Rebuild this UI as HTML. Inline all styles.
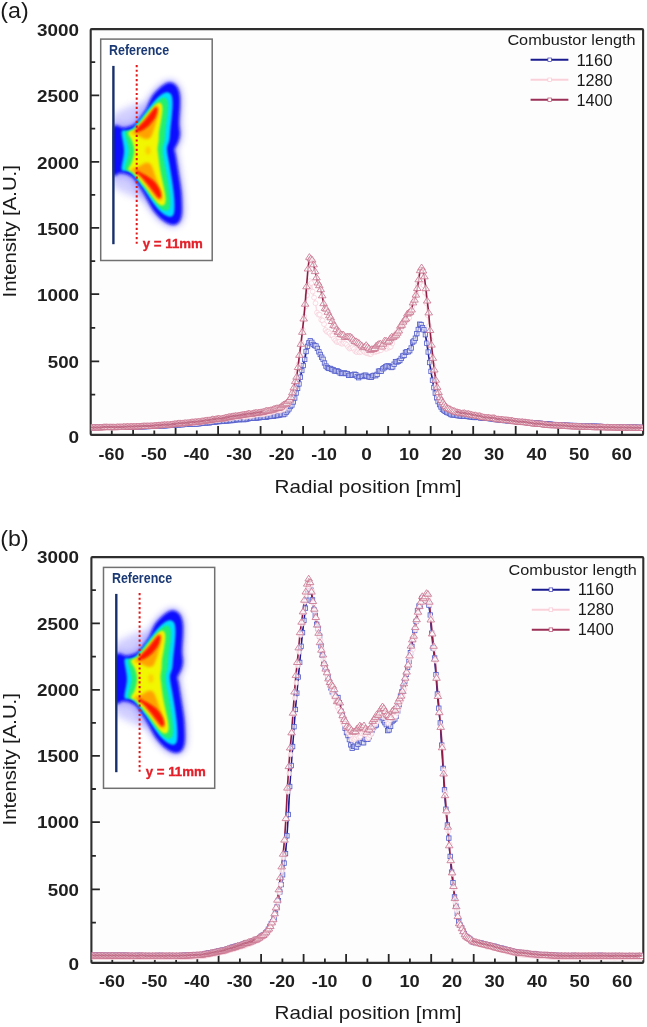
<!DOCTYPE html>
<html lang="en"><head><meta charset="utf-8"><title>Intensity profiles vs. radial position</title>
<style>html,body{margin:0;padding:0;background:#fff}body{width:647px;height:1027px;overflow:hidden}svg{display:block;font-family:"Liberation Sans", Arial, Helvetica, sans-serif}</style></head><body>
<svg width="647" height="1027" viewBox="0 0 647 1027">
<defs>
<filter id="fb4" x="-30%" y="-30%" width="160%" height="160%"><feGaussianBlur stdDeviation="3.6"/></filter>
<filter id="fb2" x="-30%" y="-30%" width="160%" height="160%"><feGaussianBlur stdDeviation="1.6"/></filter>
<filter id="fb15" x="-30%" y="-30%" width="160%" height="160%"><feGaussianBlur stdDeviation="1.5"/></filter>
<filter id="fb1" x="-30%" y="-30%" width="160%" height="160%"><feGaussianBlur stdDeviation="1.2"/></filter>
<clipPath id="clipa"><rect x="90.8" y="29.1" width="552.2" height="406.8"/></clipPath>
<clipPath id="clipb"><rect x="91.5" y="557.1" width="551.7" height="406.8"/></clipPath>
<clipPath id="wall"><rect x="112.6" y="40" width="100" height="218"/></clipPath>
<filter id="soft" x="0" y="0" width="100%" height="100%" filterUnits="userSpaceOnUse" primitiveUnits="userSpaceOnUse"><feGaussianBlur stdDeviation="0.55"/></filter>
</defs>
<rect width="647" height="1027" fill="#fff"/>
<!-- panel a -->
<rect x="90.7" y="29.1" width="552.4" height="405.8" fill="#fdfdfe"/>
<rect x="100.7" y="39.1" width="111.5" height="221.4" fill="#fff" stroke="#707070" stroke-width="1.5"/>
<g transform="translate(0 0)" clip-path="url(#wall)">
<path d="M109.4 127.8C111.7 119.8 119.8 125.6 123.2 124.8C126.6 124.1 127.9 124.1 129.7 123.4C131.6 122.6 132.6 121.8 134.3 120.2C135.9 118.6 137.7 115.9 139.4 113.6C141.1 111.3 142.3 109.4 144.3 106.3C146.2 103.2 148.3 98.6 151.1 95C153.8 91.5 157.6 87.4 160.8 85C164 82.6 167.3 80.7 170.2 80.8C173.1 80.9 176.3 83.3 178.1 85.7C180 88.1 180.8 91.6 181.4 95.1C181.9 98.6 181.7 103.1 181.6 106.8C181.5 110.4 181 114.1 180.9 117.2C180.7 120.2 180.6 122.4 180.7 125.2C180.8 127.9 181.7 130.9 181.6 133.7C181.5 136.6 180.6 139.7 179.8 142C179 144.4 177.6 146.5 176.9 147.8C176.3 149.1 176 148.9 176 150C176 151.1 176.7 151.8 177.1 154.4C177.6 157 178.3 161.7 179 165.6C179.6 169.5 180.2 173.7 180.9 177.7C181.5 181.8 182.2 186 182.7 189.9C183.1 193.9 183.4 197.2 183.5 201.3C183.6 205.4 184 210.7 183.4 214.4C182.8 218.2 181.9 221.6 179.9 223.6C177.9 225.6 174.6 226.8 171.4 226.3C168.2 225.8 164.2 223.4 160.8 220.7C157.4 217.9 154.2 214.1 151.1 209.9C147.9 205.8 144.2 199.8 141.6 195.7C139 191.7 137.2 188.5 135.4 185.8C133.6 183.2 132.4 181.3 130.8 179.9C129.3 178.4 127.8 177.7 125.9 177C124.1 176.4 122.5 176.6 119.7 176C116.9 175.3 111.1 181.2 109.3 173.1C107.6 165.1 107.1 135.9 109.4 127.8Z" fill="#7a74ff" opacity="0.78" filter="url(#fb4)"/>
<path d="M112.5 129C115.1 130.8 123.8 128.7 128 127C132.2 125.3 135 122.3 138 119C141 115.7 145.7 109.7 146 107C146.3 104.3 143.3 102.8 140 103C136.7 103.2 130.6 105.8 126 108C121.4 110.2 114.8 112.5 112.5 116C110.2 119.5 109.9 127.2 112.5 129Z" fill="#9a94ff" opacity="0.45" filter="url(#fb4)"/>
<path d="M112.5 172.5C115.1 170.7 123.8 172.8 128 174.5C132.2 176.2 135 179.2 138 182.5C141 185.8 145.7 191.8 146 194.5C146.3 197.2 143.3 198.7 140 198.5C136.7 198.3 130.6 195.7 126 193.5C121.4 191.3 114.8 189 112.5 185.5C110.2 182 109.9 174.3 112.5 172.5Z" fill="#9a94ff" opacity="0.45" filter="url(#fb4)"/>
<path d="M112.3 128.6C114.2 121.1 120.5 128.2 123.6 127.8C126.7 127.4 128.8 127 130.9 126.1C133.1 125.2 134.5 124.1 136.4 122.4C138.2 120.6 140.1 117.8 141.8 115.4C143.6 113 145.1 111.1 146.8 107.9C148.6 104.7 149.9 99.7 152.4 96.1C154.9 92.5 158.9 88.6 161.9 86.3C164.8 84.1 167.7 82.4 170.2 82.5C172.7 82.6 175.2 84.5 176.7 86.6C178.3 88.8 179.2 92 179.7 95.4C180.2 98.7 180 103.1 179.9 106.7C179.8 110.4 179.3 114 179.2 117.1C179 120.2 178.9 122.5 179 125.2C179.1 128 180 131 179.9 133.7C179.8 136.4 179 139.2 178.2 141.5C177.5 143.7 176 145.7 175.4 147.1C174.7 148.5 174.3 148.7 174.3 150C174.3 151.3 175 152.1 175.5 154.7C176 157.4 176.7 162 177.3 165.9C177.9 169.7 178.6 173.9 179.2 178C179.8 182 180.6 186.2 181 190.1C181.4 194 181.7 197.3 181.8 201.4C181.9 205.4 182.2 210.7 181.7 214.2C181.2 217.7 180.3 220.7 178.6 222.5C177 224.2 174.6 225.2 171.8 224.7C169 224.1 165.1 222 161.8 219.4C158.6 216.7 155.4 213.1 152.4 208.9C149.5 204.7 146.6 198.2 144.1 194.1C141.7 190 139.7 186.9 137.8 184.1C136 181.4 134.7 179.3 132.9 177.6C131 176 129.1 175 126.9 174.2C124.8 173.4 122.4 173.3 120 173C117.5 172.7 113.6 180 112.3 172.6C111 165.2 110.4 136 112.3 128.6Z" fill="#1010ff" filter="url(#fb2)"/>
<path d="M121.6 132.1C122.1 128.7 125.4 131.4 127.1 130.9C128.9 130.3 130.9 129.7 132.2 128.8C133.6 128 133.2 128.2 135.3 125.7C137.4 123.1 141.5 117.6 144.6 113.5C147.7 109.5 151 104.8 153.9 101.6C156.8 98.3 159.7 95.7 162.1 94.1C164.5 92.6 166.7 92.1 168.3 92.4C169.9 92.7 171 93.9 171.7 95.8C172.4 97.8 172.6 100.5 172.6 104C172.6 107.5 172.1 112.7 171.7 117C171.3 121.3 170.7 126 170.3 129.9C169.9 133.7 169.9 137.3 169.4 139.9C168.9 142.6 167.8 144.2 167.4 145.9C167 147.6 166.9 148.3 167 150C167.1 151.8 167.5 154.1 167.9 156.5C168.3 158.9 168.8 160.7 169.4 164.4C170 168 171 173.6 171.7 178.3C172.4 182.9 173.1 187.7 173.6 192.1C174.1 196.6 174.5 201.4 174.5 205.1C174.5 208.8 174.5 212.3 173.6 214.2C172.8 216.2 171.2 217 169.3 216.8C167.4 216.6 164.7 215.2 162.2 213.1C159.6 211 156.8 207.8 153.9 204C151 200.1 147.7 194.6 144.6 190.1C141.5 185.6 137.5 179.9 135.3 177.1C133.1 174.2 132.6 174.3 131.2 173.2C129.9 172.1 128.8 171.3 127.2 170.6C125.5 170 122.1 172.6 121.6 169.3C121.1 166 124 157 124 150.8C124 144.6 121.1 135.4 121.6 132.1Z" fill="#00dcff" filter="url(#fb1)"/>
<path d="M125 132.8C125.2 129.4 128.3 131.4 130 130.5C131.7 129.6 132.6 129.6 135 127.2C137.4 124.8 141.2 119.8 144.3 116.1C147.4 112.4 150.8 107.9 153.6 105C156.4 102.1 159 99.7 161 98.5C163 97.3 164.4 97.2 165.6 98C166.8 98.8 167.6 100.6 167.9 103.1C168.2 105.6 167.9 109 167.5 113.2C167.1 117.4 166.1 123.6 165.6 128.1C165.1 132.6 165.1 137 164.7 140C164.3 143 163.3 144.3 163 146C162.7 147.7 162.7 148.3 162.7 150C162.7 151.7 162.7 153.2 163.2 156.4C163.7 159.6 164.8 164.5 165.6 168.9C166.4 173.3 167.2 178.2 167.9 182.8C168.6 187.4 169.5 192.7 169.8 196.7C170.1 200.7 170.4 204.6 169.8 206.9C169.2 209.2 168 210.4 166.5 210.7C165 211 163.2 210.5 161 208.8C158.8 207.1 156.4 204.1 153.6 200.5C150.8 196.9 147.4 191.6 144.3 187.5C141.2 183.4 137.4 178.6 135 175.9C132.6 173.2 131.7 172.7 130 171.5C128.3 170.3 125.2 172.2 125 168.8C124.8 165.4 128.7 156.8 128.7 150.8C128.7 144.8 124.8 136.2 125 132.8Z" fill="#20f070" filter="url(#fb1)"/>
<path d="M128.2 133.2C128.2 131.5 130.9 131.2 132 130.5C133.1 129.8 132.9 131.2 135 129.1C137.1 127 141.4 121.6 144.3 118C147.2 114.4 150.3 110.2 152.6 107.7C154.9 105.2 156.7 103.7 158.2 103.1C159.7 102.5 160.7 102.9 161.4 104C162.1 105.1 162.5 106.7 162.4 109.5C162.3 112.3 161.6 117 161 120.7C160.4 124.4 159.5 128.6 159.1 131.8C158.7 135 158.9 137.6 158.7 140C158.5 142.4 158 144.3 157.8 146C157.6 147.7 157.5 148.5 157.6 150C157.7 151.5 157.8 151.8 158.2 155C158.6 158.2 159.3 164.6 160 168.9C160.7 173.2 161.6 177.1 162.4 181C163.2 184.9 164.2 188.8 164.7 192.1C165.2 195.3 165.8 198.3 165.6 200.5C165.4 202.7 164.9 204.5 163.8 205.1C162.7 205.7 161 205.6 159.1 204.2C157.2 202.8 155.1 199.8 152.6 196.7C150.1 193.6 147.2 189.3 144.3 185.6C141.4 181.9 137.1 176.8 135 174.5C132.9 172.2 133.1 172.3 132 171.5C130.9 170.7 128.2 171 128.2 169.4C128.2 167.8 130.9 165.1 131.9 162C132.9 158.9 134.2 154.4 134.2 150.8C134.2 147.2 132.9 143.5 131.9 140.6C130.9 137.7 128.2 134.9 128.2 133.2Z" fill="#f2f600" filter="url(#fb1)"/>
<path d="M131 133C131.3 132.2 134.7 131.7 136.9 129.5C139.1 127.3 141.8 122.9 144.3 119.7C146.8 116.5 149.7 112.8 151.7 110.5C153.7 108.2 155.1 106.3 156.3 105.8C157.5 105.3 158.4 106.2 158.7 107.7C159 109.2 158.8 112.3 158.2 115.1C157.6 117.9 156.3 121.6 155.4 124.4C154.5 127.2 153.9 129.7 153 132C152.1 134.3 151.3 136.8 150 138C148.7 139.2 146.7 139.2 145 139C143.3 138.8 141.7 137.2 140 136.5C138.3 135.8 136.5 135.1 135 134.5C133.5 133.9 130.7 133.8 131 133Z" fill="#ffa200" filter="url(#fb15)"/>
<path d="M131 169.5C130.8 168.7 133.5 168.6 135 168C136.5 167.4 138.3 166.8 140 166C141.7 165.2 143.3 163.4 145 163C146.7 162.6 148.7 162.5 150 163.5C151.3 164.5 152 166.6 153 169C154 171.4 154.8 174.8 156 178C157.2 181.2 158.9 184.8 160 188C161.1 191.2 162.4 194.9 162.5 197C162.6 199.1 161.4 200.2 160.5 200.5C159.6 200.8 158.4 200.2 157 199C155.6 197.8 153.8 195.4 152 193C150.2 190.6 148 187.2 146 184.5C144 181.8 141.7 178.9 140 177C138.3 175.1 137.5 174.2 136 173C134.5 171.8 131.2 170.3 131 169.5Z" fill="#ffa200" filter="url(#fb15)"/>
<ellipse cx="148" cy="150.5" rx="2.6" ry="4.2" fill="#ffc400" opacity="0.8" filter="url(#fb15)"/>
<path d="M136.9 128.1C138.4 126.3 141.8 123.5 144.3 120.7C146.8 117.9 149.8 113.7 151.7 111.4C153.6 109.2 155 107.5 155.9 107.2C156.8 106.9 157.4 107.9 157.3 109.5C157.2 111.1 156.7 114.4 155.4 116.9C154.2 119.4 151.7 122.4 149.8 124.4C148 126.4 146.2 127.8 144.3 129C142.5 130.2 140.2 131.4 138.7 131.8C137.2 132.2 135.8 132.1 135.5 131.5C135.2 130.9 135.4 129.9 136.9 128.1Z" fill="#ff1400" filter="url(#fb1)"/>
<path d="M135.9 172.6C136.5 173.5 138.7 174.4 140.6 176.3C142.5 178.2 144.9 181.2 147.1 183.8C149.3 186.4 151.8 189.8 153.6 192.1C155.4 194.4 157 196.9 158.2 197.7C159.4 198.5 160.7 197.9 161 196.7C161.3 195.5 160.9 192.6 160 190.3C159.1 188 157.2 185 155.4 182.8C153.6 180.6 151.1 178.8 148.9 177.3C146.7 175.8 144.4 174.7 142.4 173.6C140.4 172.5 138 171 136.9 170.8C135.8 170.6 135.3 171.7 135.9 172.6Z" fill="#ff1400" filter="url(#fb1)"/>
</g>
<path d="M113.4 65.9V244.2" stroke="#17306c" stroke-width="2.4"/>
<path d="M136.7 65V243.8" stroke="#e01818" stroke-width="2" stroke-dasharray="2.2 2.45"/>
<text x="109" y="55.3" font-size="15.0" font-weight="bold" text-anchor="start" fill="#1b3a75" textLength="60.2" lengthAdjust="spacingAndGlyphs">Reference</text>
<text x="142.8" y="248.4" font-size="13.4" font-weight="bold" text-anchor="start" fill="#e3202a" textLength="60" lengthAdjust="spacingAndGlyphs" stroke="#e3202a" stroke-width="0.35">y = 11mm</text>
<rect x="90.7" y="29.1" width="552.4" height="405.8" rx="1" fill="none" stroke="#2e2e2e" stroke-width="2.1"/>
<path d="M90.7 62.2h4.5M90.7 95.4h8.5M90.7 128.6h4.5M90.7 161.8h8.5M90.7 194.9h4.5M90.7 227.9h8.5M90.7 261.1h4.5M90.7 294.2h8.5M90.7 327.8h4.5M90.7 361.3h8.5M90.7 394.7h4.5" stroke="#262626" stroke-width="1.8" fill="none"/>
<path d="M111.8 434.9v-4.5M133.1 434.9v-9M154.3 434.9v-4.5M175.6 434.9v-9M196.8 434.9v-4.5M218.1 434.9v-9M239.4 434.9v-4.5M260.6 434.9v-9M281.9 434.9v-4.5M303.1 434.9v-9M324.4 434.9v-4.5M345.6 434.9v-9M366.9 434.9v-4.5M388.2 434.9v-9M409.4 434.9v-4.5M430.7 434.9v-9M451.9 434.9v-4.5M473.2 434.9v-9M494.4 434.9v-4.5M515.7 434.9v-9M537 434.9v-4.5M558.2 434.9v-9M579.5 434.9v-4.5M600.7 434.9v-9M622 434.9v-4.5" stroke="#262626" stroke-width="1.8" fill="none"/>
<g clip-path="url(#clipa)" filter="url(#soft)">
<polyline points="91.7,427.6 93.1,427.5 94.5,427.3 95.9,427.2 97.3,427.3 98.8,427.3 100.2,427.3 101.6,427.3 103,427.3 104.4,427.2 105.9,427.2 107.3,427.2 108.7,427.2 110.1,427.2 111.5,427 113,427 114.4,427.2 115.8,427.2 117.2,427.1 118.6,427 120.1,427.1 121.5,427 122.9,427 124.3,427.1 125.7,427 127.2,426.9 128.6,426.9 130,426.8 131.4,426.8 132.8,426.7 134.3,426.7 135.7,426.7 137.1,426.7 138.5,426.7 139.9,426.7 141.4,426.7 142.8,426.7 144.2,426.7 145.6,426.5 147,426.6 148.5,426.5 149.9,426.4 151.3,426.4 152.7,426.4 154.1,426.3 155.6,426.1 157,426.1 158.4,426 159.8,425.7 161.2,425.7 162.7,425.8 164.1,425.8 165.5,425.7 166.9,425.6 168.3,425.5 169.8,425.4 171.2,425.3 172.6,425.1 174,425 175.4,425 176.9,424.8 178.3,424.9 179.7,424.7 181.1,424.7 182.5,424.7 184,424.4 185.4,424.3 186.8,424.4 188.2,424.1 189.6,424.1 191.1,424.1 192.5,424 193.9,424 195.3,423.9 196.7,423.9 198.2,423.8 199.6,423.6 201,423.3 202.4,423.1 203.8,422.9 205.3,422.9 206.7,422.7 208.1,422.8 209.5,422.8 210.9,422.3 212.4,422.1 213.8,422.1 215.2,422 216.6,421.7 218,421.6 219.5,421.5 220.9,421.4 222.3,421.4 223.7,421.1 225.1,421 226.6,420.9 228,420.8 229.4,420.5 230.8,420.6 232.2,420.5 233.7,420.3 235.1,420 236.5,419.5 237.9,419.6 239.3,419.7 240.8,419.5 242.2,419.4 243.6,419.6 245,419.5 246.4,419.1 247.9,418.9 249.3,418.2 250.7,418 252.1,418.3 253.5,418.2 255,418.1 256.4,418 257.8,417.8 259.2,417.7 260.6,417.4 262.1,417 263.5,417.1 264.9,417.2 266.3,417.2 267.7,416.6 269.2,416.5 270.6,416.3 272,416.1 273.4,416.2 274.8,415.7 276.3,415.6 277.7,415.5 279.1,415.2 280.5,414.6 281.9,414.5 283.4,414.6 284.8,413.9 286.2,412.2 287.6,410.7 289,408.9 290.5,406.5 291.9,405 293.3,402 294.7,398 296.1,393 297.6,388.4 299,383.9 300.4,377.1 301.8,370.5 303.2,365.5 304.7,359.4 306.1,351.5 307.5,346.3 308.9,342.8 310.3,340.8 311.8,342.3 313.2,344.5 314.6,345.5 316,346 317.4,348.4 318.9,351.8 320.3,354.5 321.7,357.2 323.1,359.3 324.5,363 326,366.1 327.4,367.6 328.8,368.4 330.2,368.5 331.6,369.3 333.1,369.7 334.5,371 335.9,371 337.3,370.9 338.7,371.6 340.2,373 341.6,373.5 343,373.4 344.4,372.9 345.8,373.5 347.3,373.6 348.7,375.4 350.1,375.2 351.5,375.2 352.9,375 354.4,374.2 355.8,374.7 357.2,376.5 358.6,377.7 360,376.5 361.5,376.3 362.9,376.5 364.3,375.4 365.7,375.2 367.1,376.3 368.6,376.8 370,377.1 371.4,377.3 372.8,375.8 374.2,375.3 375.7,375.7 377.1,374.4 378.5,371.2 379.9,370.9 381.3,371.2 382.8,368.8 384.2,367.7 385.6,366.8 387,366 388.4,365.9 389.9,366.7 391.3,367.5 392.7,366.9 394.1,364.2 395.5,361.6 397,362 398.4,361.3 399.8,360.5 401.2,358.4 402.6,356 404.1,355.4 405.5,352.4 406.9,351.7 408.3,351.8 409.7,350.7 411.2,348 412.6,342.1 414,340.9 415.4,338.2 416.8,333.6 418.3,329.5 419.7,324.2 421.1,324.6 422.5,327.6 423.9,329.8 425.4,334.7 426.8,343.2 428.2,352 429.6,362.5 431,371.4 432.5,380.2 433.9,387.6 435.3,393.1 436.7,397.8 438.1,401.6 439.6,404.6 441,407 442.4,409.2 443.8,410.2 445.2,411.4 446.7,412.3 448.1,412.8 449.5,413.5 450.9,414.5 452.3,415 453.8,414.8 455.2,415 456.6,415.2 458,415.7 459.4,415.8 460.9,416 462.3,416.2 463.7,416.4 465.1,416.1 466.5,416.2 468,416.5 469.4,416.8 470.8,416.8 472.2,417.1 473.6,417.4 475.1,417.5 476.5,417.4 477.9,417.3 479.3,417.4 480.7,418 482.2,418.1 483.6,417.9 485,418.1 486.4,418.2 487.8,418.3 489.3,418.6 490.7,418.7 492.1,419 493.5,419.3 494.9,419.4 496.4,419.6 497.8,419.7 499.2,419.8 500.6,420.1 502,420.4 503.5,420.4 504.9,420.6 506.3,420.5 507.7,420.8 509.1,420.9 510.6,420.8 512,420.8 513.4,421.3 514.8,421.3 516.2,421.4 517.7,421.7 519.1,421.9 520.5,422.1 521.9,422.1 523.3,422.1 524.8,422.4 526.2,422.4 527.6,422.6 529,422.8 530.4,423 531.9,422.9 533.3,422.9 534.7,423 536.1,422.9 537.5,423.1 539,423.2 540.4,423.4 541.8,423.6 543.2,423.8 544.6,424.1 546.1,424.1 547.5,423.9 548.9,424.1 550.3,424.2 551.7,424.4 553.2,424.6 554.6,424.7 556,424.8 557.4,424.9 558.8,424.8 560.3,424.7 561.7,424.8 563.1,425 564.5,425.1 565.9,425.2 567.4,425.4 568.8,425.4 570.2,425.5 571.6,425.5 573,425.6 574.5,425.5 575.9,425.6 577.3,425.6 578.7,425.7 580.1,425.9 581.6,425.7 583,425.7 584.4,425.9 585.8,425.9 587.2,425.9 588.7,426.1 590.1,426.2 591.5,426.3 592.9,426.3 594.3,426.2 595.8,426.3 597.2,426.5 598.6,426.4 600,426.4 601.4,426.6 602.9,426.7 604.3,426.7 605.7,426.6 607.1,426.8 608.5,426.7 610,426.7 611.4,426.8 612.8,426.8 614.2,426.7 615.6,426.9 617.1,427 618.5,426.8 619.9,426.8 621.3,427 622.7,427.1 624.2,427.2 625.6,427.2 627,427.1 628.4,427.2 629.8,427.3 631.3,427.3 632.7,427.3 634.1,427.2 635.5,427.2 636.9,427.3 638.4,427.3 639.8,427.5 641.2,427.5 642.6,427.5" fill="none" stroke="#1d1d96" stroke-width="1.7" stroke-linejoin="round"/>
<g fill="#fff" fill-opacity="0.6" stroke="#5660cc" stroke-width="0.85">
<rect x="89.5" y="425.4" width="4.4" height="4.4"/>
<rect x="90.9" y="425.3" width="4.4" height="4.4"/>
<rect x="92.3" y="425.1" width="4.4" height="4.4"/>
<rect x="93.7" y="425" width="4.4" height="4.4"/>
<rect x="95.1" y="425.1" width="4.4" height="4.4"/>
<rect x="96.6" y="425.1" width="4.4" height="4.4"/>
<rect x="98" y="425.1" width="4.4" height="4.4"/>
<rect x="99.4" y="425.1" width="4.4" height="4.4"/>
<rect x="100.8" y="425.1" width="4.4" height="4.4"/>
<rect x="102.2" y="425" width="4.4" height="4.4"/>
<rect x="103.7" y="425" width="4.4" height="4.4"/>
<rect x="105.1" y="425" width="4.4" height="4.4"/>
<rect x="106.5" y="425" width="4.4" height="4.4"/>
<rect x="107.9" y="425" width="4.4" height="4.4"/>
<rect x="109.3" y="424.8" width="4.4" height="4.4"/>
<rect x="110.8" y="424.8" width="4.4" height="4.4"/>
<rect x="112.2" y="425" width="4.4" height="4.4"/>
<rect x="113.6" y="425" width="4.4" height="4.4"/>
<rect x="115" y="424.9" width="4.4" height="4.4"/>
<rect x="116.4" y="424.8" width="4.4" height="4.4"/>
<rect x="117.9" y="424.9" width="4.4" height="4.4"/>
<rect x="119.3" y="424.8" width="4.4" height="4.4"/>
<rect x="120.7" y="424.8" width="4.4" height="4.4"/>
<rect x="122.1" y="424.9" width="4.4" height="4.4"/>
<rect x="123.5" y="424.8" width="4.4" height="4.4"/>
<rect x="125" y="424.7" width="4.4" height="4.4"/>
<rect x="126.4" y="424.7" width="4.4" height="4.4"/>
<rect x="127.8" y="424.6" width="4.4" height="4.4"/>
<rect x="129.2" y="424.6" width="4.4" height="4.4"/>
<rect x="130.6" y="424.5" width="4.4" height="4.4"/>
<rect x="132.1" y="424.5" width="4.4" height="4.4"/>
<rect x="133.5" y="424.5" width="4.4" height="4.4"/>
<rect x="134.9" y="424.5" width="4.4" height="4.4"/>
<rect x="136.3" y="424.5" width="4.4" height="4.4"/>
<rect x="137.7" y="424.5" width="4.4" height="4.4"/>
<rect x="139.2" y="424.5" width="4.4" height="4.4"/>
<rect x="140.6" y="424.5" width="4.4" height="4.4"/>
<rect x="142" y="424.5" width="4.4" height="4.4"/>
<rect x="143.4" y="424.3" width="4.4" height="4.4"/>
<rect x="144.8" y="424.4" width="4.4" height="4.4"/>
<rect x="146.3" y="424.3" width="4.4" height="4.4"/>
<rect x="147.7" y="424.2" width="4.4" height="4.4"/>
<rect x="149.1" y="424.2" width="4.4" height="4.4"/>
<rect x="150.5" y="424.2" width="4.4" height="4.4"/>
<rect x="151.9" y="424.1" width="4.4" height="4.4"/>
<rect x="153.4" y="423.9" width="4.4" height="4.4"/>
<rect x="154.8" y="423.9" width="4.4" height="4.4"/>
<rect x="156.2" y="423.8" width="4.4" height="4.4"/>
<rect x="157.6" y="423.5" width="4.4" height="4.4"/>
<rect x="159" y="423.5" width="4.4" height="4.4"/>
<rect x="160.5" y="423.6" width="4.4" height="4.4"/>
<rect x="161.9" y="423.6" width="4.4" height="4.4"/>
<rect x="163.3" y="423.5" width="4.4" height="4.4"/>
<rect x="164.7" y="423.4" width="4.4" height="4.4"/>
<rect x="166.1" y="423.3" width="4.4" height="4.4"/>
<rect x="167.6" y="423.2" width="4.4" height="4.4"/>
<rect x="169" y="423.1" width="4.4" height="4.4"/>
<rect x="170.4" y="422.9" width="4.4" height="4.4"/>
<rect x="171.8" y="422.8" width="4.4" height="4.4"/>
<rect x="173.2" y="422.8" width="4.4" height="4.4"/>
<rect x="174.7" y="422.6" width="4.4" height="4.4"/>
<rect x="176.1" y="422.7" width="4.4" height="4.4"/>
<rect x="177.5" y="422.5" width="4.4" height="4.4"/>
<rect x="178.9" y="422.5" width="4.4" height="4.4"/>
<rect x="180.3" y="422.5" width="4.4" height="4.4"/>
<rect x="181.8" y="422.2" width="4.4" height="4.4"/>
<rect x="183.2" y="422.1" width="4.4" height="4.4"/>
<rect x="184.6" y="422.2" width="4.4" height="4.4"/>
<rect x="186" y="421.9" width="4.4" height="4.4"/>
<rect x="187.4" y="421.9" width="4.4" height="4.4"/>
<rect x="188.9" y="421.9" width="4.4" height="4.4"/>
<rect x="190.3" y="421.8" width="4.4" height="4.4"/>
<rect x="191.7" y="421.8" width="4.4" height="4.4"/>
<rect x="193.1" y="421.7" width="4.4" height="4.4"/>
<rect x="194.5" y="421.7" width="4.4" height="4.4"/>
<rect x="196" y="421.6" width="4.4" height="4.4"/>
<rect x="197.4" y="421.4" width="4.4" height="4.4"/>
<rect x="198.8" y="421.1" width="4.4" height="4.4"/>
<rect x="200.2" y="420.9" width="4.4" height="4.4"/>
<rect x="201.6" y="420.7" width="4.4" height="4.4"/>
<rect x="203.1" y="420.7" width="4.4" height="4.4"/>
<rect x="204.5" y="420.5" width="4.4" height="4.4"/>
<rect x="205.9" y="420.6" width="4.4" height="4.4"/>
<rect x="207.3" y="420.6" width="4.4" height="4.4"/>
<rect x="208.7" y="420.1" width="4.4" height="4.4"/>
<rect x="210.2" y="419.9" width="4.4" height="4.4"/>
<rect x="211.6" y="419.9" width="4.4" height="4.4"/>
<rect x="213" y="419.8" width="4.4" height="4.4"/>
<rect x="214.4" y="419.5" width="4.4" height="4.4"/>
<rect x="215.8" y="419.4" width="4.4" height="4.4"/>
<rect x="217.3" y="419.3" width="4.4" height="4.4"/>
<rect x="218.7" y="419.2" width="4.4" height="4.4"/>
<rect x="220.1" y="419.2" width="4.4" height="4.4"/>
<rect x="221.5" y="418.9" width="4.4" height="4.4"/>
<rect x="222.9" y="418.8" width="4.4" height="4.4"/>
<rect x="224.4" y="418.7" width="4.4" height="4.4"/>
<rect x="225.8" y="418.6" width="4.4" height="4.4"/>
<rect x="227.2" y="418.3" width="4.4" height="4.4"/>
<rect x="228.6" y="418.4" width="4.4" height="4.4"/>
<rect x="230" y="418.3" width="4.4" height="4.4"/>
<rect x="231.5" y="418.1" width="4.4" height="4.4"/>
<rect x="232.9" y="417.8" width="4.4" height="4.4"/>
<rect x="234.3" y="417.3" width="4.4" height="4.4"/>
<rect x="235.7" y="417.4" width="4.4" height="4.4"/>
<rect x="237.1" y="417.5" width="4.4" height="4.4"/>
<rect x="238.6" y="417.3" width="4.4" height="4.4"/>
<rect x="240" y="417.2" width="4.4" height="4.4"/>
<rect x="241.4" y="417.4" width="4.4" height="4.4"/>
<rect x="242.8" y="417.3" width="4.4" height="4.4"/>
<rect x="244.2" y="416.9" width="4.4" height="4.4"/>
<rect x="245.7" y="416.7" width="4.4" height="4.4"/>
<rect x="247.1" y="416" width="4.4" height="4.4"/>
<rect x="248.5" y="415.8" width="4.4" height="4.4"/>
<rect x="249.9" y="416.1" width="4.4" height="4.4"/>
<rect x="251.3" y="416" width="4.4" height="4.4"/>
<rect x="252.8" y="415.9" width="4.4" height="4.4"/>
<rect x="254.2" y="415.8" width="4.4" height="4.4"/>
<rect x="255.6" y="415.6" width="4.4" height="4.4"/>
<rect x="257" y="415.5" width="4.4" height="4.4"/>
<rect x="258.4" y="415.2" width="4.4" height="4.4"/>
<rect x="259.9" y="414.8" width="4.4" height="4.4"/>
<rect x="261.3" y="414.9" width="4.4" height="4.4"/>
<rect x="262.7" y="415" width="4.4" height="4.4"/>
<rect x="264.1" y="415" width="4.4" height="4.4"/>
<rect x="265.5" y="414.4" width="4.4" height="4.4"/>
<rect x="267" y="414.3" width="4.4" height="4.4"/>
<rect x="268.4" y="414.1" width="4.4" height="4.4"/>
<rect x="269.8" y="413.9" width="4.4" height="4.4"/>
<rect x="271.2" y="414" width="4.4" height="4.4"/>
<rect x="272.6" y="413.5" width="4.4" height="4.4"/>
<rect x="274.1" y="413.4" width="4.4" height="4.4"/>
<rect x="275.5" y="413.3" width="4.4" height="4.4"/>
<rect x="276.9" y="413" width="4.4" height="4.4"/>
<rect x="278.3" y="412.4" width="4.4" height="4.4"/>
<rect x="279.7" y="412.3" width="4.4" height="4.4"/>
<rect x="281.2" y="412.4" width="4.4" height="4.4"/>
<rect x="282.6" y="411.7" width="4.4" height="4.4"/>
<rect x="284" y="410" width="4.4" height="4.4"/>
<rect x="285.4" y="408.5" width="4.4" height="4.4"/>
<rect x="286.8" y="406.7" width="4.4" height="4.4"/>
<rect x="288.3" y="404.3" width="4.4" height="4.4"/>
<rect x="289.7" y="402.8" width="4.4" height="4.4"/>
<rect x="291.1" y="399.8" width="4.4" height="4.4"/>
<rect x="292.5" y="395.8" width="4.4" height="4.4"/>
<rect x="293.9" y="390.8" width="4.4" height="4.4"/>
<rect x="295.4" y="386.2" width="4.4" height="4.4"/>
<rect x="296.8" y="381.7" width="4.4" height="4.4"/>
<rect x="298.2" y="374.9" width="4.4" height="4.4"/>
<rect x="299.6" y="368.3" width="4.4" height="4.4"/>
<rect x="301" y="363.3" width="4.4" height="4.4"/>
<rect x="302.5" y="357.2" width="4.4" height="4.4"/>
<rect x="303.9" y="349.3" width="4.4" height="4.4"/>
<rect x="305.3" y="344.1" width="4.4" height="4.4"/>
<rect x="306.7" y="340.6" width="4.4" height="4.4"/>
<rect x="308.1" y="338.6" width="4.4" height="4.4"/>
<rect x="309.6" y="340.1" width="4.4" height="4.4"/>
<rect x="311" y="342.3" width="4.4" height="4.4"/>
<rect x="312.4" y="343.3" width="4.4" height="4.4"/>
<rect x="313.8" y="343.8" width="4.4" height="4.4"/>
<rect x="315.2" y="346.2" width="4.4" height="4.4"/>
<rect x="316.7" y="349.6" width="4.4" height="4.4"/>
<rect x="318.1" y="352.3" width="4.4" height="4.4"/>
<rect x="319.5" y="355" width="4.4" height="4.4"/>
<rect x="320.9" y="357.1" width="4.4" height="4.4"/>
<rect x="322.3" y="360.8" width="4.4" height="4.4"/>
<rect x="323.8" y="363.9" width="4.4" height="4.4"/>
<rect x="325.2" y="365.4" width="4.4" height="4.4"/>
<rect x="326.6" y="366.2" width="4.4" height="4.4"/>
<rect x="328" y="366.3" width="4.4" height="4.4"/>
<rect x="329.4" y="367.1" width="4.4" height="4.4"/>
<rect x="330.9" y="367.5" width="4.4" height="4.4"/>
<rect x="332.3" y="368.8" width="4.4" height="4.4"/>
<rect x="333.7" y="368.8" width="4.4" height="4.4"/>
<rect x="335.1" y="368.7" width="4.4" height="4.4"/>
<rect x="336.5" y="369.4" width="4.4" height="4.4"/>
<rect x="338" y="370.8" width="4.4" height="4.4"/>
<rect x="339.4" y="371.3" width="4.4" height="4.4"/>
<rect x="340.8" y="371.2" width="4.4" height="4.4"/>
<rect x="342.2" y="370.7" width="4.4" height="4.4"/>
<rect x="343.6" y="371.3" width="4.4" height="4.4"/>
<rect x="345.1" y="371.4" width="4.4" height="4.4"/>
<rect x="346.5" y="373.2" width="4.4" height="4.4"/>
<rect x="347.9" y="373" width="4.4" height="4.4"/>
<rect x="349.3" y="373" width="4.4" height="4.4"/>
<rect x="350.7" y="372.8" width="4.4" height="4.4"/>
<rect x="352.2" y="372" width="4.4" height="4.4"/>
<rect x="353.6" y="372.5" width="4.4" height="4.4"/>
<rect x="355" y="374.3" width="4.4" height="4.4"/>
<rect x="356.4" y="375.5" width="4.4" height="4.4"/>
<rect x="357.8" y="374.3" width="4.4" height="4.4"/>
<rect x="359.3" y="374.1" width="4.4" height="4.4"/>
<rect x="360.7" y="374.3" width="4.4" height="4.4"/>
<rect x="362.1" y="373.2" width="4.4" height="4.4"/>
<rect x="363.5" y="373" width="4.4" height="4.4"/>
<rect x="364.9" y="374.1" width="4.4" height="4.4"/>
<rect x="366.4" y="374.6" width="4.4" height="4.4"/>
<rect x="367.8" y="374.9" width="4.4" height="4.4"/>
<rect x="369.2" y="375.1" width="4.4" height="4.4"/>
<rect x="370.6" y="373.6" width="4.4" height="4.4"/>
<rect x="372" y="373.1" width="4.4" height="4.4"/>
<rect x="373.5" y="373.5" width="4.4" height="4.4"/>
<rect x="374.9" y="372.2" width="4.4" height="4.4"/>
<rect x="376.3" y="369" width="4.4" height="4.4"/>
<rect x="377.7" y="368.7" width="4.4" height="4.4"/>
<rect x="379.1" y="369" width="4.4" height="4.4"/>
<rect x="380.6" y="366.6" width="4.4" height="4.4"/>
<rect x="382" y="365.5" width="4.4" height="4.4"/>
<rect x="383.4" y="364.6" width="4.4" height="4.4"/>
<rect x="384.8" y="363.8" width="4.4" height="4.4"/>
<rect x="386.2" y="363.7" width="4.4" height="4.4"/>
<rect x="387.7" y="364.5" width="4.4" height="4.4"/>
<rect x="389.1" y="365.3" width="4.4" height="4.4"/>
<rect x="390.5" y="364.7" width="4.4" height="4.4"/>
<rect x="391.9" y="362" width="4.4" height="4.4"/>
<rect x="393.3" y="359.4" width="4.4" height="4.4"/>
<rect x="394.8" y="359.8" width="4.4" height="4.4"/>
<rect x="396.2" y="359.1" width="4.4" height="4.4"/>
<rect x="397.6" y="358.3" width="4.4" height="4.4"/>
<rect x="399" y="356.2" width="4.4" height="4.4"/>
<rect x="400.4" y="353.8" width="4.4" height="4.4"/>
<rect x="401.9" y="353.2" width="4.4" height="4.4"/>
<rect x="403.3" y="350.2" width="4.4" height="4.4"/>
<rect x="404.7" y="349.5" width="4.4" height="4.4"/>
<rect x="406.1" y="349.6" width="4.4" height="4.4"/>
<rect x="407.5" y="348.5" width="4.4" height="4.4"/>
<rect x="409" y="345.8" width="4.4" height="4.4"/>
<rect x="410.4" y="339.9" width="4.4" height="4.4"/>
<rect x="411.8" y="338.7" width="4.4" height="4.4"/>
<rect x="413.2" y="336" width="4.4" height="4.4"/>
<rect x="414.6" y="331.4" width="4.4" height="4.4"/>
<rect x="416.1" y="327.3" width="4.4" height="4.4"/>
<rect x="417.5" y="322" width="4.4" height="4.4"/>
<rect x="418.9" y="322.4" width="4.4" height="4.4"/>
<rect x="420.3" y="325.4" width="4.4" height="4.4"/>
<rect x="421.7" y="327.6" width="4.4" height="4.4"/>
<rect x="423.2" y="332.5" width="4.4" height="4.4"/>
<rect x="424.6" y="341" width="4.4" height="4.4"/>
<rect x="426" y="349.8" width="4.4" height="4.4"/>
<rect x="427.4" y="360.3" width="4.4" height="4.4"/>
<rect x="428.8" y="369.2" width="4.4" height="4.4"/>
<rect x="430.3" y="378" width="4.4" height="4.4"/>
<rect x="431.7" y="385.4" width="4.4" height="4.4"/>
<rect x="433.1" y="390.9" width="4.4" height="4.4"/>
<rect x="434.5" y="395.6" width="4.4" height="4.4"/>
<rect x="435.9" y="399.4" width="4.4" height="4.4"/>
<rect x="437.4" y="402.4" width="4.4" height="4.4"/>
<rect x="438.8" y="404.8" width="4.4" height="4.4"/>
<rect x="440.2" y="407" width="4.4" height="4.4"/>
<rect x="441.6" y="408" width="4.4" height="4.4"/>
<rect x="443" y="409.2" width="4.4" height="4.4"/>
<rect x="444.5" y="410.1" width="4.4" height="4.4"/>
<rect x="445.9" y="410.6" width="4.4" height="4.4"/>
<rect x="447.3" y="411.3" width="4.4" height="4.4"/>
<rect x="448.7" y="412.3" width="4.4" height="4.4"/>
<rect x="450.1" y="412.8" width="4.4" height="4.4"/>
<rect x="451.6" y="412.6" width="4.4" height="4.4"/>
<rect x="453" y="412.8" width="4.4" height="4.4"/>
<rect x="454.4" y="413" width="4.4" height="4.4"/>
<rect x="455.8" y="413.5" width="4.4" height="4.4"/>
<rect x="457.2" y="413.6" width="4.4" height="4.4"/>
<rect x="458.7" y="413.8" width="4.4" height="4.4"/>
<rect x="460.1" y="414" width="4.4" height="4.4"/>
<rect x="461.5" y="414.2" width="4.4" height="4.4"/>
<rect x="462.9" y="413.9" width="4.4" height="4.4"/>
<rect x="464.3" y="414" width="4.4" height="4.4"/>
<rect x="465.8" y="414.3" width="4.4" height="4.4"/>
<rect x="467.2" y="414.6" width="4.4" height="4.4"/>
<rect x="468.6" y="414.6" width="4.4" height="4.4"/>
<rect x="470" y="414.9" width="4.4" height="4.4"/>
<rect x="471.4" y="415.2" width="4.4" height="4.4"/>
<rect x="472.9" y="415.3" width="4.4" height="4.4"/>
<rect x="474.3" y="415.2" width="4.4" height="4.4"/>
<rect x="475.7" y="415.1" width="4.4" height="4.4"/>
<rect x="477.1" y="415.2" width="4.4" height="4.4"/>
<rect x="478.5" y="415.8" width="4.4" height="4.4"/>
<rect x="480" y="415.9" width="4.4" height="4.4"/>
<rect x="481.4" y="415.7" width="4.4" height="4.4"/>
<rect x="482.8" y="415.9" width="4.4" height="4.4"/>
<rect x="484.2" y="416" width="4.4" height="4.4"/>
<rect x="485.6" y="416.1" width="4.4" height="4.4"/>
<rect x="487.1" y="416.4" width="4.4" height="4.4"/>
<rect x="488.5" y="416.5" width="4.4" height="4.4"/>
<rect x="489.9" y="416.8" width="4.4" height="4.4"/>
<rect x="491.3" y="417.1" width="4.4" height="4.4"/>
<rect x="492.7" y="417.2" width="4.4" height="4.4"/>
<rect x="494.2" y="417.4" width="4.4" height="4.4"/>
<rect x="495.6" y="417.5" width="4.4" height="4.4"/>
<rect x="497" y="417.6" width="4.4" height="4.4"/>
<rect x="498.4" y="417.9" width="4.4" height="4.4"/>
<rect x="499.8" y="418.2" width="4.4" height="4.4"/>
<rect x="501.3" y="418.2" width="4.4" height="4.4"/>
<rect x="502.7" y="418.4" width="4.4" height="4.4"/>
<rect x="504.1" y="418.3" width="4.4" height="4.4"/>
<rect x="505.5" y="418.6" width="4.4" height="4.4"/>
<rect x="506.9" y="418.7" width="4.4" height="4.4"/>
<rect x="508.4" y="418.6" width="4.4" height="4.4"/>
<rect x="509.8" y="418.6" width="4.4" height="4.4"/>
<rect x="511.2" y="419.1" width="4.4" height="4.4"/>
<rect x="512.6" y="419.1" width="4.4" height="4.4"/>
<rect x="514" y="419.2" width="4.4" height="4.4"/>
<rect x="515.5" y="419.5" width="4.4" height="4.4"/>
<rect x="516.9" y="419.7" width="4.4" height="4.4"/>
<rect x="518.3" y="419.9" width="4.4" height="4.4"/>
<rect x="519.7" y="419.9" width="4.4" height="4.4"/>
<rect x="521.1" y="419.9" width="4.4" height="4.4"/>
<rect x="522.6" y="420.2" width="4.4" height="4.4"/>
<rect x="524" y="420.2" width="4.4" height="4.4"/>
<rect x="525.4" y="420.4" width="4.4" height="4.4"/>
<rect x="526.8" y="420.6" width="4.4" height="4.4"/>
<rect x="528.2" y="420.8" width="4.4" height="4.4"/>
<rect x="529.7" y="420.7" width="4.4" height="4.4"/>
<rect x="531.1" y="420.7" width="4.4" height="4.4"/>
<rect x="532.5" y="420.8" width="4.4" height="4.4"/>
<rect x="533.9" y="420.7" width="4.4" height="4.4"/>
<rect x="535.3" y="420.9" width="4.4" height="4.4"/>
<rect x="536.8" y="421" width="4.4" height="4.4"/>
<rect x="538.2" y="421.2" width="4.4" height="4.4"/>
<rect x="539.6" y="421.4" width="4.4" height="4.4"/>
<rect x="541" y="421.6" width="4.4" height="4.4"/>
<rect x="542.4" y="421.9" width="4.4" height="4.4"/>
<rect x="543.9" y="421.9" width="4.4" height="4.4"/>
<rect x="545.3" y="421.7" width="4.4" height="4.4"/>
<rect x="546.7" y="421.9" width="4.4" height="4.4"/>
<rect x="548.1" y="422" width="4.4" height="4.4"/>
<rect x="549.5" y="422.2" width="4.4" height="4.4"/>
<rect x="551" y="422.4" width="4.4" height="4.4"/>
<rect x="552.4" y="422.5" width="4.4" height="4.4"/>
<rect x="553.8" y="422.6" width="4.4" height="4.4"/>
<rect x="555.2" y="422.7" width="4.4" height="4.4"/>
<rect x="556.6" y="422.6" width="4.4" height="4.4"/>
<rect x="558.1" y="422.5" width="4.4" height="4.4"/>
<rect x="559.5" y="422.6" width="4.4" height="4.4"/>
<rect x="560.9" y="422.8" width="4.4" height="4.4"/>
<rect x="562.3" y="422.9" width="4.4" height="4.4"/>
<rect x="563.7" y="423" width="4.4" height="4.4"/>
<rect x="565.2" y="423.2" width="4.4" height="4.4"/>
<rect x="566.6" y="423.2" width="4.4" height="4.4"/>
<rect x="568" y="423.3" width="4.4" height="4.4"/>
<rect x="569.4" y="423.3" width="4.4" height="4.4"/>
<rect x="570.8" y="423.4" width="4.4" height="4.4"/>
<rect x="572.3" y="423.3" width="4.4" height="4.4"/>
<rect x="573.7" y="423.4" width="4.4" height="4.4"/>
<rect x="575.1" y="423.4" width="4.4" height="4.4"/>
<rect x="576.5" y="423.5" width="4.4" height="4.4"/>
<rect x="577.9" y="423.7" width="4.4" height="4.4"/>
<rect x="579.4" y="423.5" width="4.4" height="4.4"/>
<rect x="580.8" y="423.5" width="4.4" height="4.4"/>
<rect x="582.2" y="423.7" width="4.4" height="4.4"/>
<rect x="583.6" y="423.7" width="4.4" height="4.4"/>
<rect x="585" y="423.7" width="4.4" height="4.4"/>
<rect x="586.5" y="423.9" width="4.4" height="4.4"/>
<rect x="587.9" y="424" width="4.4" height="4.4"/>
<rect x="589.3" y="424.1" width="4.4" height="4.4"/>
<rect x="590.7" y="424.1" width="4.4" height="4.4"/>
<rect x="592.1" y="424" width="4.4" height="4.4"/>
<rect x="593.6" y="424.1" width="4.4" height="4.4"/>
<rect x="595" y="424.3" width="4.4" height="4.4"/>
<rect x="596.4" y="424.2" width="4.4" height="4.4"/>
<rect x="597.8" y="424.2" width="4.4" height="4.4"/>
<rect x="599.2" y="424.4" width="4.4" height="4.4"/>
<rect x="600.7" y="424.5" width="4.4" height="4.4"/>
<rect x="602.1" y="424.5" width="4.4" height="4.4"/>
<rect x="603.5" y="424.4" width="4.4" height="4.4"/>
<rect x="604.9" y="424.6" width="4.4" height="4.4"/>
<rect x="606.3" y="424.5" width="4.4" height="4.4"/>
<rect x="607.8" y="424.5" width="4.4" height="4.4"/>
<rect x="609.2" y="424.6" width="4.4" height="4.4"/>
<rect x="610.6" y="424.6" width="4.4" height="4.4"/>
<rect x="612" y="424.5" width="4.4" height="4.4"/>
<rect x="613.4" y="424.7" width="4.4" height="4.4"/>
<rect x="614.9" y="424.8" width="4.4" height="4.4"/>
<rect x="616.3" y="424.6" width="4.4" height="4.4"/>
<rect x="617.7" y="424.6" width="4.4" height="4.4"/>
<rect x="619.1" y="424.8" width="4.4" height="4.4"/>
<rect x="620.5" y="424.9" width="4.4" height="4.4"/>
<rect x="622" y="425" width="4.4" height="4.4"/>
<rect x="623.4" y="425" width="4.4" height="4.4"/>
<rect x="624.8" y="424.9" width="4.4" height="4.4"/>
<rect x="626.2" y="425" width="4.4" height="4.4"/>
<rect x="627.6" y="425.1" width="4.4" height="4.4"/>
<rect x="629.1" y="425.1" width="4.4" height="4.4"/>
<rect x="630.5" y="425.1" width="4.4" height="4.4"/>
<rect x="631.9" y="425" width="4.4" height="4.4"/>
<rect x="633.3" y="425" width="4.4" height="4.4"/>
<rect x="634.7" y="425.1" width="4.4" height="4.4"/>
<rect x="636.2" y="425.1" width="4.4" height="4.4"/>
<rect x="637.6" y="425.3" width="4.4" height="4.4"/>
<rect x="639" y="425.3" width="4.4" height="4.4"/>
<rect x="640.4" y="425.3" width="4.4" height="4.4"/>
</g>
<polyline points="91.2,427.5 92.6,427.4 94,427.4 95.4,427.3 96.9,427.3 98.3,427.2 99.7,427.2 101.1,427.2 102.5,427.2 104,427.3 105.4,427.2 106.8,427.1 108.2,427.1 109.6,427 111.1,427.1 112.5,427 113.9,427 115.3,426.8 116.7,426.8 118.2,426.9 119.6,426.8 121,426.8 122.4,426.8 123.8,426.7 125.3,426.5 126.7,426.3 128.1,426.3 129.5,426.3 130.9,426.2 132.4,426.3 133.8,426.3 135.2,426.4 136.6,426.3 138,426.3 139.5,426.2 140.9,426.2 142.3,426.1 143.7,426.1 145.1,426.1 146.6,426 148,426 149.4,426 150.8,426.1 152.2,425.9 153.7,425.7 155.1,425.6 156.5,425.6 157.9,425.6 159.3,425.1 160.8,425.2 162.2,425.2 163.6,425.1 165,424.9 166.4,425.1 167.9,424.9 169.3,424.7 170.7,424.5 172.1,424.4 173.5,424.3 175,424.3 176.4,424.3 177.8,424.1 179.2,424 180.6,424 182.1,423.9 183.5,423.6 184.9,423.4 186.3,423.5 187.7,423.2 189.2,423.1 190.6,423.1 192,423.2 193.4,423.1 194.8,422.8 196.3,423 197.7,422.9 199.1,422.6 200.5,422.4 201.9,422.1 203.4,421.9 204.8,421.5 206.2,421.3 207.6,421.3 209,421.4 210.5,421.3 211.9,420.7 213.3,420.3 214.7,420.4 216.1,420.2 217.6,420.1 219,419.8 220.4,419.4 221.8,419.3 223.2,419.4 224.7,419.2 226.1,418.8 227.5,418.7 228.9,418.3 230.3,418.1 231.8,418 233.2,417.6 234.6,417.4 236,417.5 237.4,417.3 238.9,417.1 240.3,416.7 241.7,416.4 243.1,416.6 244.5,417 246,416.4 247.4,416.3 248.8,415.9 250.2,416 251.6,415.9 253.1,415.4 254.5,414.8 255.9,414.6 257.3,414.7 258.7,414.2 260.2,414 261.6,414.5 263,414.4 264.4,413.9 265.8,413.4 267.3,413.2 268.7,413.2 270.1,412.7 271.5,412 272.9,411.8 274.4,411.6 275.8,410.8 277.2,410.5 278.6,410.7 280,410.7 281.5,410 282.9,409.6 284.3,409.1 285.7,406.5 287.1,404.5 288.6,403.3 290,401.7 291.4,396.5 292.8,390.7 294.2,387.5 295.7,381.6 297.1,372.5 298.5,364.3 299.9,355 301.3,342.8 302.8,329.7 304.2,316.6 305.6,306.5 307,295.4 308.4,286.4 309.9,281.1 311.3,283.1 312.7,291.6 314.1,297.6 315.5,303.2 317,312.6 318.4,314.6 319.8,314.7 321.2,319.9 322.6,320.5 324.1,324.2 325.5,330 326.9,331.8 328.3,331.6 329.7,333.3 331.2,335.4 332.6,335.5 334,338.6 335.4,340.5 336.8,342 338.3,341.8 339.7,341.7 341.1,343.5 342.5,343.8 343.9,343 345.4,343.6 346.8,344.9 348.2,347.1 349.6,348.6 351,348.1 352.5,347.4 353.9,348.9 355.3,351.3 356.7,352.1 358.1,351.2 359.6,352.3 361,351.8 362.4,350.2 363.8,351 365.2,352.5 366.7,353.1 368.1,353.5 369.5,353.9 370.9,354.1 372.3,352.1 373.8,351 375.2,352 376.6,351.4 378,351.3 379.4,350.1 380.9,350.3 382.3,347.5 383.7,346.5 385.1,348.5 386.5,348.8 388,346.4 389.4,347.5 390.8,346.8 392.2,343.5 393.6,339 395.1,334.3 396.5,332.5 397.9,332.3 399.3,332.2 400.7,329.5 402.2,326.5 403.6,324.3 405,320.7 406.4,320 407.8,317.8 409.3,317.8 410.7,313.4 412.1,306.9 413.5,301.6 414.9,296.4 416.4,293 417.8,285.3 419.2,279.6 420.6,275.4 422,279.6 423.5,285.3 424.9,292.7 426.3,303.2 427.7,315.2 429.1,325.9 430.6,339.8 432,355.8 433.4,365.6 434.8,373.8 436.2,384.9 437.7,393.4 439.1,395.9 440.5,399.4 441.9,401.9 443.3,404.3 444.8,406.2 446.2,407.6 447.6,408.2 449,408.9 450.4,409.7 451.9,410.4 453.3,410.6 454.7,411.1 456.1,411.7 457.5,412.2 459,412.3 460.4,412.9 461.8,413 463.2,413.2 464.6,413.7 466.1,414.1 467.5,414.5 468.9,414.9 470.3,415 471.7,414.8 473.2,415.3 474.6,416 476,415.8 477.4,415.6 478.8,416.3 480.3,417 481.7,417.1 483.1,417.1 484.5,417.3 485.9,417.5 487.4,417.6 488.8,417.8 490.2,418.3 491.6,418.3 493,418.5 494.5,418.4 495.9,418.6 497.3,418.9 498.7,419.3 500.1,419.4 501.6,419.5 503,419.6 504.4,420 505.8,420.3 507.2,420.3 508.7,420.6 510.1,420.6 511.5,420.7 512.9,421.1 514.3,421.2 515.8,421 517.2,421.5 518.6,421.9 520,421.9 521.4,422.1 522.9,422.3 524.3,422.4 525.7,422.6 527.1,422.9 528.5,423 530,423 531.4,423.2 532.8,423.2 534.2,423.4 535.6,423.6 537.1,423.7 538.5,423.9 539.9,424.2 541.3,424.4 542.7,424.4 544.2,424.4 545.6,424.6 547,424.8 548.4,425 549.8,425.3 551.3,425.5 552.7,425.3 554.1,425.3 555.5,425.3 556.9,425.3 558.4,425.5 559.8,425.4 561.2,425.4 562.6,425.6 564,425.6 565.5,425.7 566.9,425.8 568.3,425.9 569.7,426 571.1,426 572.6,426 574,426 575.4,426.1 576.8,426.2 578.2,426.2 579.7,426.3 581.1,426.5 582.5,426.4 583.9,426.4 585.3,426.5 586.8,426.6 588.2,426.5 589.6,426.5 591,426.7 592.4,426.8 593.9,426.8 595.3,426.8 596.7,427 598.1,427 599.5,426.9 601,427 602.4,427 603.8,427.2 605.2,427.1 606.6,427 608.1,427.1 609.5,427.3 610.9,427.3 612.3,427.2 613.7,427.1 615.2,427.2 616.6,427.3 618,427.3 619.4,427.3 620.8,427.4 622.3,427.3 623.7,427.3 625.1,427.3 626.5,427.4 627.9,427.5 629.4,427.6 630.8,427.6 632.2,427.6 633.6,427.7 635,427.6 636.5,427.7 637.9,427.6 639.3,427.7 640.7,427.8 642.1,427.9" fill="none" stroke="#fbdbe3" stroke-width="1.4" stroke-linejoin="round"/>
<g fill="#fff" fill-opacity="0.85" stroke="#f7ccd7" stroke-width="0.7">
<circle cx="91.2" cy="427.5" r="2.4"/>
<circle cx="92.6" cy="427.4" r="2.4"/>
<circle cx="94" cy="427.4" r="2.4"/>
<circle cx="95.4" cy="427.3" r="2.4"/>
<circle cx="96.9" cy="427.3" r="2.4"/>
<circle cx="98.3" cy="427.2" r="2.4"/>
<circle cx="99.7" cy="427.2" r="2.4"/>
<circle cx="101.1" cy="427.2" r="2.4"/>
<circle cx="102.5" cy="427.2" r="2.4"/>
<circle cx="104" cy="427.3" r="2.4"/>
<circle cx="105.4" cy="427.2" r="2.4"/>
<circle cx="106.8" cy="427.1" r="2.4"/>
<circle cx="108.2" cy="427.1" r="2.4"/>
<circle cx="109.6" cy="427" r="2.4"/>
<circle cx="111.1" cy="427.1" r="2.4"/>
<circle cx="112.5" cy="427" r="2.4"/>
<circle cx="113.9" cy="427" r="2.4"/>
<circle cx="115.3" cy="426.8" r="2.4"/>
<circle cx="116.7" cy="426.8" r="2.4"/>
<circle cx="118.2" cy="426.9" r="2.4"/>
<circle cx="119.6" cy="426.8" r="2.4"/>
<circle cx="121" cy="426.8" r="2.4"/>
<circle cx="122.4" cy="426.8" r="2.4"/>
<circle cx="123.8" cy="426.7" r="2.4"/>
<circle cx="125.3" cy="426.5" r="2.4"/>
<circle cx="126.7" cy="426.3" r="2.4"/>
<circle cx="128.1" cy="426.3" r="2.4"/>
<circle cx="129.5" cy="426.3" r="2.4"/>
<circle cx="130.9" cy="426.2" r="2.4"/>
<circle cx="132.4" cy="426.3" r="2.4"/>
<circle cx="133.8" cy="426.3" r="2.4"/>
<circle cx="135.2" cy="426.4" r="2.4"/>
<circle cx="136.6" cy="426.3" r="2.4"/>
<circle cx="138" cy="426.3" r="2.4"/>
<circle cx="139.5" cy="426.2" r="2.4"/>
<circle cx="140.9" cy="426.2" r="2.4"/>
<circle cx="142.3" cy="426.1" r="2.4"/>
<circle cx="143.7" cy="426.1" r="2.4"/>
<circle cx="145.1" cy="426.1" r="2.4"/>
<circle cx="146.6" cy="426" r="2.4"/>
<circle cx="148" cy="426" r="2.4"/>
<circle cx="149.4" cy="426" r="2.4"/>
<circle cx="150.8" cy="426.1" r="2.4"/>
<circle cx="152.2" cy="425.9" r="2.4"/>
<circle cx="153.7" cy="425.7" r="2.4"/>
<circle cx="155.1" cy="425.6" r="2.4"/>
<circle cx="156.5" cy="425.6" r="2.4"/>
<circle cx="157.9" cy="425.6" r="2.4"/>
<circle cx="159.3" cy="425.1" r="2.4"/>
<circle cx="160.8" cy="425.2" r="2.4"/>
<circle cx="162.2" cy="425.2" r="2.4"/>
<circle cx="163.6" cy="425.1" r="2.4"/>
<circle cx="165" cy="424.9" r="2.4"/>
<circle cx="166.4" cy="425.1" r="2.4"/>
<circle cx="167.9" cy="424.9" r="2.4"/>
<circle cx="169.3" cy="424.7" r="2.4"/>
<circle cx="170.7" cy="424.5" r="2.4"/>
<circle cx="172.1" cy="424.4" r="2.4"/>
<circle cx="173.5" cy="424.3" r="2.4"/>
<circle cx="175" cy="424.3" r="2.4"/>
<circle cx="176.4" cy="424.3" r="2.4"/>
<circle cx="177.8" cy="424.1" r="2.4"/>
<circle cx="179.2" cy="424" r="2.4"/>
<circle cx="180.6" cy="424" r="2.4"/>
<circle cx="182.1" cy="423.9" r="2.4"/>
<circle cx="183.5" cy="423.6" r="2.4"/>
<circle cx="184.9" cy="423.4" r="2.4"/>
<circle cx="186.3" cy="423.5" r="2.4"/>
<circle cx="187.7" cy="423.2" r="2.4"/>
<circle cx="189.2" cy="423.1" r="2.4"/>
<circle cx="190.6" cy="423.1" r="2.4"/>
<circle cx="192" cy="423.2" r="2.4"/>
<circle cx="193.4" cy="423.1" r="2.4"/>
<circle cx="194.8" cy="422.8" r="2.4"/>
<circle cx="196.3" cy="423" r="2.4"/>
<circle cx="197.7" cy="422.9" r="2.4"/>
<circle cx="199.1" cy="422.6" r="2.4"/>
<circle cx="200.5" cy="422.4" r="2.4"/>
<circle cx="201.9" cy="422.1" r="2.4"/>
<circle cx="203.4" cy="421.9" r="2.4"/>
<circle cx="204.8" cy="421.5" r="2.4"/>
<circle cx="206.2" cy="421.3" r="2.4"/>
<circle cx="207.6" cy="421.3" r="2.4"/>
<circle cx="209" cy="421.4" r="2.4"/>
<circle cx="210.5" cy="421.3" r="2.4"/>
<circle cx="211.9" cy="420.7" r="2.4"/>
<circle cx="213.3" cy="420.3" r="2.4"/>
<circle cx="214.7" cy="420.4" r="2.4"/>
<circle cx="216.1" cy="420.2" r="2.4"/>
<circle cx="217.6" cy="420.1" r="2.4"/>
<circle cx="219" cy="419.8" r="2.4"/>
<circle cx="220.4" cy="419.4" r="2.4"/>
<circle cx="221.8" cy="419.3" r="2.4"/>
<circle cx="223.2" cy="419.4" r="2.4"/>
<circle cx="224.7" cy="419.2" r="2.4"/>
<circle cx="226.1" cy="418.8" r="2.4"/>
<circle cx="227.5" cy="418.7" r="2.4"/>
<circle cx="228.9" cy="418.3" r="2.4"/>
<circle cx="230.3" cy="418.1" r="2.4"/>
<circle cx="231.8" cy="418" r="2.4"/>
<circle cx="233.2" cy="417.6" r="2.4"/>
<circle cx="234.6" cy="417.4" r="2.4"/>
<circle cx="236" cy="417.5" r="2.4"/>
<circle cx="237.4" cy="417.3" r="2.4"/>
<circle cx="238.9" cy="417.1" r="2.4"/>
<circle cx="240.3" cy="416.7" r="2.4"/>
<circle cx="241.7" cy="416.4" r="2.4"/>
<circle cx="243.1" cy="416.6" r="2.4"/>
<circle cx="244.5" cy="417" r="2.4"/>
<circle cx="246" cy="416.4" r="2.4"/>
<circle cx="247.4" cy="416.3" r="2.4"/>
<circle cx="248.8" cy="415.9" r="2.4"/>
<circle cx="250.2" cy="416" r="2.4"/>
<circle cx="251.6" cy="415.9" r="2.4"/>
<circle cx="253.1" cy="415.4" r="2.4"/>
<circle cx="254.5" cy="414.8" r="2.4"/>
<circle cx="255.9" cy="414.6" r="2.4"/>
<circle cx="257.3" cy="414.7" r="2.4"/>
<circle cx="258.7" cy="414.2" r="2.4"/>
<circle cx="260.2" cy="414" r="2.4"/>
<circle cx="261.6" cy="414.5" r="2.4"/>
<circle cx="263" cy="414.4" r="2.4"/>
<circle cx="264.4" cy="413.9" r="2.4"/>
<circle cx="265.8" cy="413.4" r="2.4"/>
<circle cx="267.3" cy="413.2" r="2.4"/>
<circle cx="268.7" cy="413.2" r="2.4"/>
<circle cx="270.1" cy="412.7" r="2.4"/>
<circle cx="271.5" cy="412" r="2.4"/>
<circle cx="272.9" cy="411.8" r="2.4"/>
<circle cx="274.4" cy="411.6" r="2.4"/>
<circle cx="275.8" cy="410.8" r="2.4"/>
<circle cx="277.2" cy="410.5" r="2.4"/>
<circle cx="278.6" cy="410.7" r="2.4"/>
<circle cx="280" cy="410.7" r="2.4"/>
<circle cx="281.5" cy="410" r="2.4"/>
<circle cx="282.9" cy="409.6" r="2.4"/>
<circle cx="284.3" cy="409.1" r="2.4"/>
<circle cx="285.7" cy="406.5" r="2.4"/>
<circle cx="287.1" cy="404.5" r="2.4"/>
<circle cx="288.6" cy="403.3" r="2.4"/>
<circle cx="290" cy="401.7" r="2.4"/>
<circle cx="291.4" cy="396.5" r="2.4"/>
<circle cx="292.8" cy="390.7" r="2.4"/>
<circle cx="294.2" cy="387.5" r="2.4"/>
<circle cx="295.7" cy="381.6" r="2.4"/>
<circle cx="297.1" cy="372.5" r="2.4"/>
<circle cx="298.5" cy="364.3" r="2.4"/>
<circle cx="299.9" cy="355" r="2.4"/>
<circle cx="301.3" cy="342.8" r="2.4"/>
<circle cx="302.8" cy="329.7" r="2.4"/>
<circle cx="304.2" cy="316.6" r="2.4"/>
<circle cx="305.6" cy="306.5" r="2.4"/>
<circle cx="307" cy="295.4" r="2.4"/>
<circle cx="308.4" cy="286.4" r="2.4"/>
<circle cx="309.9" cy="281.1" r="2.4"/>
<circle cx="311.3" cy="283.1" r="2.4"/>
<circle cx="312.7" cy="291.6" r="2.4"/>
<circle cx="314.1" cy="297.6" r="2.4"/>
<circle cx="315.5" cy="303.2" r="2.4"/>
<circle cx="317" cy="312.6" r="2.4"/>
<circle cx="318.4" cy="314.6" r="2.4"/>
<circle cx="319.8" cy="314.7" r="2.4"/>
<circle cx="321.2" cy="319.9" r="2.4"/>
<circle cx="322.6" cy="320.5" r="2.4"/>
<circle cx="324.1" cy="324.2" r="2.4"/>
<circle cx="325.5" cy="330" r="2.4"/>
<circle cx="326.9" cy="331.8" r="2.4"/>
<circle cx="328.3" cy="331.6" r="2.4"/>
<circle cx="329.7" cy="333.3" r="2.4"/>
<circle cx="331.2" cy="335.4" r="2.4"/>
<circle cx="332.6" cy="335.5" r="2.4"/>
<circle cx="334" cy="338.6" r="2.4"/>
<circle cx="335.4" cy="340.5" r="2.4"/>
<circle cx="336.8" cy="342" r="2.4"/>
<circle cx="338.3" cy="341.8" r="2.4"/>
<circle cx="339.7" cy="341.7" r="2.4"/>
<circle cx="341.1" cy="343.5" r="2.4"/>
<circle cx="342.5" cy="343.8" r="2.4"/>
<circle cx="343.9" cy="343" r="2.4"/>
<circle cx="345.4" cy="343.6" r="2.4"/>
<circle cx="346.8" cy="344.9" r="2.4"/>
<circle cx="348.2" cy="347.1" r="2.4"/>
<circle cx="349.6" cy="348.6" r="2.4"/>
<circle cx="351" cy="348.1" r="2.4"/>
<circle cx="352.5" cy="347.4" r="2.4"/>
<circle cx="353.9" cy="348.9" r="2.4"/>
<circle cx="355.3" cy="351.3" r="2.4"/>
<circle cx="356.7" cy="352.1" r="2.4"/>
<circle cx="358.1" cy="351.2" r="2.4"/>
<circle cx="359.6" cy="352.3" r="2.4"/>
<circle cx="361" cy="351.8" r="2.4"/>
<circle cx="362.4" cy="350.2" r="2.4"/>
<circle cx="363.8" cy="351" r="2.4"/>
<circle cx="365.2" cy="352.5" r="2.4"/>
<circle cx="366.7" cy="353.1" r="2.4"/>
<circle cx="368.1" cy="353.5" r="2.4"/>
<circle cx="369.5" cy="353.9" r="2.4"/>
<circle cx="370.9" cy="354.1" r="2.4"/>
<circle cx="372.3" cy="352.1" r="2.4"/>
<circle cx="373.8" cy="351" r="2.4"/>
<circle cx="375.2" cy="352" r="2.4"/>
<circle cx="376.6" cy="351.4" r="2.4"/>
<circle cx="378" cy="351.3" r="2.4"/>
<circle cx="379.4" cy="350.1" r="2.4"/>
<circle cx="380.9" cy="350.3" r="2.4"/>
<circle cx="382.3" cy="347.5" r="2.4"/>
<circle cx="383.7" cy="346.5" r="2.4"/>
<circle cx="385.1" cy="348.5" r="2.4"/>
<circle cx="386.5" cy="348.8" r="2.4"/>
<circle cx="388" cy="346.4" r="2.4"/>
<circle cx="389.4" cy="347.5" r="2.4"/>
<circle cx="390.8" cy="346.8" r="2.4"/>
<circle cx="392.2" cy="343.5" r="2.4"/>
<circle cx="393.6" cy="339" r="2.4"/>
<circle cx="395.1" cy="334.3" r="2.4"/>
<circle cx="396.5" cy="332.5" r="2.4"/>
<circle cx="397.9" cy="332.3" r="2.4"/>
<circle cx="399.3" cy="332.2" r="2.4"/>
<circle cx="400.7" cy="329.5" r="2.4"/>
<circle cx="402.2" cy="326.5" r="2.4"/>
<circle cx="403.6" cy="324.3" r="2.4"/>
<circle cx="405" cy="320.7" r="2.4"/>
<circle cx="406.4" cy="320" r="2.4"/>
<circle cx="407.8" cy="317.8" r="2.4"/>
<circle cx="409.3" cy="317.8" r="2.4"/>
<circle cx="410.7" cy="313.4" r="2.4"/>
<circle cx="412.1" cy="306.9" r="2.4"/>
<circle cx="413.5" cy="301.6" r="2.4"/>
<circle cx="414.9" cy="296.4" r="2.4"/>
<circle cx="416.4" cy="293" r="2.4"/>
<circle cx="417.8" cy="285.3" r="2.4"/>
<circle cx="419.2" cy="279.6" r="2.4"/>
<circle cx="420.6" cy="275.4" r="2.4"/>
<circle cx="422" cy="279.6" r="2.4"/>
<circle cx="423.5" cy="285.3" r="2.4"/>
<circle cx="424.9" cy="292.7" r="2.4"/>
<circle cx="426.3" cy="303.2" r="2.4"/>
<circle cx="427.7" cy="315.2" r="2.4"/>
<circle cx="429.1" cy="325.9" r="2.4"/>
<circle cx="430.6" cy="339.8" r="2.4"/>
<circle cx="432" cy="355.8" r="2.4"/>
<circle cx="433.4" cy="365.6" r="2.4"/>
<circle cx="434.8" cy="373.8" r="2.4"/>
<circle cx="436.2" cy="384.9" r="2.4"/>
<circle cx="437.7" cy="393.4" r="2.4"/>
<circle cx="439.1" cy="395.9" r="2.4"/>
<circle cx="440.5" cy="399.4" r="2.4"/>
<circle cx="441.9" cy="401.9" r="2.4"/>
<circle cx="443.3" cy="404.3" r="2.4"/>
<circle cx="444.8" cy="406.2" r="2.4"/>
<circle cx="446.2" cy="407.6" r="2.4"/>
<circle cx="447.6" cy="408.2" r="2.4"/>
<circle cx="449" cy="408.9" r="2.4"/>
<circle cx="450.4" cy="409.7" r="2.4"/>
<circle cx="451.9" cy="410.4" r="2.4"/>
<circle cx="453.3" cy="410.6" r="2.4"/>
<circle cx="454.7" cy="411.1" r="2.4"/>
<circle cx="456.1" cy="411.7" r="2.4"/>
<circle cx="457.5" cy="412.2" r="2.4"/>
<circle cx="459" cy="412.3" r="2.4"/>
<circle cx="460.4" cy="412.9" r="2.4"/>
<circle cx="461.8" cy="413" r="2.4"/>
<circle cx="463.2" cy="413.2" r="2.4"/>
<circle cx="464.6" cy="413.7" r="2.4"/>
<circle cx="466.1" cy="414.1" r="2.4"/>
<circle cx="467.5" cy="414.5" r="2.4"/>
<circle cx="468.9" cy="414.9" r="2.4"/>
<circle cx="470.3" cy="415" r="2.4"/>
<circle cx="471.7" cy="414.8" r="2.4"/>
<circle cx="473.2" cy="415.3" r="2.4"/>
<circle cx="474.6" cy="416" r="2.4"/>
<circle cx="476" cy="415.8" r="2.4"/>
<circle cx="477.4" cy="415.6" r="2.4"/>
<circle cx="478.8" cy="416.3" r="2.4"/>
<circle cx="480.3" cy="417" r="2.4"/>
<circle cx="481.7" cy="417.1" r="2.4"/>
<circle cx="483.1" cy="417.1" r="2.4"/>
<circle cx="484.5" cy="417.3" r="2.4"/>
<circle cx="485.9" cy="417.5" r="2.4"/>
<circle cx="487.4" cy="417.6" r="2.4"/>
<circle cx="488.8" cy="417.8" r="2.4"/>
<circle cx="490.2" cy="418.3" r="2.4"/>
<circle cx="491.6" cy="418.3" r="2.4"/>
<circle cx="493" cy="418.5" r="2.4"/>
<circle cx="494.5" cy="418.4" r="2.4"/>
<circle cx="495.9" cy="418.6" r="2.4"/>
<circle cx="497.3" cy="418.9" r="2.4"/>
<circle cx="498.7" cy="419.3" r="2.4"/>
<circle cx="500.1" cy="419.4" r="2.4"/>
<circle cx="501.6" cy="419.5" r="2.4"/>
<circle cx="503" cy="419.6" r="2.4"/>
<circle cx="504.4" cy="420" r="2.4"/>
<circle cx="505.8" cy="420.3" r="2.4"/>
<circle cx="507.2" cy="420.3" r="2.4"/>
<circle cx="508.7" cy="420.6" r="2.4"/>
<circle cx="510.1" cy="420.6" r="2.4"/>
<circle cx="511.5" cy="420.7" r="2.4"/>
<circle cx="512.9" cy="421.1" r="2.4"/>
<circle cx="514.3" cy="421.2" r="2.4"/>
<circle cx="515.8" cy="421" r="2.4"/>
<circle cx="517.2" cy="421.5" r="2.4"/>
<circle cx="518.6" cy="421.9" r="2.4"/>
<circle cx="520" cy="421.9" r="2.4"/>
<circle cx="521.4" cy="422.1" r="2.4"/>
<circle cx="522.9" cy="422.3" r="2.4"/>
<circle cx="524.3" cy="422.4" r="2.4"/>
<circle cx="525.7" cy="422.6" r="2.4"/>
<circle cx="527.1" cy="422.9" r="2.4"/>
<circle cx="528.5" cy="423" r="2.4"/>
<circle cx="530" cy="423" r="2.4"/>
<circle cx="531.4" cy="423.2" r="2.4"/>
<circle cx="532.8" cy="423.2" r="2.4"/>
<circle cx="534.2" cy="423.4" r="2.4"/>
<circle cx="535.6" cy="423.6" r="2.4"/>
<circle cx="537.1" cy="423.7" r="2.4"/>
<circle cx="538.5" cy="423.9" r="2.4"/>
<circle cx="539.9" cy="424.2" r="2.4"/>
<circle cx="541.3" cy="424.4" r="2.4"/>
<circle cx="542.7" cy="424.4" r="2.4"/>
<circle cx="544.2" cy="424.4" r="2.4"/>
<circle cx="545.6" cy="424.6" r="2.4"/>
<circle cx="547" cy="424.8" r="2.4"/>
<circle cx="548.4" cy="425" r="2.4"/>
<circle cx="549.8" cy="425.3" r="2.4"/>
<circle cx="551.3" cy="425.5" r="2.4"/>
<circle cx="552.7" cy="425.3" r="2.4"/>
<circle cx="554.1" cy="425.3" r="2.4"/>
<circle cx="555.5" cy="425.3" r="2.4"/>
<circle cx="556.9" cy="425.3" r="2.4"/>
<circle cx="558.4" cy="425.5" r="2.4"/>
<circle cx="559.8" cy="425.4" r="2.4"/>
<circle cx="561.2" cy="425.4" r="2.4"/>
<circle cx="562.6" cy="425.6" r="2.4"/>
<circle cx="564" cy="425.6" r="2.4"/>
<circle cx="565.5" cy="425.7" r="2.4"/>
<circle cx="566.9" cy="425.8" r="2.4"/>
<circle cx="568.3" cy="425.9" r="2.4"/>
<circle cx="569.7" cy="426" r="2.4"/>
<circle cx="571.1" cy="426" r="2.4"/>
<circle cx="572.6" cy="426" r="2.4"/>
<circle cx="574" cy="426" r="2.4"/>
<circle cx="575.4" cy="426.1" r="2.4"/>
<circle cx="576.8" cy="426.2" r="2.4"/>
<circle cx="578.2" cy="426.2" r="2.4"/>
<circle cx="579.7" cy="426.3" r="2.4"/>
<circle cx="581.1" cy="426.5" r="2.4"/>
<circle cx="582.5" cy="426.4" r="2.4"/>
<circle cx="583.9" cy="426.4" r="2.4"/>
<circle cx="585.3" cy="426.5" r="2.4"/>
<circle cx="586.8" cy="426.6" r="2.4"/>
<circle cx="588.2" cy="426.5" r="2.4"/>
<circle cx="589.6" cy="426.5" r="2.4"/>
<circle cx="591" cy="426.7" r="2.4"/>
<circle cx="592.4" cy="426.8" r="2.4"/>
<circle cx="593.9" cy="426.8" r="2.4"/>
<circle cx="595.3" cy="426.8" r="2.4"/>
<circle cx="596.7" cy="427" r="2.4"/>
<circle cx="598.1" cy="427" r="2.4"/>
<circle cx="599.5" cy="426.9" r="2.4"/>
<circle cx="601" cy="427" r="2.4"/>
<circle cx="602.4" cy="427" r="2.4"/>
<circle cx="603.8" cy="427.2" r="2.4"/>
<circle cx="605.2" cy="427.1" r="2.4"/>
<circle cx="606.6" cy="427" r="2.4"/>
<circle cx="608.1" cy="427.1" r="2.4"/>
<circle cx="609.5" cy="427.3" r="2.4"/>
<circle cx="610.9" cy="427.3" r="2.4"/>
<circle cx="612.3" cy="427.2" r="2.4"/>
<circle cx="613.7" cy="427.1" r="2.4"/>
<circle cx="615.2" cy="427.2" r="2.4"/>
<circle cx="616.6" cy="427.3" r="2.4"/>
<circle cx="618" cy="427.3" r="2.4"/>
<circle cx="619.4" cy="427.3" r="2.4"/>
<circle cx="620.8" cy="427.4" r="2.4"/>
<circle cx="622.3" cy="427.3" r="2.4"/>
<circle cx="623.7" cy="427.3" r="2.4"/>
<circle cx="625.1" cy="427.3" r="2.4"/>
<circle cx="626.5" cy="427.4" r="2.4"/>
<circle cx="627.9" cy="427.5" r="2.4"/>
<circle cx="629.4" cy="427.6" r="2.4"/>
<circle cx="630.8" cy="427.6" r="2.4"/>
<circle cx="632.2" cy="427.6" r="2.4"/>
<circle cx="633.6" cy="427.7" r="2.4"/>
<circle cx="635" cy="427.6" r="2.4"/>
<circle cx="636.5" cy="427.7" r="2.4"/>
<circle cx="637.9" cy="427.6" r="2.4"/>
<circle cx="639.3" cy="427.7" r="2.4"/>
<circle cx="640.7" cy="427.8" r="2.4"/>
<circle cx="642.1" cy="427.9" r="2.4"/>
</g>
<polyline points="90.7,427.7 92.1,427.7 93.5,427.7 95,427.7 96.4,427.7 97.8,427.7 99.2,427.7 100.6,427.7 102.1,427.6 103.5,427.4 104.9,427.3 106.3,427.3 107.7,427.4 109.2,427.4 110.6,427.4 112,427.4 113.4,427.4 114.8,427.5 116.3,427.4 117.7,427.2 119.1,427.2 120.5,427.3 121.9,427.2 123.4,427 124.8,427 126.2,427 127.6,426.8 129,426.9 130.5,426.9 131.9,426.7 133.3,426.8 134.7,426.9 136.1,426.6 137.6,426.6 139,426.6 140.4,426.6 141.8,426.5 143.2,426.3 144.7,426.3 146.1,426.3 147.5,426.3 148.9,426.3 150.3,426.2 151.8,426.1 153.2,426.1 154.6,425.9 156,425.6 157.4,425.6 158.9,425.5 160.3,425.5 161.7,425.3 163.1,425.1 164.5,425 166,424.9 167.4,425 168.8,425 170.2,424.7 171.6,424.6 173.1,424.4 174.5,424.2 175.9,424 177.3,423.8 178.7,423.5 180.2,423.5 181.6,423.6 183,423.5 184.4,423.3 185.8,423.1 187.3,423.1 188.7,423.1 190.1,422.6 191.5,422.4 192.9,422.3 194.4,422.3 195.8,422 197.2,422 198.6,421.8 200,421.7 201.5,421.4 202.9,421.2 204.3,421.1 205.7,420.6 207.1,420.5 208.6,420.5 210,420.4 211.4,419.9 212.8,419.4 214.2,419.6 215.7,419.4 217.1,419 218.5,418.6 219.9,418.9 221.3,419 222.8,418.6 224.2,418.3 225.6,417.8 227,417.6 228.4,417.2 229.9,416.9 231.3,416.8 232.7,416.5 234.1,416.3 235.5,416.1 237,416 238.4,415.8 239.8,415.6 241.2,415.2 242.6,415.1 244.1,414.6 245.5,414.7 246.9,414.4 248.3,413.7 249.7,413.9 251.2,414.1 252.6,413.8 254,413.2 255.4,413 256.8,412.9 258.3,412.8 259.7,412.7 261.1,412.4 262.5,412.3 263.9,411.8 265.4,411.2 266.8,410.8 268.2,410.8 269.6,410.7 271,410.2 272.5,410 273.9,409.1 275.3,408.7 276.7,408.4 278.1,408.3 279.6,407.9 281,406.9 282.4,405.5 283.8,404.6 285.2,404 286.7,403.1 288.1,401.1 289.5,399.8 290.9,397.3 292.3,392.6 293.8,387.7 295.2,381.4 296.6,377 298,367.3 299.4,355.1 300.9,344.1 302.3,332.1 303.7,318.8 305.1,304 306.5,286.6 308,268.8 309.4,257.2 310.8,258.7 312.2,259.9 313.6,264.6 315.1,271.4 316.5,277.6 317.9,282.8 319.3,285.5 320.7,289.5 322.2,295.6 323.6,303.5 325,308.2 326.4,309 327.8,312.1 329.3,315.6 330.7,317.6 332.1,321.3 333.5,325.2 334.9,325.9 336.4,329.4 337.8,332 339.2,331.9 340.6,334.4 342,334.6 343.5,334.9 344.9,337.1 346.3,337.1 347.7,336.8 349.1,336.7 350.6,337 352,338 353.4,339.7 354.8,341.4 356.2,341.5 357.7,342.5 359.1,343.3 360.5,344.8 361.9,345.8 363.3,347.5 364.8,346.7 366.2,345.3 367.6,347 369,348.5 370.4,350.2 371.9,349.3 373.3,349.3 374.7,348.3 376.1,346 377.5,345 379,344.1 380.4,343.8 381.8,346.8 383.2,343.9 384.6,340.7 386.1,340.8 387.5,342.1 388.9,340.9 390.3,338.4 391.7,336.9 393.2,337.2 394.6,336 396,335 397.4,333 398.8,330.8 400.3,326 401.7,325.1 403.1,321.9 404.5,319.7 405.9,318.8 407.4,313.8 408.8,312.8 410.2,312 411.6,309.8 413,302.7 414.5,299.9 415.9,294.9 417.3,288.3 418.7,279.6 420.1,270.5 421.6,267.6 423,270.8 424.4,276.6 425.8,288.5 427.2,300.8 428.7,312.7 430.1,330.3 431.5,344.9 432.9,358.1 434.3,369.8 435.8,380 437.2,387.2 438.6,392.4 440,397.4 441.4,400.3 442.9,402.4 444.3,404.5 445.7,406.5 447.1,408.1 448.5,408.5 450,409.3 451.4,410.2 452.8,410.8 454.2,411.1 455.6,412.1 457.1,412.3 458.5,412.6 459.9,412.9 461.3,413.6 462.7,413.4 464.2,413.1 465.6,413.9 467,414 468.4,414 469.8,414.4 471.3,414.7 472.7,415.3 474.1,415.5 475.5,415.4 476.9,416 478.4,416.3 479.8,416 481.2,416.8 482.6,417.2 484,417.5 485.5,417.8 486.9,417.7 488.3,417.7 489.7,418.1 491.1,418.3 492.6,418.3 494,418.1 495.4,418.7 496.8,419.5 498.2,419.4 499.7,419.6 501.1,419.6 502.5,419.7 503.9,420 505.3,420.2 506.8,420.2 508.2,420.4 509.6,420.7 511,420.6 512.4,420.8 513.9,421.4 515.3,421.6 516.7,421.6 518.1,422 519.5,422.1 521,422.1 522.4,422.1 523.8,422.4 525.2,422.4 526.6,422.6 528.1,422.8 529.5,423.1 530.9,423.2 532.3,423.3 533.7,423.7 535.2,424 536.6,424 538,423.8 539.4,424.1 540.8,424.3 542.3,424.3 543.7,424.5 545.1,425 546.5,425.1 547.9,425.3 549.4,425.3 550.8,425.4 552.2,425.5 553.6,425.5 555,425.5 556.5,425.5 557.9,425.6 559.3,425.7 560.7,425.8 562.1,425.9 563.6,425.9 565,426.1 566.4,426 567.8,426.3 569.2,426.5 570.7,426.5 572.1,426.5 573.5,426.6 574.9,426.7 576.3,426.7 577.8,426.7 579.2,426.7 580.6,426.9 582,427.1 583.4,427.1 584.9,427.1 586.3,427.2 587.7,427.2 589.1,427.1 590.5,427.2 592,427.3 593.4,427.3 594.8,427.5 596.2,427.5 597.6,427.5 599.1,427.4 600.5,427.3 601.9,427.3 603.3,427.5 604.7,427.7 606.2,427.6 607.6,427.5 609,427.6 610.4,427.7 611.8,427.6 613.3,427.6 614.7,427.7 616.1,427.7 617.5,427.8 618.9,427.8 620.4,427.8 621.8,427.8 623.2,427.8 624.6,427.7 626,427.9 627.5,428 628.9,427.9 630.3,427.9 631.7,428 633.1,428 634.6,428 636,428.1 637.4,428.1 638.8,428.1 640.2,428.2 641.7,428.2 643.1,428.1" fill="none" stroke="#8f1d44" stroke-width="1.6" stroke-linejoin="round"/>
<g fill="#fff" fill-opacity="0.62" stroke="#cb7690" stroke-width="0.85">
<path d="M86.9 429.9L90.7 424.1L94.5 429.9Z"/>
<path d="M88.3 429.9L92.1 424.1L95.9 429.9Z"/>
<path d="M89.7 429.9L93.5 424.1L97.3 429.9Z"/>
<path d="M91.2 429.9L95 424.1L98.8 429.9Z"/>
<path d="M92.6 429.9L96.4 424.1L100.2 429.9Z"/>
<path d="M94 429.9L97.8 424.1L101.6 429.9Z"/>
<path d="M95.4 429.9L99.2 424.1L103 429.9Z"/>
<path d="M96.8 429.9L100.6 424.1L104.4 429.9Z"/>
<path d="M98.3 429.8L102.1 424L105.9 429.8Z"/>
<path d="M99.7 429.6L103.5 423.8L107.3 429.6Z"/>
<path d="M101.1 429.5L104.9 423.7L108.7 429.5Z"/>
<path d="M102.5 429.5L106.3 423.7L110.1 429.5Z"/>
<path d="M103.9 429.6L107.7 423.8L111.5 429.6Z"/>
<path d="M105.4 429.6L109.2 423.8L113 429.6Z"/>
<path d="M106.8 429.6L110.6 423.8L114.4 429.6Z"/>
<path d="M108.2 429.6L112 423.8L115.8 429.6Z"/>
<path d="M109.6 429.6L113.4 423.8L117.2 429.6Z"/>
<path d="M111 429.7L114.8 423.9L118.6 429.7Z"/>
<path d="M112.5 429.6L116.3 423.8L120.1 429.6Z"/>
<path d="M113.9 429.4L117.7 423.6L121.5 429.4Z"/>
<path d="M115.3 429.4L119.1 423.6L122.9 429.4Z"/>
<path d="M116.7 429.5L120.5 423.7L124.3 429.5Z"/>
<path d="M118.1 429.4L121.9 423.6L125.7 429.4Z"/>
<path d="M119.6 429.2L123.4 423.4L127.2 429.2Z"/>
<path d="M121 429.2L124.8 423.4L128.6 429.2Z"/>
<path d="M122.4 429.2L126.2 423.4L130 429.2Z"/>
<path d="M123.8 429L127.6 423.2L131.4 429Z"/>
<path d="M125.2 429.1L129 423.3L132.8 429.1Z"/>
<path d="M126.7 429.1L130.5 423.3L134.3 429.1Z"/>
<path d="M128.1 428.9L131.9 423.1L135.7 428.9Z"/>
<path d="M129.5 429L133.3 423.2L137.1 429Z"/>
<path d="M130.9 429.1L134.7 423.3L138.5 429.1Z"/>
<path d="M132.3 428.8L136.1 423L139.9 428.8Z"/>
<path d="M133.8 428.8L137.6 423L141.4 428.8Z"/>
<path d="M135.2 428.8L139 423L142.8 428.8Z"/>
<path d="M136.6 428.8L140.4 423L144.2 428.8Z"/>
<path d="M138 428.7L141.8 422.9L145.6 428.7Z"/>
<path d="M139.4 428.5L143.2 422.7L147 428.5Z"/>
<path d="M140.9 428.5L144.7 422.7L148.5 428.5Z"/>
<path d="M142.3 428.5L146.1 422.7L149.9 428.5Z"/>
<path d="M143.7 428.5L147.5 422.7L151.3 428.5Z"/>
<path d="M145.1 428.5L148.9 422.7L152.7 428.5Z"/>
<path d="M146.5 428.4L150.3 422.6L154.1 428.4Z"/>
<path d="M148 428.3L151.8 422.5L155.6 428.3Z"/>
<path d="M149.4 428.3L153.2 422.5L157 428.3Z"/>
<path d="M150.8 428.1L154.6 422.3L158.4 428.1Z"/>
<path d="M152.2 427.8L156 422L159.8 427.8Z"/>
<path d="M153.6 427.8L157.4 422L161.2 427.8Z"/>
<path d="M155.1 427.7L158.9 421.9L162.7 427.7Z"/>
<path d="M156.5 427.7L160.3 421.9L164.1 427.7Z"/>
<path d="M157.9 427.5L161.7 421.7L165.5 427.5Z"/>
<path d="M159.3 427.3L163.1 421.5L166.9 427.3Z"/>
<path d="M160.7 427.2L164.5 421.4L168.3 427.2Z"/>
<path d="M162.2 427.1L166 421.3L169.8 427.1Z"/>
<path d="M163.6 427.2L167.4 421.4L171.2 427.2Z"/>
<path d="M165 427.2L168.8 421.4L172.6 427.2Z"/>
<path d="M166.4 426.9L170.2 421.1L174 426.9Z"/>
<path d="M167.8 426.8L171.6 421L175.4 426.8Z"/>
<path d="M169.3 426.6L173.1 420.8L176.9 426.6Z"/>
<path d="M170.7 426.4L174.5 420.6L178.3 426.4Z"/>
<path d="M172.1 426.2L175.9 420.4L179.7 426.2Z"/>
<path d="M173.5 426L177.3 420.2L181.1 426Z"/>
<path d="M174.9 425.7L178.7 419.9L182.5 425.7Z"/>
<path d="M176.4 425.7L180.2 419.9L184 425.7Z"/>
<path d="M177.8 425.8L181.6 420L185.4 425.8Z"/>
<path d="M179.2 425.7L183 419.9L186.8 425.7Z"/>
<path d="M180.6 425.5L184.4 419.7L188.2 425.5Z"/>
<path d="M182 425.3L185.8 419.5L189.6 425.3Z"/>
<path d="M183.5 425.3L187.3 419.5L191.1 425.3Z"/>
<path d="M184.9 425.3L188.7 419.5L192.5 425.3Z"/>
<path d="M186.3 424.8L190.1 419L193.9 424.8Z"/>
<path d="M187.7 424.6L191.5 418.8L195.3 424.6Z"/>
<path d="M189.1 424.5L192.9 418.7L196.7 424.5Z"/>
<path d="M190.6 424.5L194.4 418.7L198.2 424.5Z"/>
<path d="M192 424.2L195.8 418.4L199.6 424.2Z"/>
<path d="M193.4 424.2L197.2 418.4L201 424.2Z"/>
<path d="M194.8 424L198.6 418.2L202.4 424Z"/>
<path d="M196.2 423.9L200 418.1L203.8 423.9Z"/>
<path d="M197.7 423.6L201.5 417.8L205.3 423.6Z"/>
<path d="M199.1 423.4L202.9 417.6L206.7 423.4Z"/>
<path d="M200.5 423.3L204.3 417.5L208.1 423.3Z"/>
<path d="M201.9 422.8L205.7 417L209.5 422.8Z"/>
<path d="M203.3 422.7L207.1 416.9L210.9 422.7Z"/>
<path d="M204.8 422.7L208.6 416.9L212.4 422.7Z"/>
<path d="M206.2 422.6L210 416.8L213.8 422.6Z"/>
<path d="M207.6 422.1L211.4 416.3L215.2 422.1Z"/>
<path d="M209 421.6L212.8 415.8L216.6 421.6Z"/>
<path d="M210.4 421.8L214.2 416L218 421.8Z"/>
<path d="M211.9 421.6L215.7 415.8L219.5 421.6Z"/>
<path d="M213.3 421.2L217.1 415.4L220.9 421.2Z"/>
<path d="M214.7 420.8L218.5 415L222.3 420.8Z"/>
<path d="M216.1 421.1L219.9 415.3L223.7 421.1Z"/>
<path d="M217.5 421.2L221.3 415.4L225.1 421.2Z"/>
<path d="M219 420.8L222.8 415L226.6 420.8Z"/>
<path d="M220.4 420.5L224.2 414.7L228 420.5Z"/>
<path d="M221.8 420L225.6 414.2L229.4 420Z"/>
<path d="M223.2 419.8L227 414L230.8 419.8Z"/>
<path d="M224.6 419.4L228.4 413.6L232.2 419.4Z"/>
<path d="M226.1 419.1L229.9 413.3L233.7 419.1Z"/>
<path d="M227.5 419L231.3 413.2L235.1 419Z"/>
<path d="M228.9 418.7L232.7 412.9L236.5 418.7Z"/>
<path d="M230.3 418.5L234.1 412.7L237.9 418.5Z"/>
<path d="M231.7 418.3L235.5 412.5L239.3 418.3Z"/>
<path d="M233.2 418.2L237 412.4L240.8 418.2Z"/>
<path d="M234.6 418L238.4 412.2L242.2 418Z"/>
<path d="M236 417.8L239.8 412L243.6 417.8Z"/>
<path d="M237.4 417.4L241.2 411.6L245 417.4Z"/>
<path d="M238.8 417.3L242.6 411.5L246.4 417.3Z"/>
<path d="M240.3 416.8L244.1 411L247.9 416.8Z"/>
<path d="M241.7 416.9L245.5 411.1L249.3 416.9Z"/>
<path d="M243.1 416.6L246.9 410.8L250.7 416.6Z"/>
<path d="M244.5 415.9L248.3 410.1L252.1 415.9Z"/>
<path d="M245.9 416.1L249.7 410.3L253.5 416.1Z"/>
<path d="M247.4 416.3L251.2 410.5L255 416.3Z"/>
<path d="M248.8 416L252.6 410.2L256.4 416Z"/>
<path d="M250.2 415.4L254 409.6L257.8 415.4Z"/>
<path d="M251.6 415.2L255.4 409.4L259.2 415.2Z"/>
<path d="M253 415.1L256.8 409.3L260.6 415.1Z"/>
<path d="M254.5 415L258.3 409.2L262.1 415Z"/>
<path d="M255.9 414.9L259.7 409.1L263.5 414.9Z"/>
<path d="M257.3 414.6L261.1 408.8L264.9 414.6Z"/>
<path d="M258.7 414.5L262.5 408.7L266.3 414.5Z"/>
<path d="M260.1 414L263.9 408.2L267.7 414Z"/>
<path d="M261.6 413.4L265.4 407.6L269.2 413.4Z"/>
<path d="M263 413L266.8 407.2L270.6 413Z"/>
<path d="M264.4 413L268.2 407.2L272 413Z"/>
<path d="M265.8 412.9L269.6 407.1L273.4 412.9Z"/>
<path d="M267.2 412.4L271 406.6L274.8 412.4Z"/>
<path d="M268.7 412.2L272.5 406.4L276.3 412.2Z"/>
<path d="M270.1 411.3L273.9 405.5L277.7 411.3Z"/>
<path d="M271.5 410.9L275.3 405.1L279.1 410.9Z"/>
<path d="M272.9 410.6L276.7 404.8L280.5 410.6Z"/>
<path d="M274.3 410.5L278.1 404.7L281.9 410.5Z"/>
<path d="M275.8 410.1L279.6 404.3L283.4 410.1Z"/>
<path d="M277.2 409.1L281 403.3L284.8 409.1Z"/>
<path d="M278.6 407.7L282.4 401.9L286.2 407.7Z"/>
<path d="M280 406.8L283.8 401L287.6 406.8Z"/>
<path d="M281.4 406.2L285.2 400.4L289 406.2Z"/>
<path d="M282.9 405.3L286.7 399.5L290.5 405.3Z"/>
<path d="M284.3 403.3L288.1 397.5L291.9 403.3Z"/>
<path d="M285.7 402L289.5 396.2L293.3 402Z"/>
<path d="M287.1 399.5L290.9 393.7L294.7 399.5Z"/>
<path d="M288.5 394.8L292.3 389L296.1 394.8Z"/>
<path d="M290 389.9L293.8 384.1L297.6 389.9Z"/>
<path d="M291.4 383.6L295.2 377.8L299 383.6Z"/>
<path d="M292.8 379.2L296.6 373.4L300.4 379.2Z"/>
<path d="M294.2 369.5L298 363.7L301.8 369.5Z"/>
<path d="M295.6 357.3L299.4 351.5L303.2 357.3Z"/>
<path d="M297.1 346.3L300.9 340.5L304.7 346.3Z"/>
<path d="M298.5 334.3L302.3 328.5L306.1 334.3Z"/>
<path d="M299.9 321L303.7 315.2L307.5 321Z"/>
<path d="M301.3 306.2L305.1 300.4L308.9 306.2Z"/>
<path d="M302.7 288.8L306.5 283L310.3 288.8Z"/>
<path d="M304.2 271L308 265.2L311.8 271Z"/>
<path d="M305.6 259.4L309.4 253.6L313.2 259.4Z"/>
<path d="M307 260.9L310.8 255.1L314.6 260.9Z"/>
<path d="M308.4 262.1L312.2 256.3L316 262.1Z"/>
<path d="M309.8 266.8L313.6 261L317.4 266.8Z"/>
<path d="M311.3 273.6L315.1 267.8L318.9 273.6Z"/>
<path d="M312.7 279.8L316.5 274L320.3 279.8Z"/>
<path d="M314.1 285L317.9 279.2L321.7 285Z"/>
<path d="M315.5 287.7L319.3 281.9L323.1 287.7Z"/>
<path d="M316.9 291.7L320.7 285.9L324.5 291.7Z"/>
<path d="M318.4 297.8L322.2 292L326 297.8Z"/>
<path d="M319.8 305.7L323.6 299.9L327.4 305.7Z"/>
<path d="M321.2 310.4L325 304.6L328.8 310.4Z"/>
<path d="M322.6 311.2L326.4 305.4L330.2 311.2Z"/>
<path d="M324 314.3L327.8 308.5L331.6 314.3Z"/>
<path d="M325.5 317.8L329.3 312L333.1 317.8Z"/>
<path d="M326.9 319.8L330.7 314L334.5 319.8Z"/>
<path d="M328.3 323.5L332.1 317.7L335.9 323.5Z"/>
<path d="M329.7 327.4L333.5 321.6L337.3 327.4Z"/>
<path d="M331.1 328.1L334.9 322.3L338.7 328.1Z"/>
<path d="M332.6 331.6L336.4 325.8L340.2 331.6Z"/>
<path d="M334 334.2L337.8 328.4L341.6 334.2Z"/>
<path d="M335.4 334.1L339.2 328.3L343 334.1Z"/>
<path d="M336.8 336.6L340.6 330.8L344.4 336.6Z"/>
<path d="M338.2 336.8L342 331L345.8 336.8Z"/>
<path d="M339.7 337.1L343.5 331.3L347.3 337.1Z"/>
<path d="M341.1 339.3L344.9 333.5L348.7 339.3Z"/>
<path d="M342.5 339.3L346.3 333.5L350.1 339.3Z"/>
<path d="M343.9 339L347.7 333.2L351.5 339Z"/>
<path d="M345.3 338.9L349.1 333.1L352.9 338.9Z"/>
<path d="M346.8 339.2L350.6 333.4L354.4 339.2Z"/>
<path d="M348.2 340.2L352 334.4L355.8 340.2Z"/>
<path d="M349.6 341.9L353.4 336.1L357.2 341.9Z"/>
<path d="M351 343.6L354.8 337.8L358.6 343.6Z"/>
<path d="M352.4 343.7L356.2 337.9L360 343.7Z"/>
<path d="M353.9 344.7L357.7 338.9L361.5 344.7Z"/>
<path d="M355.3 345.5L359.1 339.7L362.9 345.5Z"/>
<path d="M356.7 347L360.5 341.2L364.3 347Z"/>
<path d="M358.1 348L361.9 342.2L365.7 348Z"/>
<path d="M359.5 349.7L363.3 343.9L367.1 349.7Z"/>
<path d="M361 348.9L364.8 343.1L368.6 348.9Z"/>
<path d="M362.4 347.5L366.2 341.7L370 347.5Z"/>
<path d="M363.8 349.2L367.6 343.4L371.4 349.2Z"/>
<path d="M365.2 350.7L369 344.9L372.8 350.7Z"/>
<path d="M366.6 352.4L370.4 346.6L374.2 352.4Z"/>
<path d="M368.1 351.5L371.9 345.7L375.7 351.5Z"/>
<path d="M369.5 351.5L373.3 345.7L377.1 351.5Z"/>
<path d="M370.9 350.5L374.7 344.7L378.5 350.5Z"/>
<path d="M372.3 348.2L376.1 342.4L379.9 348.2Z"/>
<path d="M373.7 347.2L377.5 341.4L381.3 347.2Z"/>
<path d="M375.2 346.3L379 340.5L382.8 346.3Z"/>
<path d="M376.6 346L380.4 340.2L384.2 346Z"/>
<path d="M378 349L381.8 343.2L385.6 349Z"/>
<path d="M379.4 346.1L383.2 340.3L387 346.1Z"/>
<path d="M380.8 342.9L384.6 337.1L388.4 342.9Z"/>
<path d="M382.3 343L386.1 337.2L389.9 343Z"/>
<path d="M383.7 344.3L387.5 338.5L391.3 344.3Z"/>
<path d="M385.1 343.1L388.9 337.3L392.7 343.1Z"/>
<path d="M386.5 340.6L390.3 334.8L394.1 340.6Z"/>
<path d="M387.9 339.1L391.7 333.3L395.5 339.1Z"/>
<path d="M389.4 339.4L393.2 333.6L397 339.4Z"/>
<path d="M390.8 338.2L394.6 332.4L398.4 338.2Z"/>
<path d="M392.2 337.2L396 331.4L399.8 337.2Z"/>
<path d="M393.6 335.2L397.4 329.4L401.2 335.2Z"/>
<path d="M395 333L398.8 327.2L402.6 333Z"/>
<path d="M396.5 328.2L400.3 322.4L404.1 328.2Z"/>
<path d="M397.9 327.3L401.7 321.5L405.5 327.3Z"/>
<path d="M399.3 324.1L403.1 318.3L406.9 324.1Z"/>
<path d="M400.7 321.9L404.5 316.1L408.3 321.9Z"/>
<path d="M402.1 321L405.9 315.2L409.7 321Z"/>
<path d="M403.6 316L407.4 310.2L411.2 316Z"/>
<path d="M405 315L408.8 309.2L412.6 315Z"/>
<path d="M406.4 314.2L410.2 308.4L414 314.2Z"/>
<path d="M407.8 312L411.6 306.2L415.4 312Z"/>
<path d="M409.2 304.9L413 299.1L416.8 304.9Z"/>
<path d="M410.7 302.1L414.5 296.3L418.3 302.1Z"/>
<path d="M412.1 297.1L415.9 291.3L419.7 297.1Z"/>
<path d="M413.5 290.5L417.3 284.7L421.1 290.5Z"/>
<path d="M414.9 281.8L418.7 276L422.5 281.8Z"/>
<path d="M416.3 272.7L420.1 266.9L423.9 272.7Z"/>
<path d="M417.8 269.8L421.6 264L425.4 269.8Z"/>
<path d="M419.2 273L423 267.2L426.8 273Z"/>
<path d="M420.6 278.8L424.4 273L428.2 278.8Z"/>
<path d="M422 290.7L425.8 284.9L429.6 290.7Z"/>
<path d="M423.4 303L427.2 297.2L431 303Z"/>
<path d="M424.9 314.9L428.7 309.1L432.5 314.9Z"/>
<path d="M426.3 332.5L430.1 326.7L433.9 332.5Z"/>
<path d="M427.7 347.1L431.5 341.3L435.3 347.1Z"/>
<path d="M429.1 360.3L432.9 354.5L436.7 360.3Z"/>
<path d="M430.5 372L434.3 366.2L438.1 372Z"/>
<path d="M432 382.2L435.8 376.4L439.6 382.2Z"/>
<path d="M433.4 389.4L437.2 383.6L441 389.4Z"/>
<path d="M434.8 394.6L438.6 388.8L442.4 394.6Z"/>
<path d="M436.2 399.6L440 393.8L443.8 399.6Z"/>
<path d="M437.6 402.5L441.4 396.7L445.2 402.5Z"/>
<path d="M439.1 404.6L442.9 398.8L446.7 404.6Z"/>
<path d="M440.5 406.7L444.3 400.9L448.1 406.7Z"/>
<path d="M441.9 408.7L445.7 402.9L449.5 408.7Z"/>
<path d="M443.3 410.3L447.1 404.5L450.9 410.3Z"/>
<path d="M444.7 410.7L448.5 404.9L452.3 410.7Z"/>
<path d="M446.2 411.5L450 405.7L453.8 411.5Z"/>
<path d="M447.6 412.4L451.4 406.6L455.2 412.4Z"/>
<path d="M449 413L452.8 407.2L456.6 413Z"/>
<path d="M450.4 413.3L454.2 407.5L458 413.3Z"/>
<path d="M451.8 414.3L455.6 408.5L459.4 414.3Z"/>
<path d="M453.3 414.5L457.1 408.7L460.9 414.5Z"/>
<path d="M454.7 414.8L458.5 409L462.3 414.8Z"/>
<path d="M456.1 415.1L459.9 409.3L463.7 415.1Z"/>
<path d="M457.5 415.8L461.3 410L465.1 415.8Z"/>
<path d="M458.9 415.6L462.7 409.8L466.5 415.6Z"/>
<path d="M460.4 415.3L464.2 409.5L468 415.3Z"/>
<path d="M461.8 416.1L465.6 410.3L469.4 416.1Z"/>
<path d="M463.2 416.2L467 410.4L470.8 416.2Z"/>
<path d="M464.6 416.2L468.4 410.4L472.2 416.2Z"/>
<path d="M466 416.6L469.8 410.8L473.6 416.6Z"/>
<path d="M467.5 416.9L471.3 411.1L475.1 416.9Z"/>
<path d="M468.9 417.5L472.7 411.7L476.5 417.5Z"/>
<path d="M470.3 417.7L474.1 411.9L477.9 417.7Z"/>
<path d="M471.7 417.6L475.5 411.8L479.3 417.6Z"/>
<path d="M473.1 418.2L476.9 412.4L480.7 418.2Z"/>
<path d="M474.6 418.5L478.4 412.7L482.2 418.5Z"/>
<path d="M476 418.2L479.8 412.4L483.6 418.2Z"/>
<path d="M477.4 419L481.2 413.2L485 419Z"/>
<path d="M478.8 419.4L482.6 413.6L486.4 419.4Z"/>
<path d="M480.2 419.7L484 413.9L487.8 419.7Z"/>
<path d="M481.7 420L485.5 414.2L489.3 420Z"/>
<path d="M483.1 419.9L486.9 414.1L490.7 419.9Z"/>
<path d="M484.5 419.9L488.3 414.1L492.1 419.9Z"/>
<path d="M485.9 420.3L489.7 414.5L493.5 420.3Z"/>
<path d="M487.3 420.5L491.1 414.7L494.9 420.5Z"/>
<path d="M488.8 420.5L492.6 414.7L496.4 420.5Z"/>
<path d="M490.2 420.3L494 414.5L497.8 420.3Z"/>
<path d="M491.6 420.9L495.4 415.1L499.2 420.9Z"/>
<path d="M493 421.7L496.8 415.9L500.6 421.7Z"/>
<path d="M494.4 421.6L498.2 415.8L502 421.6Z"/>
<path d="M495.9 421.8L499.7 416L503.5 421.8Z"/>
<path d="M497.3 421.8L501.1 416L504.9 421.8Z"/>
<path d="M498.7 421.9L502.5 416.1L506.3 421.9Z"/>
<path d="M500.1 422.2L503.9 416.4L507.7 422.2Z"/>
<path d="M501.5 422.4L505.3 416.6L509.1 422.4Z"/>
<path d="M503 422.4L506.8 416.6L510.6 422.4Z"/>
<path d="M504.4 422.6L508.2 416.8L512 422.6Z"/>
<path d="M505.8 422.9L509.6 417.1L513.4 422.9Z"/>
<path d="M507.2 422.8L511 417L514.8 422.8Z"/>
<path d="M508.6 423L512.4 417.2L516.2 423Z"/>
<path d="M510.1 423.6L513.9 417.8L517.7 423.6Z"/>
<path d="M511.5 423.8L515.3 418L519.1 423.8Z"/>
<path d="M512.9 423.8L516.7 418L520.5 423.8Z"/>
<path d="M514.3 424.2L518.1 418.4L521.9 424.2Z"/>
<path d="M515.7 424.3L519.5 418.5L523.3 424.3Z"/>
<path d="M517.2 424.3L521 418.5L524.8 424.3Z"/>
<path d="M518.6 424.3L522.4 418.5L526.2 424.3Z"/>
<path d="M520 424.6L523.8 418.8L527.6 424.6Z"/>
<path d="M521.4 424.6L525.2 418.8L529 424.6Z"/>
<path d="M522.8 424.8L526.6 419L530.4 424.8Z"/>
<path d="M524.3 425L528.1 419.2L531.9 425Z"/>
<path d="M525.7 425.3L529.5 419.5L533.3 425.3Z"/>
<path d="M527.1 425.4L530.9 419.6L534.7 425.4Z"/>
<path d="M528.5 425.5L532.3 419.7L536.1 425.5Z"/>
<path d="M529.9 425.9L533.7 420.1L537.5 425.9Z"/>
<path d="M531.4 426.2L535.2 420.4L539 426.2Z"/>
<path d="M532.8 426.2L536.6 420.4L540.4 426.2Z"/>
<path d="M534.2 426L538 420.2L541.8 426Z"/>
<path d="M535.6 426.3L539.4 420.5L543.2 426.3Z"/>
<path d="M537 426.5L540.8 420.7L544.6 426.5Z"/>
<path d="M538.5 426.5L542.3 420.7L546.1 426.5Z"/>
<path d="M539.9 426.7L543.7 420.9L547.5 426.7Z"/>
<path d="M541.3 427.2L545.1 421.4L548.9 427.2Z"/>
<path d="M542.7 427.3L546.5 421.5L550.3 427.3Z"/>
<path d="M544.1 427.5L547.9 421.7L551.7 427.5Z"/>
<path d="M545.6 427.5L549.4 421.7L553.2 427.5Z"/>
<path d="M547 427.6L550.8 421.8L554.6 427.6Z"/>
<path d="M548.4 427.7L552.2 421.9L556 427.7Z"/>
<path d="M549.8 427.7L553.6 421.9L557.4 427.7Z"/>
<path d="M551.2 427.7L555 421.9L558.8 427.7Z"/>
<path d="M552.7 427.7L556.5 421.9L560.3 427.7Z"/>
<path d="M554.1 427.8L557.9 422L561.7 427.8Z"/>
<path d="M555.5 427.9L559.3 422.1L563.1 427.9Z"/>
<path d="M556.9 428L560.7 422.2L564.5 428Z"/>
<path d="M558.3 428.1L562.1 422.3L565.9 428.1Z"/>
<path d="M559.8 428.1L563.6 422.3L567.4 428.1Z"/>
<path d="M561.2 428.3L565 422.5L568.8 428.3Z"/>
<path d="M562.6 428.2L566.4 422.4L570.2 428.2Z"/>
<path d="M564 428.5L567.8 422.7L571.6 428.5Z"/>
<path d="M565.4 428.7L569.2 422.9L573 428.7Z"/>
<path d="M566.9 428.7L570.7 422.9L574.5 428.7Z"/>
<path d="M568.3 428.7L572.1 422.9L575.9 428.7Z"/>
<path d="M569.7 428.8L573.5 423L577.3 428.8Z"/>
<path d="M571.1 428.9L574.9 423.1L578.7 428.9Z"/>
<path d="M572.5 428.9L576.3 423.1L580.1 428.9Z"/>
<path d="M574 428.9L577.8 423.1L581.6 428.9Z"/>
<path d="M575.4 428.9L579.2 423.1L583 428.9Z"/>
<path d="M576.8 429.1L580.6 423.3L584.4 429.1Z"/>
<path d="M578.2 429.3L582 423.5L585.8 429.3Z"/>
<path d="M579.6 429.3L583.4 423.5L587.2 429.3Z"/>
<path d="M581.1 429.3L584.9 423.5L588.7 429.3Z"/>
<path d="M582.5 429.4L586.3 423.6L590.1 429.4Z"/>
<path d="M583.9 429.4L587.7 423.6L591.5 429.4Z"/>
<path d="M585.3 429.3L589.1 423.5L592.9 429.3Z"/>
<path d="M586.7 429.4L590.5 423.6L594.3 429.4Z"/>
<path d="M588.2 429.5L592 423.7L595.8 429.5Z"/>
<path d="M589.6 429.5L593.4 423.7L597.2 429.5Z"/>
<path d="M591 429.7L594.8 423.9L598.6 429.7Z"/>
<path d="M592.4 429.7L596.2 423.9L600 429.7Z"/>
<path d="M593.8 429.7L597.6 423.9L601.4 429.7Z"/>
<path d="M595.3 429.6L599.1 423.8L602.9 429.6Z"/>
<path d="M596.7 429.5L600.5 423.7L604.3 429.5Z"/>
<path d="M598.1 429.5L601.9 423.7L605.7 429.5Z"/>
<path d="M599.5 429.7L603.3 423.9L607.1 429.7Z"/>
<path d="M600.9 429.9L604.7 424.1L608.5 429.9Z"/>
<path d="M602.4 429.8L606.2 424L610 429.8Z"/>
<path d="M603.8 429.7L607.6 423.9L611.4 429.7Z"/>
<path d="M605.2 429.8L609 424L612.8 429.8Z"/>
<path d="M606.6 429.9L610.4 424.1L614.2 429.9Z"/>
<path d="M608 429.8L611.8 424L615.6 429.8Z"/>
<path d="M609.5 429.8L613.3 424L617.1 429.8Z"/>
<path d="M610.9 429.9L614.7 424.1L618.5 429.9Z"/>
<path d="M612.3 429.9L616.1 424.1L619.9 429.9Z"/>
<path d="M613.7 430L617.5 424.2L621.3 430Z"/>
<path d="M615.1 430L618.9 424.2L622.7 430Z"/>
<path d="M616.6 430L620.4 424.2L624.2 430Z"/>
<path d="M618 430L621.8 424.2L625.6 430Z"/>
<path d="M619.4 430L623.2 424.2L627 430Z"/>
<path d="M620.8 429.9L624.6 424.1L628.4 429.9Z"/>
<path d="M622.2 430.1L626 424.3L629.8 430.1Z"/>
<path d="M623.7 430.2L627.5 424.4L631.3 430.2Z"/>
<path d="M625.1 430.1L628.9 424.3L632.7 430.1Z"/>
<path d="M626.5 430.1L630.3 424.3L634.1 430.1Z"/>
<path d="M627.9 430.2L631.7 424.4L635.5 430.2Z"/>
<path d="M629.3 430.2L633.1 424.4L636.9 430.2Z"/>
<path d="M630.8 430.2L634.6 424.4L638.4 430.2Z"/>
<path d="M632.2 430.3L636 424.5L639.8 430.3Z"/>
<path d="M633.6 430.3L637.4 424.5L641.2 430.3Z"/>
<path d="M635 430.3L638.8 424.5L642.6 430.3Z"/>
<path d="M636.4 430.4L640.2 424.6L644 430.4Z"/>
<path d="M637.9 430.4L641.7 424.6L645.5 430.4Z"/>
<path d="M639.3 430.3L643.1 424.5L646.9 430.3Z"/>
</g>
<polyline points="90.7,427.4 92.1,427.4 93.5,427.4 95,427.4 96.4,427.4 97.8,427.4 99.2,427.4 100.6,427.4 102.1,427.3 103.5,427.1 104.9,427 106.3,427 107.7,427.1 109.2,427.1 110.6,427.1 112,427.1 113.4,427.1 114.8,427.2 116.3,427.1 117.7,426.9 119.1,426.9 120.5,427 121.9,426.9 123.4,426.7 124.8,426.7 126.2,426.7 127.6,426.5 129,426.6 130.5,426.6 131.9,426.4 133.3,426.5 134.7,426.6 136.1,426.3 137.6,426.3 139,426.3 140.4,426.3 141.8,426.2 143.2,426 144.7,426 146.1,426 147.5,426 148.9,426 150.3,425.9 151.8,425.8 153.2,425.8 154.6,425.6 156,425.3 157.4,425.3 158.9,425.2 160.3,425.2 161.7,425 163.1,424.8 164.5,424.7 166,424.6 167.4,424.7 168.8,424.7 170.2,424.4 171.6,424.3 173.1,424.1 174.5,423.9 175.9,423.7 177.3,423.5 178.7,423.2 180.2,423.2 181.6,423.3 183,423.2 184.4,423 185.8,422.8 187.3,422.8 188.7,422.8 190.1,422.3 191.5,422.1 192.9,422 194.4,422 195.8,421.7 197.2,421.7 198.6,421.5 200,421.4 201.5,421.1 202.9,420.9 204.3,420.8 205.7,420.3 207.1,420.2 208.6,420.2 210,420.1 211.4,419.6 212.8,419.1 214.2,419.3 215.7,419.1 217.1,418.7 218.5,418.3 219.9,418.6 221.3,418.7 222.8,418.3 224.2,418 225.6,417.5 227,417.3 228.4,416.9 229.9,416.6 231.3,416.5 232.7,416.2 234.1,416 235.5,415.8 237,415.7 238.4,415.5 239.8,415.3 241.2,414.9 242.6,414.8 244.1,414.3 245.5,414.4 246.9,414.1 248.3,413.4 249.7,413.6 251.2,413.8 252.6,413.5 254,412.9 255.4,412.7 256.8,412.6 258.3,412.5 259.7,412.4 261.1,412.1 262.5,412" fill="none" stroke="#a8385c" stroke-width="2.0" stroke-linejoin="round" opacity="0.5"/>
<polyline points="455.6,411.8 457.1,412 458.5,412.3 459.9,412.6 461.3,413.3 462.7,413.1 464.2,412.8 465.6,413.6 467,413.7 468.4,413.7 469.8,414.1 471.3,414.4 472.7,415 474.1,415.2 475.5,415.1 476.9,415.7 478.4,416 479.8,415.7 481.2,416.5 482.6,416.9 484,417.2 485.5,417.5 486.9,417.4 488.3,417.4 489.7,417.8 491.1,418 492.6,418 494,417.8 495.4,418.4 496.8,419.2 498.2,419.1 499.7,419.3 501.1,419.3 502.5,419.4 503.9,419.7 505.3,419.9 506.8,419.9 508.2,420.1 509.6,420.4 511,420.3 512.4,420.5 513.9,421.1 515.3,421.3 516.7,421.3 518.1,421.7 519.5,421.8 521,421.8 522.4,421.8 523.8,422.1 525.2,422.1 526.6,422.3 528.1,422.5 529.5,422.8 530.9,422.9 532.3,423 533.7,423.4 535.2,423.7 536.6,423.7 538,423.5 539.4,423.8 540.8,424 542.3,424 543.7,424.2 545.1,424.7 546.5,424.8 547.9,425 549.4,425 550.8,425.1 552.2,425.2 553.6,425.2 555,425.2 556.5,425.2 557.9,425.3 559.3,425.4 560.7,425.5 562.1,425.6 563.6,425.6 565,425.8 566.4,425.7 567.8,426 569.2,426.2 570.7,426.2 572.1,426.2 573.5,426.3 574.9,426.4 576.3,426.4 577.8,426.4 579.2,426.4 580.6,426.6 582,426.8 583.4,426.8 584.9,426.8 586.3,426.9 587.7,426.9 589.1,426.8 590.5,426.9 592,427 593.4,427 594.8,427.2 596.2,427.2 597.6,427.2 599.1,427.1 600.5,427 601.9,427 603.3,427.2 604.7,427.4 606.2,427.3 607.6,427.2 609,427.3 610.4,427.4 611.8,427.3 613.3,427.3 614.7,427.4 616.1,427.4 617.5,427.5 618.9,427.5 620.4,427.5 621.8,427.5 623.2,427.5 624.6,427.4 626,427.6 627.5,427.7 628.9,427.6 630.3,427.6 631.7,427.7 633.1,427.7 634.6,427.7 636,427.8 637.4,427.8 638.8,427.8 640.2,427.9 641.7,427.9 643.1,427.8" fill="none" stroke="#a8385c" stroke-width="2.0" stroke-linejoin="round" opacity="0.5"/>
</g>
<text x="507.4" y="45.3" font-size="15.2" font-weight="normal" text-anchor="start" fill="#1a1a1a" textLength="128.2" lengthAdjust="spacingAndGlyphs">Combustor length</text>
<path d="M530.6 59.8H568.4" stroke="#1a1a8f" stroke-width="2.1"/>
<rect x="547.9" y="58" width="3.6" height="3.6" fill="#fff" stroke="#3a3ab0" stroke-width="0.7"/>
<text x="576.6" y="65.5" font-size="16.0" font-weight="normal" text-anchor="start" fill="#1a1a1a" textLength="36" lengthAdjust="spacingAndGlyphs">1160</text>
<path d="M530.6 79.8H568.4" stroke="#fad0d9" stroke-width="2.1"/>
<rect x="547.9" y="78" width="3.6" height="3.6" fill="#fff" stroke="#f8c8d3" stroke-width="0.7"/>
<text x="576.6" y="85.5" font-size="16.0" font-weight="normal" text-anchor="start" fill="#1a1a1a" textLength="36" lengthAdjust="spacingAndGlyphs">1280</text>
<path d="M530.6 99.8H568.4" stroke="#9a2e55" stroke-width="2.1"/>
<rect x="547.9" y="98" width="3.6" height="3.6" fill="#fff" stroke="#b0486a" stroke-width="0.7"/>
<text x="576.6" y="105.5" font-size="16.0" font-weight="normal" text-anchor="start" fill="#1a1a1a" textLength="36" lengthAdjust="spacingAndGlyphs">1400</text>
<g font-weight="bold" font-size="17" fill="#1f1f1f">
<text x="79.0" y="36" text-anchor="end" textLength="42" lengthAdjust="spacingAndGlyphs">3000</text>
<text x="79.0" y="102.3" text-anchor="end" textLength="42" lengthAdjust="spacingAndGlyphs">2500</text>
<text x="79.0" y="168.7" text-anchor="end" textLength="42" lengthAdjust="spacingAndGlyphs">2000</text>
<text x="79.0" y="234.8" text-anchor="end" textLength="42" lengthAdjust="spacingAndGlyphs">1500</text>
<text x="79.0" y="301.1" text-anchor="end" textLength="42" lengthAdjust="spacingAndGlyphs">1000</text>
<text x="79.0" y="368.2" text-anchor="end" textLength="31.2" lengthAdjust="spacingAndGlyphs">500</text>
<text x="79.0" y="442.7" text-anchor="end" textLength="10.6" lengthAdjust="spacingAndGlyphs">0</text>
<text x="111.5" y="460" text-anchor="middle" textLength="25.8" lengthAdjust="spacingAndGlyphs">-60</text>
<text x="154" y="460" text-anchor="middle" textLength="25.8" lengthAdjust="spacingAndGlyphs">-50</text>
<text x="196.5" y="460" text-anchor="middle" textLength="25.8" lengthAdjust="spacingAndGlyphs">-40</text>
<text x="239.1" y="460" text-anchor="middle" textLength="25.8" lengthAdjust="spacingAndGlyphs">-30</text>
<text x="281.6" y="460" text-anchor="middle" textLength="25.8" lengthAdjust="spacingAndGlyphs">-20</text>
<text x="324.1" y="460" text-anchor="middle" textLength="25.8" lengthAdjust="spacingAndGlyphs">-10</text>
<text x="366.6" y="460" text-anchor="middle" textLength="10.6" lengthAdjust="spacingAndGlyphs">0</text>
<text x="409.1" y="460" text-anchor="middle" textLength="20.4" lengthAdjust="spacingAndGlyphs">10</text>
<text x="451.6" y="460" text-anchor="middle" textLength="20.4" lengthAdjust="spacingAndGlyphs">20</text>
<text x="494.1" y="460" text-anchor="middle" textLength="20.4" lengthAdjust="spacingAndGlyphs">30</text>
<text x="536.7" y="460" text-anchor="middle" textLength="20.4" lengthAdjust="spacingAndGlyphs">40</text>
<text x="579.2" y="460" text-anchor="middle" textLength="20.4" lengthAdjust="spacingAndGlyphs">50</text>
<text x="621.7" y="460" text-anchor="middle" textLength="20.4" lengthAdjust="spacingAndGlyphs">60</text>
</g>
<text x="274.6" y="492.7" font-size="18.5" font-weight="normal" text-anchor="start" fill="#1a1a1a" textLength="187" lengthAdjust="spacingAndGlyphs">Radial position [mm]</text>
<text transform="translate(16.4 231.3) rotate(-90)" font-size="18.7" text-anchor="middle" fill="#1a1a1a" textLength="132.4" lengthAdjust="spacingAndGlyphs">Intensity [A.U.]</text>
<text x="0.3" y="17.8" font-size="21.8" font-weight="normal" text-anchor="start" fill="#1a1a1a" textLength="28.4" lengthAdjust="spacingAndGlyphs">(a)</text>
<!-- panel b -->
<rect x="91.4" y="557.1" width="551.9" height="405.8" fill="#fdfdfe"/>
<rect x="103.5" y="567.4" width="111.2" height="220.9" fill="#fff" stroke="#707070" stroke-width="1.5"/>
<g transform="translate(2.9 528)" clip-path="url(#wall)">
<path d="M109.4 127.8C111.7 119.8 119.8 125.6 123.2 124.8C126.6 124.1 127.9 124.1 129.7 123.4C131.6 122.6 132.6 121.8 134.3 120.2C135.9 118.6 137.7 115.9 139.4 113.6C141.1 111.3 142.3 109.4 144.3 106.3C146.2 103.2 148.3 98.6 151.1 95C153.8 91.5 157.6 87.4 160.8 85C164 82.6 167.3 80.7 170.2 80.8C173.1 80.9 176.3 83.3 178.1 85.7C180 88.1 180.8 91.6 181.4 95.1C181.9 98.6 181.7 103.1 181.6 106.8C181.5 110.4 181 114.1 180.9 117.2C180.7 120.2 180.6 122.4 180.7 125.2C180.8 127.9 181.7 130.9 181.6 133.7C181.5 136.6 180.6 139.7 179.8 142C179 144.4 177.6 146.5 176.9 147.8C176.3 149.1 176 148.9 176 150C176 151.1 176.7 151.8 177.1 154.4C177.6 157 178.3 161.7 179 165.6C179.6 169.5 180.2 173.7 180.9 177.7C181.5 181.8 182.2 186 182.7 189.9C183.1 193.9 183.4 197.2 183.5 201.3C183.6 205.4 184 210.7 183.4 214.4C182.8 218.2 181.9 221.6 179.9 223.6C177.9 225.6 174.6 226.8 171.4 226.3C168.2 225.8 164.2 223.4 160.8 220.7C157.4 217.9 154.2 214.1 151.1 209.9C147.9 205.8 144.2 199.8 141.6 195.7C139 191.7 137.2 188.5 135.4 185.8C133.6 183.2 132.4 181.3 130.8 179.9C129.3 178.4 127.8 177.7 125.9 177C124.1 176.4 122.5 176.6 119.7 176C116.9 175.3 111.1 181.2 109.3 173.1C107.6 165.1 107.1 135.9 109.4 127.8Z" fill="#7a74ff" opacity="0.78" filter="url(#fb4)"/>
<path d="M112.5 129C115.1 130.8 123.8 128.7 128 127C132.2 125.3 135 122.3 138 119C141 115.7 145.7 109.7 146 107C146.3 104.3 143.3 102.8 140 103C136.7 103.2 130.6 105.8 126 108C121.4 110.2 114.8 112.5 112.5 116C110.2 119.5 109.9 127.2 112.5 129Z" fill="#9a94ff" opacity="0.45" filter="url(#fb4)"/>
<path d="M112.5 172.5C115.1 170.7 123.8 172.8 128 174.5C132.2 176.2 135 179.2 138 182.5C141 185.8 145.7 191.8 146 194.5C146.3 197.2 143.3 198.7 140 198.5C136.7 198.3 130.6 195.7 126 193.5C121.4 191.3 114.8 189 112.5 185.5C110.2 182 109.9 174.3 112.5 172.5Z" fill="#9a94ff" opacity="0.45" filter="url(#fb4)"/>
<path d="M112.3 128.6C114.2 121.1 120.5 128.2 123.6 127.8C126.7 127.4 128.8 127 130.9 126.1C133.1 125.2 134.5 124.1 136.4 122.4C138.2 120.6 140.1 117.8 141.8 115.4C143.6 113 145.1 111.1 146.8 107.9C148.6 104.7 149.9 99.7 152.4 96.1C154.9 92.5 158.9 88.6 161.9 86.3C164.8 84.1 167.7 82.4 170.2 82.5C172.7 82.6 175.2 84.5 176.7 86.6C178.3 88.8 179.2 92 179.7 95.4C180.2 98.7 180 103.1 179.9 106.7C179.8 110.4 179.3 114 179.2 117.1C179 120.2 178.9 122.5 179 125.2C179.1 128 180 131 179.9 133.7C179.8 136.4 179 139.2 178.2 141.5C177.5 143.7 176 145.7 175.4 147.1C174.7 148.5 174.3 148.7 174.3 150C174.3 151.3 175 152.1 175.5 154.7C176 157.4 176.7 162 177.3 165.9C177.9 169.7 178.6 173.9 179.2 178C179.8 182 180.6 186.2 181 190.1C181.4 194 181.7 197.3 181.8 201.4C181.9 205.4 182.2 210.7 181.7 214.2C181.2 217.7 180.3 220.7 178.6 222.5C177 224.2 174.6 225.2 171.8 224.7C169 224.1 165.1 222 161.8 219.4C158.6 216.7 155.4 213.1 152.4 208.9C149.5 204.7 146.6 198.2 144.1 194.1C141.7 190 139.7 186.9 137.8 184.1C136 181.4 134.7 179.3 132.9 177.6C131 176 129.1 175 126.9 174.2C124.8 173.4 122.4 173.3 120 173C117.5 172.7 113.6 180 112.3 172.6C111 165.2 110.4 136 112.3 128.6Z" fill="#1010ff" filter="url(#fb2)"/>
<path d="M121.6 132.1C122.1 128.7 125.4 131.4 127.1 130.9C128.9 130.3 130.9 129.7 132.2 128.8C133.6 128 133.2 128.2 135.3 125.7C137.4 123.1 141.5 117.6 144.6 113.5C147.7 109.5 151 104.8 153.9 101.6C156.8 98.3 159.7 95.7 162.1 94.1C164.5 92.6 166.7 92.1 168.3 92.4C169.9 92.7 171 93.9 171.7 95.8C172.4 97.8 172.6 100.5 172.6 104C172.6 107.5 172.1 112.7 171.7 117C171.3 121.3 170.7 126 170.3 129.9C169.9 133.7 169.9 137.3 169.4 139.9C168.9 142.6 167.8 144.2 167.4 145.9C167 147.6 166.9 148.3 167 150C167.1 151.8 167.5 154.1 167.9 156.5C168.3 158.9 168.8 160.7 169.4 164.4C170 168 171 173.6 171.7 178.3C172.4 182.9 173.1 187.7 173.6 192.1C174.1 196.6 174.5 201.4 174.5 205.1C174.5 208.8 174.5 212.3 173.6 214.2C172.8 216.2 171.2 217 169.3 216.8C167.4 216.6 164.7 215.2 162.2 213.1C159.6 211 156.8 207.8 153.9 204C151 200.1 147.7 194.6 144.6 190.1C141.5 185.6 137.5 179.9 135.3 177.1C133.1 174.2 132.6 174.3 131.2 173.2C129.9 172.1 128.8 171.3 127.2 170.6C125.5 170 122.1 172.6 121.6 169.3C121.1 166 124 157 124 150.8C124 144.6 121.1 135.4 121.6 132.1Z" fill="#00dcff" filter="url(#fb1)"/>
<path d="M125 132.8C125.2 129.4 128.3 131.4 130 130.5C131.7 129.6 132.6 129.6 135 127.2C137.4 124.8 141.2 119.8 144.3 116.1C147.4 112.4 150.8 107.9 153.6 105C156.4 102.1 159 99.7 161 98.5C163 97.3 164.4 97.2 165.6 98C166.8 98.8 167.6 100.6 167.9 103.1C168.2 105.6 167.9 109 167.5 113.2C167.1 117.4 166.1 123.6 165.6 128.1C165.1 132.6 165.1 137 164.7 140C164.3 143 163.3 144.3 163 146C162.7 147.7 162.7 148.3 162.7 150C162.7 151.7 162.7 153.2 163.2 156.4C163.7 159.6 164.8 164.5 165.6 168.9C166.4 173.3 167.2 178.2 167.9 182.8C168.6 187.4 169.5 192.7 169.8 196.7C170.1 200.7 170.4 204.6 169.8 206.9C169.2 209.2 168 210.4 166.5 210.7C165 211 163.2 210.5 161 208.8C158.8 207.1 156.4 204.1 153.6 200.5C150.8 196.9 147.4 191.6 144.3 187.5C141.2 183.4 137.4 178.6 135 175.9C132.6 173.2 131.7 172.7 130 171.5C128.3 170.3 125.2 172.2 125 168.8C124.8 165.4 128.7 156.8 128.7 150.8C128.7 144.8 124.8 136.2 125 132.8Z" fill="#20f070" filter="url(#fb1)"/>
<path d="M128.2 133.2C128.2 131.5 130.9 131.2 132 130.5C133.1 129.8 132.9 131.2 135 129.1C137.1 127 141.4 121.6 144.3 118C147.2 114.4 150.3 110.2 152.6 107.7C154.9 105.2 156.7 103.7 158.2 103.1C159.7 102.5 160.7 102.9 161.4 104C162.1 105.1 162.5 106.7 162.4 109.5C162.3 112.3 161.6 117 161 120.7C160.4 124.4 159.5 128.6 159.1 131.8C158.7 135 158.9 137.6 158.7 140C158.5 142.4 158 144.3 157.8 146C157.6 147.7 157.5 148.5 157.6 150C157.7 151.5 157.8 151.8 158.2 155C158.6 158.2 159.3 164.6 160 168.9C160.7 173.2 161.6 177.1 162.4 181C163.2 184.9 164.2 188.8 164.7 192.1C165.2 195.3 165.8 198.3 165.6 200.5C165.4 202.7 164.9 204.5 163.8 205.1C162.7 205.7 161 205.6 159.1 204.2C157.2 202.8 155.1 199.8 152.6 196.7C150.1 193.6 147.2 189.3 144.3 185.6C141.4 181.9 137.1 176.8 135 174.5C132.9 172.2 133.1 172.3 132 171.5C130.9 170.7 128.2 171 128.2 169.4C128.2 167.8 130.9 165.1 131.9 162C132.9 158.9 134.2 154.4 134.2 150.8C134.2 147.2 132.9 143.5 131.9 140.6C130.9 137.7 128.2 134.9 128.2 133.2Z" fill="#f2f600" filter="url(#fb1)"/>
<path d="M131 133C131.3 132.2 134.7 131.7 136.9 129.5C139.1 127.3 141.8 122.9 144.3 119.7C146.8 116.5 149.7 112.8 151.7 110.5C153.7 108.2 155.1 106.3 156.3 105.8C157.5 105.3 158.4 106.2 158.7 107.7C159 109.2 158.8 112.3 158.2 115.1C157.6 117.9 156.3 121.6 155.4 124.4C154.5 127.2 153.9 129.7 153 132C152.1 134.3 151.3 136.8 150 138C148.7 139.2 146.7 139.2 145 139C143.3 138.8 141.7 137.2 140 136.5C138.3 135.8 136.5 135.1 135 134.5C133.5 133.9 130.7 133.8 131 133Z" fill="#ffa200" filter="url(#fb15)"/>
<path d="M131 169.5C130.8 168.7 133.5 168.6 135 168C136.5 167.4 138.3 166.8 140 166C141.7 165.2 143.3 163.4 145 163C146.7 162.6 148.7 162.5 150 163.5C151.3 164.5 152 166.6 153 169C154 171.4 154.8 174.8 156 178C157.2 181.2 158.9 184.8 160 188C161.1 191.2 162.4 194.9 162.5 197C162.6 199.1 161.4 200.2 160.5 200.5C159.6 200.8 158.4 200.2 157 199C155.6 197.8 153.8 195.4 152 193C150.2 190.6 148 187.2 146 184.5C144 181.8 141.7 178.9 140 177C138.3 175.1 137.5 174.2 136 173C134.5 171.8 131.2 170.3 131 169.5Z" fill="#ffa200" filter="url(#fb15)"/>
<ellipse cx="148" cy="150.5" rx="2.6" ry="4.2" fill="#ffc400" opacity="0.8" filter="url(#fb15)"/>
<path d="M136.9 128.1C138.4 126.3 141.8 123.5 144.3 120.7C146.8 117.9 149.8 113.7 151.7 111.4C153.6 109.2 155 107.5 155.9 107.2C156.8 106.9 157.4 107.9 157.3 109.5C157.2 111.1 156.7 114.4 155.4 116.9C154.2 119.4 151.7 122.4 149.8 124.4C148 126.4 146.2 127.8 144.3 129C142.5 130.2 140.2 131.4 138.7 131.8C137.2 132.2 135.8 132.1 135.5 131.5C135.2 130.9 135.4 129.9 136.9 128.1Z" fill="#ff1400" filter="url(#fb1)"/>
<path d="M135.9 172.6C136.5 173.5 138.7 174.4 140.6 176.3C142.5 178.2 144.9 181.2 147.1 183.8C149.3 186.4 151.8 189.8 153.6 192.1C155.4 194.4 157 196.9 158.2 197.7C159.4 198.5 160.7 197.9 161 196.7C161.3 195.5 160.9 192.6 160 190.3C159.1 188 157.2 185 155.4 182.8C153.6 180.6 151.1 178.8 148.9 177.3C146.7 175.8 144.4 174.7 142.4 173.6C140.4 172.5 138 171 136.9 170.8C135.8 170.6 135.3 171.7 135.9 172.6Z" fill="#ff1400" filter="url(#fb1)"/>
</g>
<path d="M116.3 593.9V772.2" stroke="#17306c" stroke-width="2.4"/>
<path d="M139.6 593V771.8" stroke="#e01818" stroke-width="2" stroke-dasharray="2.2 2.45"/>
<text x="111.9" y="583.3" font-size="15.0" font-weight="bold" text-anchor="start" fill="#1b3a75" textLength="60.2" lengthAdjust="spacingAndGlyphs">Reference</text>
<text x="145.7" y="776.4" font-size="13.4" font-weight="bold" text-anchor="start" fill="#e3202a" textLength="60" lengthAdjust="spacingAndGlyphs" stroke="#e3202a" stroke-width="0.35">y = 11mm</text>
<rect x="91.4" y="557.1" width="551.9" height="405.8" rx="1" fill="none" stroke="#2e2e2e" stroke-width="2.1"/>
<path d="M91.4 590.2h4.5M91.4 623.4h8.5M91.4 656.6h4.5M91.4 689.8h8.5M91.4 722.8h4.5M91.4 755.9h8.5M91.4 789h4.5M91.4 822.2h8.5M91.4 855.8h4.5M91.4 889.3h8.5M91.4 922.7h4.5" stroke="#262626" stroke-width="1.8" fill="none"/>
<path d="M112.3 962.9v-4.5M133.6 962.9v-9M154.8 962.9v-4.5M176.1 962.9v-9M197.3 962.9v-4.5M218.6 962.9v-9M239.9 962.9v-4.5M261.1 962.9v-9M282.4 962.9v-4.5M303.6 962.9v-9M324.9 962.9v-4.5M346.1 962.9v-9M367.4 962.9v-4.5M388.7 962.9v-9M409.9 962.9v-4.5M431.2 962.9v-9M452.4 962.9v-4.5M473.7 962.9v-9M494.9 962.9v-4.5M516.2 962.9v-9M537.5 962.9v-4.5M558.7 962.9v-9M580 962.9v-4.5M601.2 962.9v-9M622.5 962.9v-4.5" stroke="#262626" stroke-width="1.8" fill="none"/>
<g clip-path="url(#clipb)" filter="url(#soft)">
<polyline points="92.4,955.3 93.8,955.3 95.2,955.4 96.6,955.3 98,955.3 99.5,955.2 100.9,955.3 102.3,955.4 103.7,955.4 105.1,955.4 106.6,955.4 108,955.5 109.4,955.5 110.8,955.4 112.2,955.4 113.7,955.4 115.1,955.4 116.5,955.4 117.9,955.4 119.3,955.4 120.8,955.4 122.2,955.4 123.6,955.4 125,955.3 126.4,955.4 127.9,955.5 129.3,955.6 130.7,955.6 132.1,955.5 133.5,955.6 135,955.7 136.4,955.6 137.8,955.4 139.2,955.4 140.6,955.6 142.1,955.6 143.5,955.6 144.9,955.6 146.3,955.6 147.7,955.6 149.2,955.6 150.6,955.6 152,955.6 153.4,955.7 154.8,955.7 156.3,955.6 157.7,955.5 159.1,955.5 160.5,955.6 161.9,955.5 163.4,955.6 164.8,955.7 166.2,955.7 167.6,955.6 169,955.6 170.5,955.6 171.9,955.6 173.3,955.7 174.7,955.6 176.1,955.7 177.6,955.7 179,955.6 180.4,955.6 181.8,955.5 183.2,955.4 184.7,955.4 186.1,955.3 187.5,955.3 188.9,955.3 190.3,955.2 191.8,955.1 193.2,955 194.6,954.8 196,954.7 197.4,954.8 198.9,955 200.3,954.9 201.7,954.8 203.1,954.4 204.5,954 206,953.8 207.4,953.3 208.8,952.9 210.2,952.8 211.6,952.7 213.1,952.4 214.5,952.2 215.9,951.9 217.3,951.4 218.7,951 220.2,950.7 221.6,950.4 223,950.2 224.4,950.1 225.8,949.6 227.3,949 228.7,948.6 230.1,948.4 231.5,947.5 232.9,947.1 234.4,946.9 235.8,946.3 237.2,945.9 238.6,945.7 240,945.4 241.5,944.9 242.9,944.2 244.3,943.9 245.7,943.1 247.1,943.4 248.6,942.9 250,942.6 251.4,941.9 252.8,941.1 254.2,940.7 255.7,939.9 257.1,939.4 258.5,938.7 259.9,937.5 261.3,936.2 262.8,935.3 264.2,934.6 265.6,933 267,931.8 268.4,929.2 269.9,926.4 271.3,923.7 272.7,921.8 274.1,918.2 275.5,913.3 277,907 278.4,900.6 279.8,891.9 281.2,884.6 282.6,874.8 284.1,863.1 285.5,853.6 286.9,835.8 288.3,814.5 289.7,786.5 291.2,765.5 292.6,746.5 294,726.7 295.4,709.5 296.8,693.1 298.3,677 299.7,662.4 301.1,646.3 302.5,632.6 303.9,620.4 305.4,608.1 306.8,600.1 308.2,590.7 309.6,591.8 311,590.2 312.5,599.9 313.9,609.9 315.3,615.3 316.7,624.3 318.1,628.6 319.6,636.1 321,645.9 322.4,654.9 323.8,663.9 325.2,667.2 326.7,672.2 328.1,677.4 329.5,682.5 330.9,687.9 332.3,691.9 333.8,693.9 335.2,696.3 336.6,697.7 338,697.5 339.4,702.8 340.9,711.2 342.3,715.7 343.7,721.5 345.1,728.2 346.5,732.6 348,735.6 349.4,739.6 350.8,744.9 352.2,748.3 353.6,746.5 355.1,746.2 356.5,747.1 357.9,744.3 359.3,740.9 360.7,740.6 362.2,742.5 363.6,742.8 365,739 366.4,739.4 367.8,739.3 369.3,736.7 370.7,733.1 372.1,730.1 373.5,727.5 374.9,725.8 376.4,724.9 377.8,718.7 379.2,716 380.6,714.7 382,716.9 383.5,720.7 384.9,722.7 386.3,724.7 387.7,730.6 389.1,729.9 390.6,726.4 392,721.5 393.4,720.1 394.8,719 396.2,716.3 397.7,711 399.1,704.7 400.5,696.1 401.9,691.8 403.3,687.2 404.8,681.2 406.2,674.4 407.6,667.5 409,661.6 410.4,652.7 411.9,646.5 413.3,639.3 414.7,630.5 416.1,621.4 417.5,610.6 419,606 420.4,605 421.8,598.4 423.2,597.5 424.6,600.3 426.1,596.9 427.5,601.3 428.9,605.1 430.3,615 431.7,633.2 433.2,647.9 434.6,658 436,674.6 437.4,694 438.8,708.2 440.3,722.9 441.7,745.1 443.1,768.4 444.5,789.8 445.9,809.2 447.4,825 448.8,838.1 450.2,856.4 451.6,872.1 453,882.6 454.5,896.9 455.9,906.1 457.3,913.4 458.7,921.3 460.1,925.1 461.6,927.7 463,930.9 464.4,933.8 465.8,936.3 467.2,937.3 468.7,938.2 470.1,939.2 471.5,940.4 472.9,941.6 474.3,942.5 475.8,943.1 477.2,943.4 478.6,943 480,943.1 481.4,943.2 482.9,943.6 484.3,944.2 485.7,944.5 487.1,944.7 488.5,945.2 490,945.6 491.4,946 492.8,946.3 494.2,946.2 495.6,946.7 497.1,947.2 498.5,947.8 499.9,948.3 501.3,948.2 502.7,948.5 504.2,949.1 505.6,949.6 507,950 508.4,950.1 509.8,950.6 511.3,950.9 512.7,951.3 514.1,951.6 515.5,952 516.9,952.3 518.4,952.4 519.8,952.5 521.2,952.8 522.6,952.9 524,953 525.5,953.2 526.9,953.4 528.3,953.6 529.7,953.6 531.1,953.8 532.6,954 534,954.1 535.4,954.3 536.8,954.4 538.2,954.5 539.7,954.6 541.1,954.7 542.5,954.9 543.9,954.9 545.3,955 546.8,955.2 548.2,955.1 549.6,955.1 551,955.2 552.4,955.3 553.9,955.4 555.3,955.5 556.7,955.5 558.1,955.5 559.5,955.6 561,955.6 562.4,955.7 563.8,955.7 565.2,955.6 566.6,955.6 568.1,955.6 569.5,955.6 570.9,955.6 572.3,955.6 573.7,955.5 575.2,955.6 576.6,955.7 578,955.7 579.4,955.6 580.8,955.6 582.3,955.8 583.7,955.7 585.1,955.6 586.5,955.7 587.9,955.7 589.4,955.7 590.8,955.7 592.2,955.7 593.6,955.6 595,955.6 596.5,955.7 597.9,955.6 599.3,955.4 600.7,955.5 602.1,955.6 603.6,955.6 605,955.7 606.4,955.7 607.8,955.7 609.2,955.7 610.7,955.7 612.1,955.6 613.5,955.6 614.9,955.6 616.3,955.7 617.8,955.7 619.2,955.7 620.6,955.7 622,955.8 623.4,955.8 624.9,955.8 626.3,955.8 627.7,955.8 629.1,955.7 630.5,955.7 632,955.8 633.4,955.8 634.8,955.8 636.2,955.8 637.6,955.8 639.1,955.8 640.5,955.9 641.9,955.9 643.3,955.8" fill="none" stroke="#1d1d96" stroke-width="1.7" stroke-linejoin="round"/>
<polyline points="91.9,957 93.3,956.9 94.7,957.1 96.1,957 97.6,957 99,957 100.4,957.1 101.8,957 103.2,957.1 104.7,957 106.1,957.1 107.5,957.1 108.9,957.1 110.3,957.1 111.8,957.1 113.2,957.2 114.6,957.2 116,957.2 117.4,957.2 118.9,957.1 120.3,957.2 121.7,957.1 123.1,957.1 124.5,957.2 126,957.3 127.4,957.3 128.8,957.2 130.2,957.2 131.6,957.1 133.1,957.2 134.5,957.3 135.9,957.1 137.3,957.2 138.7,957.2 140.2,957.2 141.6,957.2 143,957.3 144.4,957.3 145.8,957.2 147.3,957.2 148.7,957.3 150.1,957.2 151.5,957.3 152.9,957.4 154.4,957.3 155.8,957.2 157.2,957.2 158.6,957.3 160,957.2 161.5,957.2 162.9,957.3 164.3,957.3 165.7,957.3 167.1,957.3 168.6,957.3 170,957.3 171.4,957.2 172.8,957.3 174.2,957.2 175.7,957.3 177.1,957.3 178.5,957.2 179.9,957.3 181.3,957.4 182.8,957.1 184.2,957.1 185.6,957.1 187,957 188.4,957 189.9,957 191.3,956.9 192.7,956.7 194.1,956.6 195.5,956.6 197,956.6 198.4,956.5 199.8,956.5 201.2,956.3 202.6,956.1 204.1,955.9 205.5,955.7 206.9,955.5 208.3,955.2 209.7,954.8 211.2,954.4 212.6,954.1 214,954 215.4,953.7 216.8,953.4 218.3,953 219.7,952.7 221.1,952.2 222.5,952 223.9,951.9 225.4,951.5 226.8,951.1 228.2,950.6 229.6,950.2 231,949.8 232.5,949.3 233.9,949.1 235.3,948.5 236.7,948.1 238.1,947.7 239.6,947.1 241,946.8 242.4,946.4 243.8,946 245.2,945.8 246.7,944.9 248.1,944.3 249.5,944 250.9,943.5 252.3,942.7 253.8,941.6 255.2,941.2 256.6,940.9 258,940.5 259.4,939.2 260.9,938.3 262.3,937.8 263.7,936.5 265.1,935.3 266.5,934.2 268,932.3 269.4,928.7 270.8,926.1 272.2,923.8 273.6,921.4 275.1,914.8 276.5,907.4 277.9,902 279.3,892.6 280.7,884.6 282.2,871 283.6,857.8 285,840.5 286.4,819.1 287.8,791.8 289.3,773.5 290.7,754.4 292.1,731.9 293.5,714.2 294.9,698.1 296.4,682.8 297.8,665.7 299.2,652.1 300.6,635.1 302,623.8 303.5,612.4 304.9,602 306.3,595.2 307.7,588.8 309.1,586.1 310.6,585 312,590.9 313.4,603.4 314.8,611.2 316.2,618.5 317.7,629.1 319.1,636.7 320.5,640.4 321.9,649.4 323.3,659.6 324.8,666.4 326.2,673.2 327.6,676.6 329,681.5 330.4,686.7 331.9,690.9 333.3,695.3 334.7,697.9 336.1,701.8 337.5,707.1 339,709.7 340.4,712.3 341.8,717.4 343.2,723 344.6,724.6 346.1,727.4 347.5,732.1 348.9,732.7 350.3,735.1 351.7,739.8 353.2,738.4 354.6,739.2 356,737.9 357.4,736 358.8,737.8 360.3,736.8 361.7,733.3 363.1,731.7 364.5,734.1 365.9,734.2 367.4,738.4 368.8,737.8 370.2,735.4 371.6,733.6 373,729.1 374.5,724.4 375.9,723 377.3,721.6 378.7,716 380.1,715.5 381.6,714.4 383,716.9 384.4,714 385.8,714.4 387.2,721 388.7,723.4 390.1,720.2 391.5,718.2 392.9,715.7 394.3,716 395.8,716.4 397.2,713 398.6,708.8 400,703 401.4,700.4 402.9,696.7 404.3,689.3 405.7,679.5 407.1,673.1 408.5,664.9 410,657.9 411.4,653.5 412.8,649.4 414.2,639.2 415.6,629.5 417.1,621.3 418.5,613.7 419.9,604.9 421.3,602.3 422.7,598 424.2,598.1 425.6,600.5 427,599 428.4,597.9 429.8,604.5 431.3,617.9 432.7,633.4 434.1,648.7 435.5,660.8 436.9,677.5 438.4,695.1 439.8,712 441.2,725.9 442.6,746.2 444,770.7 445.5,792.8 446.9,812.5 448.3,831.2 449.7,844.3 451.1,861.1 452.6,874 454,888.5 455.4,902.8 456.8,910.5 458.2,916.3 459.7,924.6 461.1,927.1 462.5,929.9 463.9,933.1 465.3,936.6 466.8,938.5 468.2,938.8 469.6,939.3 471,940.1 472.4,940.8 473.9,942.2 475.3,943.5 476.7,943.4 478.1,943.7 479.5,944.2 481,944.6 482.4,944.9 483.8,945.3 485.2,945.8 486.6,946.6 488.1,946.9 489.5,947 490.9,947.2 492.3,947.7 493.7,948.1 495.2,948.2 496.6,948.6 498,949.1 499.4,949.3 500.8,949.7 502.3,950.1 503.7,950.5 505.1,950.8 506.5,951.4 507.9,951.7 509.4,952 510.8,952.4 512.2,952.8 513.6,953 515,953.1 516.5,953.5 517.9,954 519.3,954.3 520.7,954.5 522.1,954.6 523.6,954.7 525,954.9 526.4,955 527.8,955.1 529.2,955.2 530.7,955.5 532.1,955.6 533.5,955.7 534.9,955.8 536.3,955.9 537.8,956.1 539.2,956.3 540.6,956.4 542,956.4 543.4,956.5 544.9,956.5 546.3,956.5 547.7,956.6 549.1,956.7 550.5,956.8 552,956.9 553.4,956.9 554.8,957 556.2,957.1 557.6,957.2 559.1,957.3 560.5,957.4 561.9,957.4 563.3,957.4 564.7,957.3 566.2,957.2 567.6,957.3 569,957.4 570.4,957.2 571.8,957.3 573.3,957.3 574.7,957.4 576.1,957.4 577.5,957.3 578.9,957.3 580.4,957.3 581.8,957.5 583.2,957.4 584.6,957.3 586,957.3 587.5,957.4 588.9,957.3 590.3,957.3 591.7,957.4 593.1,957.4 594.6,957.4 596,957.4 597.4,957.4 598.8,957.5 600.2,957.5 601.7,957.3 603.1,957.3 604.5,957.4 605.9,957.4 607.3,957.4 608.8,957.4 610.2,957.4 611.6,957.4 613,957.5 614.4,957.6 615.9,957.6 617.3,957.4 618.7,957.4 620.1,957.4 621.5,957.4 623,957.5 624.4,957.6 625.8,957.5 627.2,957.5 628.6,957.5 630.1,957.5 631.5,957.5 632.9,957.5 634.3,957.5 635.7,957.4 637.2,957.5 638.6,957.6 640,957.6 641.4,957.6 642.8,957.6" fill="none" stroke="#fbdbe3" stroke-width="1.4" stroke-linejoin="round"/>
<polyline points="91.4,955.8 92.8,955.7 94.2,955.7 95.7,955.8 97.1,955.8 98.5,955.7 99.9,955.7 101.3,955.6 102.8,955.7 104.2,955.9 105.6,955.8 107,955.8 108.4,955.8 109.9,955.8 111.3,955.7 112.7,955.7 114.1,955.9 115.5,955.9 117,955.7 118.4,955.7 119.8,955.8 121.2,955.9 122.6,955.9 124.1,955.9 125.5,955.9 126.9,955.8 128.3,955.9 129.7,956 131.2,955.9 132.6,955.9 134,956 135.4,956 136.8,956 138.3,956.1 139.7,955.9 141.1,955.8 142.5,955.8 143.9,955.9 145.4,956 146.8,956 148.2,956 149.6,956.1 151,956.1 152.5,956 153.9,956 155.3,956 156.7,956.1 158.1,956 159.6,956 161,956 162.4,956 163.8,956 165.2,956 166.7,956 168.1,955.9 169.5,955.9 170.9,956 172.3,955.9 173.8,956 175.2,956.1 176.6,956 178,956 179.4,956 180.9,955.9 182.3,955.9 183.7,955.9 185.1,955.9 186.5,955.9 188,955.6 189.4,955.6 190.8,955.6 192.2,955.5 193.6,955.4 195.1,955.4 196.5,955.3 197.9,955.1 199.3,955.1 200.7,955 202.2,954.9 203.6,954.5 205,954.3 206.4,954.1 207.8,953.9 209.3,953.6 210.7,953.1 212.1,952.8 213.5,952.8 214.9,952.4 216.4,952 217.8,951.7 219.2,951.5 220.6,951.2 222,950.9 223.5,950.7 224.9,950.1 226.3,949.6 227.7,949 229.1,948.8 230.6,948.4 232,948.2 233.4,947.5 234.8,947.3 236.2,946.5 237.7,945.9 239.1,945.8 240.5,945.4 241.9,944.7 243.3,944 244.8,943.5 246.2,943.3 247.6,942.9 249,941.9 250.4,941.8 251.9,941.5 253.3,940.3 254.7,940.1 256.1,939.6 257.5,938.8 259,937.8 260.4,936.6 261.8,936 263.2,935.3 264.6,933.7 266.1,932 267.5,929.9 268.9,928.8 270.3,926.4 271.7,922.7 273.2,919.5 274.6,913.6 276,907.7 277.4,900 278.8,889.6 280.3,877.6 281.7,866.7 283.1,854 284.5,839.9 285.9,818.4 287.4,787.9 288.8,766.4 290.2,747.8 291.6,732.7 293,713 294.5,691.8 295.9,675.2 297.3,662.3 298.7,647.7 300.1,632.5 301.6,622 303,611.7 304.4,600 305.8,591.8 307.2,583.9 308.7,578.8 310.1,582.4 311.5,591.9 312.9,601.3 314.3,609 315.8,617.3 317.2,624.9 318.6,633.1 320,642.5 321.4,650 322.9,654.8 324.3,663.5 325.7,668.9 327.1,672.6 328.5,678.7 330,682.4 331.4,684.9 332.8,686 334.2,689.5 335.6,696.1 337.1,701.5 338.5,700.8 339.9,702.7 341.3,710.8 342.7,715.5 344.2,719.3 345.6,721.3 347,726.2 348.4,727.8 349.8,727.8 351.3,730 352.7,732 354.1,731.6 355.5,731.6 356.9,728.8 358.4,727.9 359.8,725.7 361.2,727 362.6,727.5 364,725.6 365.5,728.9 366.9,732 368.3,729.6 369.7,729.8 371.1,726.8 372.6,721.2 374,719.4 375.4,717.5 376.8,714.5 378.2,715.2 379.7,712.8 381.1,708.7 382.5,706.6 383.9,708.3 385.3,711.3 386.8,714.7 388.2,715.3 389.6,717.3 391,717.4 392.4,710.9 393.9,709.5 395.3,710.5 396.7,706.5 398.1,701.6 399.5,698.6 401,695.9 402.4,691.2 403.8,683.6 405.2,678 406.6,671.9 408.1,664.8 409.5,655.7 410.9,645.9 412.3,639.7 413.7,636 415.2,627.4 416.6,619.5 418,612 419.4,606.4 420.8,602 422.3,596.4 423.7,598.5 425.1,596.6 426.5,593.3 427.9,594.1 429.4,602 430.8,619.8 432.2,633.8 433.6,646.1 435,659 436.5,678.1 437.9,696.3 439.3,712.5 440.7,727.2 442.1,747.6 443.6,773.8 445,795.5 446.4,810.7 447.8,827 449.2,845.6 450.7,860.5 452.1,872.7 453.5,886.3 454.9,898.4 456.3,906.5 457.8,916.4 459.2,923.5 460.6,925 462,928.5 463.4,931.5 464.9,934.6 466.3,936.5 467.7,937.6 469.1,938.3 470.5,939.2 472,940.7 473.4,941.8 474.8,941.9 476.2,942.2 477.6,942.7 479.1,943 480.5,943.5 481.9,944.1 483.3,944.4 484.7,944.6 486.2,944.9 487.6,945.2 489,945.8 490.4,945.9 491.8,946.1 493.3,946.6 494.7,947.2 496.1,947.7 497.5,947.9 498.9,948.2 500.4,948.9 501.8,949.1 503.2,949.5 504.6,949.8 506,950 507.5,950.2 508.9,950.6 510.3,950.9 511.7,951.2 513.1,951.7 514.6,952.1 516,952.5 517.4,952.8 518.8,952.7 520.2,953 521.7,953 523.1,953.1 524.5,953.4 525.9,953.5 527.3,953.5 528.8,953.8 530.2,954.1 531.6,954.4 533,954.5 534.4,954.5 535.9,954.5 537.3,954.7 538.7,955 540.1,955.1 541.5,955.2 543,955.2 544.4,955.3 545.8,955.3 547.2,955.3 548.6,955.5 550.1,955.6 551.5,955.5 552.9,955.6 554.3,955.7 555.7,955.8 557.2,955.9 558.6,956.1 560,956 561.4,955.9 562.8,956 564.3,956 565.7,956 567.1,956.1 568.5,956.1 569.9,956.2 571.4,956.1 572.8,956 574.2,956 575.6,956 577,956 578.5,956.1 579.9,956.1 581.3,956.2 582.7,956.1 584.1,956 585.6,956.1 587,956.1 588.4,956 589.8,956 591.2,956 592.7,956 594.1,955.9 595.5,956 596.9,956.1 598.3,956.1 599.8,956.1 601.2,956.1 602.6,956 604,956 605.4,956.1 606.9,956.1 608.3,956.1 609.7,956.2 611.1,956.1 612.5,956.2 614,956.1 615.4,956.1 616.8,956.1 618.2,956.1 619.6,956 621.1,956.1 622.5,956.2 623.9,956.2 625.3,956.3 626.7,956.3 628.2,956.2 629.6,956.1 631,956.2 632.4,956.2 633.8,956.2 635.3,956.3 636.7,956.3 638.1,956.1 639.5,956.1 640.9,956.2 642.4,956.3" fill="none" stroke="#8f1d44" stroke-width="1.6" stroke-linejoin="round"/>
<g fill="#fff" fill-opacity="0.6" stroke="#5660cc" stroke-width="0.85">
<rect x="90.2" y="953.1" width="4.4" height="4.4"/>
<rect x="91.6" y="953.1" width="4.4" height="4.4"/>
<rect x="93" y="953.2" width="4.4" height="4.4"/>
<rect x="94.4" y="953.1" width="4.4" height="4.4"/>
<rect x="95.8" y="953.1" width="4.4" height="4.4"/>
<rect x="97.3" y="953" width="4.4" height="4.4"/>
<rect x="98.7" y="953.1" width="4.4" height="4.4"/>
<rect x="100.1" y="953.2" width="4.4" height="4.4"/>
<rect x="101.5" y="953.2" width="4.4" height="4.4"/>
<rect x="102.9" y="953.2" width="4.4" height="4.4"/>
<rect x="104.4" y="953.2" width="4.4" height="4.4"/>
<rect x="105.8" y="953.3" width="4.4" height="4.4"/>
<rect x="107.2" y="953.3" width="4.4" height="4.4"/>
<rect x="108.6" y="953.2" width="4.4" height="4.4"/>
<rect x="110" y="953.2" width="4.4" height="4.4"/>
<rect x="111.5" y="953.2" width="4.4" height="4.4"/>
<rect x="112.9" y="953.2" width="4.4" height="4.4"/>
<rect x="114.3" y="953.2" width="4.4" height="4.4"/>
<rect x="115.7" y="953.2" width="4.4" height="4.4"/>
<rect x="117.1" y="953.2" width="4.4" height="4.4"/>
<rect x="118.6" y="953.2" width="4.4" height="4.4"/>
<rect x="120" y="953.2" width="4.4" height="4.4"/>
<rect x="121.4" y="953.2" width="4.4" height="4.4"/>
<rect x="122.8" y="953.1" width="4.4" height="4.4"/>
<rect x="124.2" y="953.2" width="4.4" height="4.4"/>
<rect x="125.7" y="953.3" width="4.4" height="4.4"/>
<rect x="127.1" y="953.4" width="4.4" height="4.4"/>
<rect x="128.5" y="953.4" width="4.4" height="4.4"/>
<rect x="129.9" y="953.3" width="4.4" height="4.4"/>
<rect x="131.3" y="953.4" width="4.4" height="4.4"/>
<rect x="132.8" y="953.5" width="4.4" height="4.4"/>
<rect x="134.2" y="953.4" width="4.4" height="4.4"/>
<rect x="135.6" y="953.2" width="4.4" height="4.4"/>
<rect x="137" y="953.2" width="4.4" height="4.4"/>
<rect x="138.4" y="953.4" width="4.4" height="4.4"/>
<rect x="139.9" y="953.4" width="4.4" height="4.4"/>
<rect x="141.3" y="953.4" width="4.4" height="4.4"/>
<rect x="142.7" y="953.4" width="4.4" height="4.4"/>
<rect x="144.1" y="953.4" width="4.4" height="4.4"/>
<rect x="145.5" y="953.4" width="4.4" height="4.4"/>
<rect x="147" y="953.4" width="4.4" height="4.4"/>
<rect x="148.4" y="953.4" width="4.4" height="4.4"/>
<rect x="149.8" y="953.4" width="4.4" height="4.4"/>
<rect x="151.2" y="953.5" width="4.4" height="4.4"/>
<rect x="152.6" y="953.5" width="4.4" height="4.4"/>
<rect x="154.1" y="953.4" width="4.4" height="4.4"/>
<rect x="155.5" y="953.3" width="4.4" height="4.4"/>
<rect x="156.9" y="953.3" width="4.4" height="4.4"/>
<rect x="158.3" y="953.4" width="4.4" height="4.4"/>
<rect x="159.7" y="953.3" width="4.4" height="4.4"/>
<rect x="161.2" y="953.4" width="4.4" height="4.4"/>
<rect x="162.6" y="953.5" width="4.4" height="4.4"/>
<rect x="164" y="953.5" width="4.4" height="4.4"/>
<rect x="165.4" y="953.4" width="4.4" height="4.4"/>
<rect x="166.8" y="953.4" width="4.4" height="4.4"/>
<rect x="168.3" y="953.4" width="4.4" height="4.4"/>
<rect x="169.7" y="953.4" width="4.4" height="4.4"/>
<rect x="171.1" y="953.5" width="4.4" height="4.4"/>
<rect x="172.5" y="953.4" width="4.4" height="4.4"/>
<rect x="173.9" y="953.5" width="4.4" height="4.4"/>
<rect x="175.4" y="953.5" width="4.4" height="4.4"/>
<rect x="176.8" y="953.4" width="4.4" height="4.4"/>
<rect x="178.2" y="953.4" width="4.4" height="4.4"/>
<rect x="179.6" y="953.3" width="4.4" height="4.4"/>
<rect x="181" y="953.2" width="4.4" height="4.4"/>
<rect x="182.5" y="953.2" width="4.4" height="4.4"/>
<rect x="183.9" y="953.1" width="4.4" height="4.4"/>
<rect x="185.3" y="953.1" width="4.4" height="4.4"/>
<rect x="186.7" y="953.1" width="4.4" height="4.4"/>
<rect x="188.1" y="953" width="4.4" height="4.4"/>
<rect x="189.6" y="952.9" width="4.4" height="4.4"/>
<rect x="191" y="952.8" width="4.4" height="4.4"/>
<rect x="192.4" y="952.6" width="4.4" height="4.4"/>
<rect x="193.8" y="952.5" width="4.4" height="4.4"/>
<rect x="195.2" y="952.6" width="4.4" height="4.4"/>
<rect x="196.7" y="952.8" width="4.4" height="4.4"/>
<rect x="198.1" y="952.7" width="4.4" height="4.4"/>
<rect x="199.5" y="952.6" width="4.4" height="4.4"/>
<rect x="200.9" y="952.2" width="4.4" height="4.4"/>
<rect x="202.3" y="951.8" width="4.4" height="4.4"/>
<rect x="203.8" y="951.6" width="4.4" height="4.4"/>
<rect x="205.2" y="951.1" width="4.4" height="4.4"/>
<rect x="206.6" y="950.7" width="4.4" height="4.4"/>
<rect x="208" y="950.6" width="4.4" height="4.4"/>
<rect x="209.4" y="950.5" width="4.4" height="4.4"/>
<rect x="210.9" y="950.2" width="4.4" height="4.4"/>
<rect x="212.3" y="950" width="4.4" height="4.4"/>
<rect x="213.7" y="949.7" width="4.4" height="4.4"/>
<rect x="215.1" y="949.2" width="4.4" height="4.4"/>
<rect x="216.5" y="948.8" width="4.4" height="4.4"/>
<rect x="218" y="948.5" width="4.4" height="4.4"/>
<rect x="219.4" y="948.2" width="4.4" height="4.4"/>
<rect x="220.8" y="948" width="4.4" height="4.4"/>
<rect x="222.2" y="947.9" width="4.4" height="4.4"/>
<rect x="223.6" y="947.4" width="4.4" height="4.4"/>
<rect x="225.1" y="946.8" width="4.4" height="4.4"/>
<rect x="226.5" y="946.4" width="4.4" height="4.4"/>
<rect x="227.9" y="946.2" width="4.4" height="4.4"/>
<rect x="229.3" y="945.3" width="4.4" height="4.4"/>
<rect x="230.7" y="944.9" width="4.4" height="4.4"/>
<rect x="232.2" y="944.7" width="4.4" height="4.4"/>
<rect x="233.6" y="944.1" width="4.4" height="4.4"/>
<rect x="235" y="943.7" width="4.4" height="4.4"/>
<rect x="236.4" y="943.5" width="4.4" height="4.4"/>
<rect x="237.8" y="943.2" width="4.4" height="4.4"/>
<rect x="239.3" y="942.7" width="4.4" height="4.4"/>
<rect x="240.7" y="942" width="4.4" height="4.4"/>
<rect x="242.1" y="941.7" width="4.4" height="4.4"/>
<rect x="243.5" y="940.9" width="4.4" height="4.4"/>
<rect x="244.9" y="941.2" width="4.4" height="4.4"/>
<rect x="246.4" y="940.7" width="4.4" height="4.4"/>
<rect x="247.8" y="940.4" width="4.4" height="4.4"/>
<rect x="249.2" y="939.7" width="4.4" height="4.4"/>
<rect x="250.6" y="938.9" width="4.4" height="4.4"/>
<rect x="252" y="938.5" width="4.4" height="4.4"/>
<rect x="253.5" y="937.7" width="4.4" height="4.4"/>
<rect x="254.9" y="937.2" width="4.4" height="4.4"/>
<rect x="256.3" y="936.5" width="4.4" height="4.4"/>
<rect x="257.7" y="935.3" width="4.4" height="4.4"/>
<rect x="259.1" y="934" width="4.4" height="4.4"/>
<rect x="260.6" y="933.1" width="4.4" height="4.4"/>
<rect x="262" y="932.4" width="4.4" height="4.4"/>
<rect x="263.4" y="930.8" width="4.4" height="4.4"/>
<rect x="264.8" y="929.6" width="4.4" height="4.4"/>
<rect x="266.2" y="927" width="4.4" height="4.4"/>
<rect x="267.7" y="924.2" width="4.4" height="4.4"/>
<rect x="269.1" y="921.5" width="4.4" height="4.4"/>
<rect x="270.5" y="919.6" width="4.4" height="4.4"/>
<rect x="271.9" y="916" width="4.4" height="4.4"/>
<rect x="273.3" y="911.1" width="4.4" height="4.4"/>
<rect x="274.8" y="904.8" width="4.4" height="4.4"/>
<rect x="276.2" y="898.4" width="4.4" height="4.4"/>
<rect x="277.6" y="889.7" width="4.4" height="4.4"/>
<rect x="279" y="882.4" width="4.4" height="4.4"/>
<rect x="280.4" y="872.6" width="4.4" height="4.4"/>
<rect x="281.9" y="860.9" width="4.4" height="4.4"/>
<rect x="283.3" y="851.4" width="4.4" height="4.4"/>
<rect x="284.7" y="833.6" width="4.4" height="4.4"/>
<rect x="286.1" y="812.3" width="4.4" height="4.4"/>
<rect x="287.5" y="784.3" width="4.4" height="4.4"/>
<rect x="289" y="763.3" width="4.4" height="4.4"/>
<rect x="290.4" y="744.3" width="4.4" height="4.4"/>
<rect x="291.8" y="724.5" width="4.4" height="4.4"/>
<rect x="293.2" y="707.3" width="4.4" height="4.4"/>
<rect x="294.6" y="690.9" width="4.4" height="4.4"/>
<rect x="296.1" y="674.8" width="4.4" height="4.4"/>
<rect x="297.5" y="660.2" width="4.4" height="4.4"/>
<rect x="298.9" y="644.1" width="4.4" height="4.4"/>
<rect x="300.3" y="630.4" width="4.4" height="4.4"/>
<rect x="301.7" y="618.2" width="4.4" height="4.4"/>
<rect x="303.2" y="605.9" width="4.4" height="4.4"/>
<rect x="304.6" y="597.9" width="4.4" height="4.4"/>
<rect x="306" y="588.5" width="4.4" height="4.4"/>
<rect x="307.4" y="589.6" width="4.4" height="4.4"/>
<rect x="308.8" y="588" width="4.4" height="4.4"/>
<rect x="310.3" y="597.7" width="4.4" height="4.4"/>
<rect x="311.7" y="607.7" width="4.4" height="4.4"/>
<rect x="313.1" y="613.1" width="4.4" height="4.4"/>
<rect x="314.5" y="622.1" width="4.4" height="4.4"/>
<rect x="315.9" y="626.4" width="4.4" height="4.4"/>
<rect x="317.4" y="633.9" width="4.4" height="4.4"/>
<rect x="318.8" y="643.7" width="4.4" height="4.4"/>
<rect x="320.2" y="652.7" width="4.4" height="4.4"/>
<rect x="321.6" y="661.7" width="4.4" height="4.4"/>
<rect x="323" y="665" width="4.4" height="4.4"/>
<rect x="324.5" y="670" width="4.4" height="4.4"/>
<rect x="325.9" y="675.2" width="4.4" height="4.4"/>
<rect x="327.3" y="680.3" width="4.4" height="4.4"/>
<rect x="328.7" y="685.7" width="4.4" height="4.4"/>
<rect x="330.1" y="689.7" width="4.4" height="4.4"/>
<rect x="331.6" y="691.7" width="4.4" height="4.4"/>
<rect x="333" y="694.1" width="4.4" height="4.4"/>
<rect x="334.4" y="695.5" width="4.4" height="4.4"/>
<rect x="335.8" y="695.3" width="4.4" height="4.4"/>
<rect x="337.2" y="700.6" width="4.4" height="4.4"/>
<rect x="338.7" y="709" width="4.4" height="4.4"/>
<rect x="340.1" y="713.5" width="4.4" height="4.4"/>
<rect x="341.5" y="719.3" width="4.4" height="4.4"/>
<rect x="342.9" y="726" width="4.4" height="4.4"/>
<rect x="344.3" y="730.4" width="4.4" height="4.4"/>
<rect x="345.8" y="733.4" width="4.4" height="4.4"/>
<rect x="347.2" y="737.4" width="4.4" height="4.4"/>
<rect x="348.6" y="742.7" width="4.4" height="4.4"/>
<rect x="350" y="746.1" width="4.4" height="4.4"/>
<rect x="351.4" y="744.3" width="4.4" height="4.4"/>
<rect x="352.9" y="744" width="4.4" height="4.4"/>
<rect x="354.3" y="744.9" width="4.4" height="4.4"/>
<rect x="355.7" y="742.1" width="4.4" height="4.4"/>
<rect x="357.1" y="738.7" width="4.4" height="4.4"/>
<rect x="358.5" y="738.4" width="4.4" height="4.4"/>
<rect x="360" y="740.3" width="4.4" height="4.4"/>
<rect x="361.4" y="740.6" width="4.4" height="4.4"/>
<rect x="362.8" y="736.8" width="4.4" height="4.4"/>
<rect x="364.2" y="737.2" width="4.4" height="4.4"/>
<rect x="365.6" y="737.1" width="4.4" height="4.4"/>
<rect x="367.1" y="734.5" width="4.4" height="4.4"/>
<rect x="368.5" y="730.9" width="4.4" height="4.4"/>
<rect x="369.9" y="727.9" width="4.4" height="4.4"/>
<rect x="371.3" y="725.3" width="4.4" height="4.4"/>
<rect x="372.7" y="723.6" width="4.4" height="4.4"/>
<rect x="374.2" y="722.7" width="4.4" height="4.4"/>
<rect x="375.6" y="716.5" width="4.4" height="4.4"/>
<rect x="377" y="713.8" width="4.4" height="4.4"/>
<rect x="378.4" y="712.5" width="4.4" height="4.4"/>
<rect x="379.8" y="714.7" width="4.4" height="4.4"/>
<rect x="381.3" y="718.5" width="4.4" height="4.4"/>
<rect x="382.7" y="720.5" width="4.4" height="4.4"/>
<rect x="384.1" y="722.5" width="4.4" height="4.4"/>
<rect x="385.5" y="728.4" width="4.4" height="4.4"/>
<rect x="386.9" y="727.7" width="4.4" height="4.4"/>
<rect x="388.4" y="724.2" width="4.4" height="4.4"/>
<rect x="389.8" y="719.3" width="4.4" height="4.4"/>
<rect x="391.2" y="717.9" width="4.4" height="4.4"/>
<rect x="392.6" y="716.8" width="4.4" height="4.4"/>
<rect x="394" y="714.1" width="4.4" height="4.4"/>
<rect x="395.5" y="708.8" width="4.4" height="4.4"/>
<rect x="396.9" y="702.5" width="4.4" height="4.4"/>
<rect x="398.3" y="693.9" width="4.4" height="4.4"/>
<rect x="399.7" y="689.6" width="4.4" height="4.4"/>
<rect x="401.1" y="685" width="4.4" height="4.4"/>
<rect x="402.6" y="679" width="4.4" height="4.4"/>
<rect x="404" y="672.2" width="4.4" height="4.4"/>
<rect x="405.4" y="665.3" width="4.4" height="4.4"/>
<rect x="406.8" y="659.4" width="4.4" height="4.4"/>
<rect x="408.2" y="650.5" width="4.4" height="4.4"/>
<rect x="409.7" y="644.3" width="4.4" height="4.4"/>
<rect x="411.1" y="637.1" width="4.4" height="4.4"/>
<rect x="412.5" y="628.3" width="4.4" height="4.4"/>
<rect x="413.9" y="619.2" width="4.4" height="4.4"/>
<rect x="415.3" y="608.4" width="4.4" height="4.4"/>
<rect x="416.8" y="603.8" width="4.4" height="4.4"/>
<rect x="418.2" y="602.8" width="4.4" height="4.4"/>
<rect x="419.6" y="596.2" width="4.4" height="4.4"/>
<rect x="421" y="595.3" width="4.4" height="4.4"/>
<rect x="422.4" y="598.1" width="4.4" height="4.4"/>
<rect x="423.9" y="594.7" width="4.4" height="4.4"/>
<rect x="425.3" y="599.1" width="4.4" height="4.4"/>
<rect x="426.7" y="602.9" width="4.4" height="4.4"/>
<rect x="428.1" y="612.8" width="4.4" height="4.4"/>
<rect x="429.5" y="631" width="4.4" height="4.4"/>
<rect x="431" y="645.7" width="4.4" height="4.4"/>
<rect x="432.4" y="655.8" width="4.4" height="4.4"/>
<rect x="433.8" y="672.4" width="4.4" height="4.4"/>
<rect x="435.2" y="691.8" width="4.4" height="4.4"/>
<rect x="436.6" y="706" width="4.4" height="4.4"/>
<rect x="438.1" y="720.7" width="4.4" height="4.4"/>
<rect x="439.5" y="742.9" width="4.4" height="4.4"/>
<rect x="440.9" y="766.2" width="4.4" height="4.4"/>
<rect x="442.3" y="787.6" width="4.4" height="4.4"/>
<rect x="443.7" y="807" width="4.4" height="4.4"/>
<rect x="445.2" y="822.8" width="4.4" height="4.4"/>
<rect x="446.6" y="835.9" width="4.4" height="4.4"/>
<rect x="448" y="854.2" width="4.4" height="4.4"/>
<rect x="449.4" y="869.9" width="4.4" height="4.4"/>
<rect x="450.8" y="880.4" width="4.4" height="4.4"/>
<rect x="452.3" y="894.7" width="4.4" height="4.4"/>
<rect x="453.7" y="903.9" width="4.4" height="4.4"/>
<rect x="455.1" y="911.2" width="4.4" height="4.4"/>
<rect x="456.5" y="919.1" width="4.4" height="4.4"/>
<rect x="457.9" y="922.9" width="4.4" height="4.4"/>
<rect x="459.4" y="925.5" width="4.4" height="4.4"/>
<rect x="460.8" y="928.7" width="4.4" height="4.4"/>
<rect x="462.2" y="931.6" width="4.4" height="4.4"/>
<rect x="463.6" y="934.1" width="4.4" height="4.4"/>
<rect x="465" y="935.1" width="4.4" height="4.4"/>
<rect x="466.5" y="936" width="4.4" height="4.4"/>
<rect x="467.9" y="937" width="4.4" height="4.4"/>
<rect x="469.3" y="938.2" width="4.4" height="4.4"/>
<rect x="470.7" y="939.4" width="4.4" height="4.4"/>
<rect x="472.1" y="940.3" width="4.4" height="4.4"/>
<rect x="473.6" y="940.9" width="4.4" height="4.4"/>
<rect x="475" y="941.2" width="4.4" height="4.4"/>
<rect x="476.4" y="940.8" width="4.4" height="4.4"/>
<rect x="477.8" y="940.9" width="4.4" height="4.4"/>
<rect x="479.2" y="941" width="4.4" height="4.4"/>
<rect x="480.7" y="941.4" width="4.4" height="4.4"/>
<rect x="482.1" y="942" width="4.4" height="4.4"/>
<rect x="483.5" y="942.3" width="4.4" height="4.4"/>
<rect x="484.9" y="942.5" width="4.4" height="4.4"/>
<rect x="486.3" y="943" width="4.4" height="4.4"/>
<rect x="487.8" y="943.4" width="4.4" height="4.4"/>
<rect x="489.2" y="943.8" width="4.4" height="4.4"/>
<rect x="490.6" y="944.1" width="4.4" height="4.4"/>
<rect x="492" y="944" width="4.4" height="4.4"/>
<rect x="493.4" y="944.5" width="4.4" height="4.4"/>
<rect x="494.9" y="945" width="4.4" height="4.4"/>
<rect x="496.3" y="945.6" width="4.4" height="4.4"/>
<rect x="497.7" y="946.1" width="4.4" height="4.4"/>
<rect x="499.1" y="946" width="4.4" height="4.4"/>
<rect x="500.5" y="946.3" width="4.4" height="4.4"/>
<rect x="502" y="946.9" width="4.4" height="4.4"/>
<rect x="503.4" y="947.4" width="4.4" height="4.4"/>
<rect x="504.8" y="947.8" width="4.4" height="4.4"/>
<rect x="506.2" y="947.9" width="4.4" height="4.4"/>
<rect x="507.6" y="948.4" width="4.4" height="4.4"/>
<rect x="509.1" y="948.7" width="4.4" height="4.4"/>
<rect x="510.5" y="949.1" width="4.4" height="4.4"/>
<rect x="511.9" y="949.4" width="4.4" height="4.4"/>
<rect x="513.3" y="949.8" width="4.4" height="4.4"/>
<rect x="514.7" y="950.1" width="4.4" height="4.4"/>
<rect x="516.2" y="950.2" width="4.4" height="4.4"/>
<rect x="517.6" y="950.3" width="4.4" height="4.4"/>
<rect x="519" y="950.6" width="4.4" height="4.4"/>
<rect x="520.4" y="950.7" width="4.4" height="4.4"/>
<rect x="521.8" y="950.8" width="4.4" height="4.4"/>
<rect x="523.3" y="951" width="4.4" height="4.4"/>
<rect x="524.7" y="951.2" width="4.4" height="4.4"/>
<rect x="526.1" y="951.4" width="4.4" height="4.4"/>
<rect x="527.5" y="951.4" width="4.4" height="4.4"/>
<rect x="528.9" y="951.6" width="4.4" height="4.4"/>
<rect x="530.4" y="951.8" width="4.4" height="4.4"/>
<rect x="531.8" y="951.9" width="4.4" height="4.4"/>
<rect x="533.2" y="952.1" width="4.4" height="4.4"/>
<rect x="534.6" y="952.2" width="4.4" height="4.4"/>
<rect x="536" y="952.3" width="4.4" height="4.4"/>
<rect x="537.5" y="952.4" width="4.4" height="4.4"/>
<rect x="538.9" y="952.5" width="4.4" height="4.4"/>
<rect x="540.3" y="952.7" width="4.4" height="4.4"/>
<rect x="541.7" y="952.7" width="4.4" height="4.4"/>
<rect x="543.1" y="952.8" width="4.4" height="4.4"/>
<rect x="544.6" y="953" width="4.4" height="4.4"/>
<rect x="546" y="952.9" width="4.4" height="4.4"/>
<rect x="547.4" y="952.9" width="4.4" height="4.4"/>
<rect x="548.8" y="953" width="4.4" height="4.4"/>
<rect x="550.2" y="953.1" width="4.4" height="4.4"/>
<rect x="551.7" y="953.2" width="4.4" height="4.4"/>
<rect x="553.1" y="953.3" width="4.4" height="4.4"/>
<rect x="554.5" y="953.3" width="4.4" height="4.4"/>
<rect x="555.9" y="953.3" width="4.4" height="4.4"/>
<rect x="557.3" y="953.4" width="4.4" height="4.4"/>
<rect x="558.8" y="953.4" width="4.4" height="4.4"/>
<rect x="560.2" y="953.5" width="4.4" height="4.4"/>
<rect x="561.6" y="953.5" width="4.4" height="4.4"/>
<rect x="563" y="953.4" width="4.4" height="4.4"/>
<rect x="564.4" y="953.4" width="4.4" height="4.4"/>
<rect x="565.9" y="953.4" width="4.4" height="4.4"/>
<rect x="567.3" y="953.4" width="4.4" height="4.4"/>
<rect x="568.7" y="953.4" width="4.4" height="4.4"/>
<rect x="570.1" y="953.4" width="4.4" height="4.4"/>
<rect x="571.5" y="953.3" width="4.4" height="4.4"/>
<rect x="573" y="953.4" width="4.4" height="4.4"/>
<rect x="574.4" y="953.5" width="4.4" height="4.4"/>
<rect x="575.8" y="953.5" width="4.4" height="4.4"/>
<rect x="577.2" y="953.4" width="4.4" height="4.4"/>
<rect x="578.6" y="953.4" width="4.4" height="4.4"/>
<rect x="580.1" y="953.6" width="4.4" height="4.4"/>
<rect x="581.5" y="953.5" width="4.4" height="4.4"/>
<rect x="582.9" y="953.4" width="4.4" height="4.4"/>
<rect x="584.3" y="953.5" width="4.4" height="4.4"/>
<rect x="585.7" y="953.5" width="4.4" height="4.4"/>
<rect x="587.2" y="953.5" width="4.4" height="4.4"/>
<rect x="588.6" y="953.5" width="4.4" height="4.4"/>
<rect x="590" y="953.5" width="4.4" height="4.4"/>
<rect x="591.4" y="953.4" width="4.4" height="4.4"/>
<rect x="592.8" y="953.4" width="4.4" height="4.4"/>
<rect x="594.3" y="953.5" width="4.4" height="4.4"/>
<rect x="595.7" y="953.4" width="4.4" height="4.4"/>
<rect x="597.1" y="953.2" width="4.4" height="4.4"/>
<rect x="598.5" y="953.3" width="4.4" height="4.4"/>
<rect x="599.9" y="953.4" width="4.4" height="4.4"/>
<rect x="601.4" y="953.4" width="4.4" height="4.4"/>
<rect x="602.8" y="953.5" width="4.4" height="4.4"/>
<rect x="604.2" y="953.5" width="4.4" height="4.4"/>
<rect x="605.6" y="953.5" width="4.4" height="4.4"/>
<rect x="607" y="953.5" width="4.4" height="4.4"/>
<rect x="608.5" y="953.5" width="4.4" height="4.4"/>
<rect x="609.9" y="953.4" width="4.4" height="4.4"/>
<rect x="611.3" y="953.4" width="4.4" height="4.4"/>
<rect x="612.7" y="953.4" width="4.4" height="4.4"/>
<rect x="614.1" y="953.5" width="4.4" height="4.4"/>
<rect x="615.6" y="953.5" width="4.4" height="4.4"/>
<rect x="617" y="953.5" width="4.4" height="4.4"/>
<rect x="618.4" y="953.5" width="4.4" height="4.4"/>
<rect x="619.8" y="953.6" width="4.4" height="4.4"/>
<rect x="621.2" y="953.6" width="4.4" height="4.4"/>
<rect x="622.7" y="953.6" width="4.4" height="4.4"/>
<rect x="624.1" y="953.6" width="4.4" height="4.4"/>
<rect x="625.5" y="953.6" width="4.4" height="4.4"/>
<rect x="626.9" y="953.5" width="4.4" height="4.4"/>
<rect x="628.3" y="953.5" width="4.4" height="4.4"/>
<rect x="629.8" y="953.6" width="4.4" height="4.4"/>
<rect x="631.2" y="953.6" width="4.4" height="4.4"/>
<rect x="632.6" y="953.6" width="4.4" height="4.4"/>
<rect x="634" y="953.6" width="4.4" height="4.4"/>
<rect x="635.4" y="953.6" width="4.4" height="4.4"/>
<rect x="636.9" y="953.6" width="4.4" height="4.4"/>
<rect x="638.3" y="953.7" width="4.4" height="4.4"/>
<rect x="639.7" y="953.7" width="4.4" height="4.4"/>
<rect x="641.1" y="953.6" width="4.4" height="4.4"/>
</g>
<g fill="#fff" fill-opacity="0.85" stroke="#f7ccd7" stroke-width="0.7">
<circle cx="91.9" cy="957" r="2.4"/>
<circle cx="93.3" cy="956.9" r="2.4"/>
<circle cx="94.7" cy="957.1" r="2.4"/>
<circle cx="96.1" cy="957" r="2.4"/>
<circle cx="97.6" cy="957" r="2.4"/>
<circle cx="99" cy="957" r="2.4"/>
<circle cx="100.4" cy="957.1" r="2.4"/>
<circle cx="101.8" cy="957" r="2.4"/>
<circle cx="103.2" cy="957.1" r="2.4"/>
<circle cx="104.7" cy="957" r="2.4"/>
<circle cx="106.1" cy="957.1" r="2.4"/>
<circle cx="107.5" cy="957.1" r="2.4"/>
<circle cx="108.9" cy="957.1" r="2.4"/>
<circle cx="110.3" cy="957.1" r="2.4"/>
<circle cx="111.8" cy="957.1" r="2.4"/>
<circle cx="113.2" cy="957.2" r="2.4"/>
<circle cx="114.6" cy="957.2" r="2.4"/>
<circle cx="116" cy="957.2" r="2.4"/>
<circle cx="117.4" cy="957.2" r="2.4"/>
<circle cx="118.9" cy="957.1" r="2.4"/>
<circle cx="120.3" cy="957.2" r="2.4"/>
<circle cx="121.7" cy="957.1" r="2.4"/>
<circle cx="123.1" cy="957.1" r="2.4"/>
<circle cx="124.5" cy="957.2" r="2.4"/>
<circle cx="126" cy="957.3" r="2.4"/>
<circle cx="127.4" cy="957.3" r="2.4"/>
<circle cx="128.8" cy="957.2" r="2.4"/>
<circle cx="130.2" cy="957.2" r="2.4"/>
<circle cx="131.6" cy="957.1" r="2.4"/>
<circle cx="133.1" cy="957.2" r="2.4"/>
<circle cx="134.5" cy="957.3" r="2.4"/>
<circle cx="135.9" cy="957.1" r="2.4"/>
<circle cx="137.3" cy="957.2" r="2.4"/>
<circle cx="138.7" cy="957.2" r="2.4"/>
<circle cx="140.2" cy="957.2" r="2.4"/>
<circle cx="141.6" cy="957.2" r="2.4"/>
<circle cx="143" cy="957.3" r="2.4"/>
<circle cx="144.4" cy="957.3" r="2.4"/>
<circle cx="145.8" cy="957.2" r="2.4"/>
<circle cx="147.3" cy="957.2" r="2.4"/>
<circle cx="148.7" cy="957.3" r="2.4"/>
<circle cx="150.1" cy="957.2" r="2.4"/>
<circle cx="151.5" cy="957.3" r="2.4"/>
<circle cx="152.9" cy="957.4" r="2.4"/>
<circle cx="154.4" cy="957.3" r="2.4"/>
<circle cx="155.8" cy="957.2" r="2.4"/>
<circle cx="157.2" cy="957.2" r="2.4"/>
<circle cx="158.6" cy="957.3" r="2.4"/>
<circle cx="160" cy="957.2" r="2.4"/>
<circle cx="161.5" cy="957.2" r="2.4"/>
<circle cx="162.9" cy="957.3" r="2.4"/>
<circle cx="164.3" cy="957.3" r="2.4"/>
<circle cx="165.7" cy="957.3" r="2.4"/>
<circle cx="167.1" cy="957.3" r="2.4"/>
<circle cx="168.6" cy="957.3" r="2.4"/>
<circle cx="170" cy="957.3" r="2.4"/>
<circle cx="171.4" cy="957.2" r="2.4"/>
<circle cx="172.8" cy="957.3" r="2.4"/>
<circle cx="174.2" cy="957.2" r="2.4"/>
<circle cx="175.7" cy="957.3" r="2.4"/>
<circle cx="177.1" cy="957.3" r="2.4"/>
<circle cx="178.5" cy="957.2" r="2.4"/>
<circle cx="179.9" cy="957.3" r="2.4"/>
<circle cx="181.3" cy="957.4" r="2.4"/>
<circle cx="182.8" cy="957.1" r="2.4"/>
<circle cx="184.2" cy="957.1" r="2.4"/>
<circle cx="185.6" cy="957.1" r="2.4"/>
<circle cx="187" cy="957" r="2.4"/>
<circle cx="188.4" cy="957" r="2.4"/>
<circle cx="189.9" cy="957" r="2.4"/>
<circle cx="191.3" cy="956.9" r="2.4"/>
<circle cx="192.7" cy="956.7" r="2.4"/>
<circle cx="194.1" cy="956.6" r="2.4"/>
<circle cx="195.5" cy="956.6" r="2.4"/>
<circle cx="197" cy="956.6" r="2.4"/>
<circle cx="198.4" cy="956.5" r="2.4"/>
<circle cx="199.8" cy="956.5" r="2.4"/>
<circle cx="201.2" cy="956.3" r="2.4"/>
<circle cx="202.6" cy="956.1" r="2.4"/>
<circle cx="204.1" cy="955.9" r="2.4"/>
<circle cx="205.5" cy="955.7" r="2.4"/>
<circle cx="206.9" cy="955.5" r="2.4"/>
<circle cx="208.3" cy="955.2" r="2.4"/>
<circle cx="209.7" cy="954.8" r="2.4"/>
<circle cx="211.2" cy="954.4" r="2.4"/>
<circle cx="212.6" cy="954.1" r="2.4"/>
<circle cx="214" cy="954" r="2.4"/>
<circle cx="215.4" cy="953.7" r="2.4"/>
<circle cx="216.8" cy="953.4" r="2.4"/>
<circle cx="218.3" cy="953" r="2.4"/>
<circle cx="219.7" cy="952.7" r="2.4"/>
<circle cx="221.1" cy="952.2" r="2.4"/>
<circle cx="222.5" cy="952" r="2.4"/>
<circle cx="223.9" cy="951.9" r="2.4"/>
<circle cx="225.4" cy="951.5" r="2.4"/>
<circle cx="226.8" cy="951.1" r="2.4"/>
<circle cx="228.2" cy="950.6" r="2.4"/>
<circle cx="229.6" cy="950.2" r="2.4"/>
<circle cx="231" cy="949.8" r="2.4"/>
<circle cx="232.5" cy="949.3" r="2.4"/>
<circle cx="233.9" cy="949.1" r="2.4"/>
<circle cx="235.3" cy="948.5" r="2.4"/>
<circle cx="236.7" cy="948.1" r="2.4"/>
<circle cx="238.1" cy="947.7" r="2.4"/>
<circle cx="239.6" cy="947.1" r="2.4"/>
<circle cx="241" cy="946.8" r="2.4"/>
<circle cx="242.4" cy="946.4" r="2.4"/>
<circle cx="243.8" cy="946" r="2.4"/>
<circle cx="245.2" cy="945.8" r="2.4"/>
<circle cx="246.7" cy="944.9" r="2.4"/>
<circle cx="248.1" cy="944.3" r="2.4"/>
<circle cx="249.5" cy="944" r="2.4"/>
<circle cx="250.9" cy="943.5" r="2.4"/>
<circle cx="252.3" cy="942.7" r="2.4"/>
<circle cx="253.8" cy="941.6" r="2.4"/>
<circle cx="255.2" cy="941.2" r="2.4"/>
<circle cx="256.6" cy="940.9" r="2.4"/>
<circle cx="258" cy="940.5" r="2.4"/>
<circle cx="259.4" cy="939.2" r="2.4"/>
<circle cx="260.9" cy="938.3" r="2.4"/>
<circle cx="262.3" cy="937.8" r="2.4"/>
<circle cx="263.7" cy="936.5" r="2.4"/>
<circle cx="265.1" cy="935.3" r="2.4"/>
<circle cx="266.5" cy="934.2" r="2.4"/>
<circle cx="268" cy="932.3" r="2.4"/>
<circle cx="269.4" cy="928.7" r="2.4"/>
<circle cx="270.8" cy="926.1" r="2.4"/>
<circle cx="272.2" cy="923.8" r="2.4"/>
<circle cx="273.6" cy="921.4" r="2.4"/>
<circle cx="275.1" cy="914.8" r="2.4"/>
<circle cx="276.5" cy="907.4" r="2.4"/>
<circle cx="277.9" cy="902" r="2.4"/>
<circle cx="279.3" cy="892.6" r="2.4"/>
<circle cx="280.7" cy="884.6" r="2.4"/>
<circle cx="282.2" cy="871" r="2.4"/>
<circle cx="283.6" cy="857.8" r="2.4"/>
<circle cx="285" cy="840.5" r="2.4"/>
<circle cx="286.4" cy="819.1" r="2.4"/>
<circle cx="287.8" cy="791.8" r="2.4"/>
<circle cx="289.3" cy="773.5" r="2.4"/>
<circle cx="290.7" cy="754.4" r="2.4"/>
<circle cx="292.1" cy="731.9" r="2.4"/>
<circle cx="293.5" cy="714.2" r="2.4"/>
<circle cx="294.9" cy="698.1" r="2.4"/>
<circle cx="296.4" cy="682.8" r="2.4"/>
<circle cx="297.8" cy="665.7" r="2.4"/>
<circle cx="299.2" cy="652.1" r="2.4"/>
<circle cx="300.6" cy="635.1" r="2.4"/>
<circle cx="302" cy="623.8" r="2.4"/>
<circle cx="303.5" cy="612.4" r="2.4"/>
<circle cx="304.9" cy="602" r="2.4"/>
<circle cx="306.3" cy="595.2" r="2.4"/>
<circle cx="307.7" cy="588.8" r="2.4"/>
<circle cx="309.1" cy="586.1" r="2.4"/>
<circle cx="310.6" cy="585" r="2.4"/>
<circle cx="312" cy="590.9" r="2.4"/>
<circle cx="313.4" cy="603.4" r="2.4"/>
<circle cx="314.8" cy="611.2" r="2.4"/>
<circle cx="316.2" cy="618.5" r="2.4"/>
<circle cx="317.7" cy="629.1" r="2.4"/>
<circle cx="319.1" cy="636.7" r="2.4"/>
<circle cx="320.5" cy="640.4" r="2.4"/>
<circle cx="321.9" cy="649.4" r="2.4"/>
<circle cx="323.3" cy="659.6" r="2.4"/>
<circle cx="324.8" cy="666.4" r="2.4"/>
<circle cx="326.2" cy="673.2" r="2.4"/>
<circle cx="327.6" cy="676.6" r="2.4"/>
<circle cx="329" cy="681.5" r="2.4"/>
<circle cx="330.4" cy="686.7" r="2.4"/>
<circle cx="331.9" cy="690.9" r="2.4"/>
<circle cx="333.3" cy="695.3" r="2.4"/>
<circle cx="334.7" cy="697.9" r="2.4"/>
<circle cx="336.1" cy="701.8" r="2.4"/>
<circle cx="337.5" cy="707.1" r="2.4"/>
<circle cx="339" cy="709.7" r="2.4"/>
<circle cx="340.4" cy="712.3" r="2.4"/>
<circle cx="341.8" cy="717.4" r="2.4"/>
<circle cx="343.2" cy="723" r="2.4"/>
<circle cx="344.6" cy="724.6" r="2.4"/>
<circle cx="346.1" cy="727.4" r="2.4"/>
<circle cx="347.5" cy="732.1" r="2.4"/>
<circle cx="348.9" cy="732.7" r="2.4"/>
<circle cx="350.3" cy="735.1" r="2.4"/>
<circle cx="351.7" cy="739.8" r="2.4"/>
<circle cx="353.2" cy="738.4" r="2.4"/>
<circle cx="354.6" cy="739.2" r="2.4"/>
<circle cx="356" cy="737.9" r="2.4"/>
<circle cx="357.4" cy="736" r="2.4"/>
<circle cx="358.8" cy="737.8" r="2.4"/>
<circle cx="360.3" cy="736.8" r="2.4"/>
<circle cx="361.7" cy="733.3" r="2.4"/>
<circle cx="363.1" cy="731.7" r="2.4"/>
<circle cx="364.5" cy="734.1" r="2.4"/>
<circle cx="365.9" cy="734.2" r="2.4"/>
<circle cx="367.4" cy="738.4" r="2.4"/>
<circle cx="368.8" cy="737.8" r="2.4"/>
<circle cx="370.2" cy="735.4" r="2.4"/>
<circle cx="371.6" cy="733.6" r="2.4"/>
<circle cx="373" cy="729.1" r="2.4"/>
<circle cx="374.5" cy="724.4" r="2.4"/>
<circle cx="375.9" cy="723" r="2.4"/>
<circle cx="377.3" cy="721.6" r="2.4"/>
<circle cx="378.7" cy="716" r="2.4"/>
<circle cx="380.1" cy="715.5" r="2.4"/>
<circle cx="381.6" cy="714.4" r="2.4"/>
<circle cx="383" cy="716.9" r="2.4"/>
<circle cx="384.4" cy="714" r="2.4"/>
<circle cx="385.8" cy="714.4" r="2.4"/>
<circle cx="387.2" cy="721" r="2.4"/>
<circle cx="388.7" cy="723.4" r="2.4"/>
<circle cx="390.1" cy="720.2" r="2.4"/>
<circle cx="391.5" cy="718.2" r="2.4"/>
<circle cx="392.9" cy="715.7" r="2.4"/>
<circle cx="394.3" cy="716" r="2.4"/>
<circle cx="395.8" cy="716.4" r="2.4"/>
<circle cx="397.2" cy="713" r="2.4"/>
<circle cx="398.6" cy="708.8" r="2.4"/>
<circle cx="400" cy="703" r="2.4"/>
<circle cx="401.4" cy="700.4" r="2.4"/>
<circle cx="402.9" cy="696.7" r="2.4"/>
<circle cx="404.3" cy="689.3" r="2.4"/>
<circle cx="405.7" cy="679.5" r="2.4"/>
<circle cx="407.1" cy="673.1" r="2.4"/>
<circle cx="408.5" cy="664.9" r="2.4"/>
<circle cx="410" cy="657.9" r="2.4"/>
<circle cx="411.4" cy="653.5" r="2.4"/>
<circle cx="412.8" cy="649.4" r="2.4"/>
<circle cx="414.2" cy="639.2" r="2.4"/>
<circle cx="415.6" cy="629.5" r="2.4"/>
<circle cx="417.1" cy="621.3" r="2.4"/>
<circle cx="418.5" cy="613.7" r="2.4"/>
<circle cx="419.9" cy="604.9" r="2.4"/>
<circle cx="421.3" cy="602.3" r="2.4"/>
<circle cx="422.7" cy="598" r="2.4"/>
<circle cx="424.2" cy="598.1" r="2.4"/>
<circle cx="425.6" cy="600.5" r="2.4"/>
<circle cx="427" cy="599" r="2.4"/>
<circle cx="428.4" cy="597.9" r="2.4"/>
<circle cx="429.8" cy="604.5" r="2.4"/>
<circle cx="431.3" cy="617.9" r="2.4"/>
<circle cx="432.7" cy="633.4" r="2.4"/>
<circle cx="434.1" cy="648.7" r="2.4"/>
<circle cx="435.5" cy="660.8" r="2.4"/>
<circle cx="436.9" cy="677.5" r="2.4"/>
<circle cx="438.4" cy="695.1" r="2.4"/>
<circle cx="439.8" cy="712" r="2.4"/>
<circle cx="441.2" cy="725.9" r="2.4"/>
<circle cx="442.6" cy="746.2" r="2.4"/>
<circle cx="444" cy="770.7" r="2.4"/>
<circle cx="445.5" cy="792.8" r="2.4"/>
<circle cx="446.9" cy="812.5" r="2.4"/>
<circle cx="448.3" cy="831.2" r="2.4"/>
<circle cx="449.7" cy="844.3" r="2.4"/>
<circle cx="451.1" cy="861.1" r="2.4"/>
<circle cx="452.6" cy="874" r="2.4"/>
<circle cx="454" cy="888.5" r="2.4"/>
<circle cx="455.4" cy="902.8" r="2.4"/>
<circle cx="456.8" cy="910.5" r="2.4"/>
<circle cx="458.2" cy="916.3" r="2.4"/>
<circle cx="459.7" cy="924.6" r="2.4"/>
<circle cx="461.1" cy="927.1" r="2.4"/>
<circle cx="462.5" cy="929.9" r="2.4"/>
<circle cx="463.9" cy="933.1" r="2.4"/>
<circle cx="465.3" cy="936.6" r="2.4"/>
<circle cx="466.8" cy="938.5" r="2.4"/>
<circle cx="468.2" cy="938.8" r="2.4"/>
<circle cx="469.6" cy="939.3" r="2.4"/>
<circle cx="471" cy="940.1" r="2.4"/>
<circle cx="472.4" cy="940.8" r="2.4"/>
<circle cx="473.9" cy="942.2" r="2.4"/>
<circle cx="475.3" cy="943.5" r="2.4"/>
<circle cx="476.7" cy="943.4" r="2.4"/>
<circle cx="478.1" cy="943.7" r="2.4"/>
<circle cx="479.5" cy="944.2" r="2.4"/>
<circle cx="481" cy="944.6" r="2.4"/>
<circle cx="482.4" cy="944.9" r="2.4"/>
<circle cx="483.8" cy="945.3" r="2.4"/>
<circle cx="485.2" cy="945.8" r="2.4"/>
<circle cx="486.6" cy="946.6" r="2.4"/>
<circle cx="488.1" cy="946.9" r="2.4"/>
<circle cx="489.5" cy="947" r="2.4"/>
<circle cx="490.9" cy="947.2" r="2.4"/>
<circle cx="492.3" cy="947.7" r="2.4"/>
<circle cx="493.7" cy="948.1" r="2.4"/>
<circle cx="495.2" cy="948.2" r="2.4"/>
<circle cx="496.6" cy="948.6" r="2.4"/>
<circle cx="498" cy="949.1" r="2.4"/>
<circle cx="499.4" cy="949.3" r="2.4"/>
<circle cx="500.8" cy="949.7" r="2.4"/>
<circle cx="502.3" cy="950.1" r="2.4"/>
<circle cx="503.7" cy="950.5" r="2.4"/>
<circle cx="505.1" cy="950.8" r="2.4"/>
<circle cx="506.5" cy="951.4" r="2.4"/>
<circle cx="507.9" cy="951.7" r="2.4"/>
<circle cx="509.4" cy="952" r="2.4"/>
<circle cx="510.8" cy="952.4" r="2.4"/>
<circle cx="512.2" cy="952.8" r="2.4"/>
<circle cx="513.6" cy="953" r="2.4"/>
<circle cx="515" cy="953.1" r="2.4"/>
<circle cx="516.5" cy="953.5" r="2.4"/>
<circle cx="517.9" cy="954" r="2.4"/>
<circle cx="519.3" cy="954.3" r="2.4"/>
<circle cx="520.7" cy="954.5" r="2.4"/>
<circle cx="522.1" cy="954.6" r="2.4"/>
<circle cx="523.6" cy="954.7" r="2.4"/>
<circle cx="525" cy="954.9" r="2.4"/>
<circle cx="526.4" cy="955" r="2.4"/>
<circle cx="527.8" cy="955.1" r="2.4"/>
<circle cx="529.2" cy="955.2" r="2.4"/>
<circle cx="530.7" cy="955.5" r="2.4"/>
<circle cx="532.1" cy="955.6" r="2.4"/>
<circle cx="533.5" cy="955.7" r="2.4"/>
<circle cx="534.9" cy="955.8" r="2.4"/>
<circle cx="536.3" cy="955.9" r="2.4"/>
<circle cx="537.8" cy="956.1" r="2.4"/>
<circle cx="539.2" cy="956.3" r="2.4"/>
<circle cx="540.6" cy="956.4" r="2.4"/>
<circle cx="542" cy="956.4" r="2.4"/>
<circle cx="543.4" cy="956.5" r="2.4"/>
<circle cx="544.9" cy="956.5" r="2.4"/>
<circle cx="546.3" cy="956.5" r="2.4"/>
<circle cx="547.7" cy="956.6" r="2.4"/>
<circle cx="549.1" cy="956.7" r="2.4"/>
<circle cx="550.5" cy="956.8" r="2.4"/>
<circle cx="552" cy="956.9" r="2.4"/>
<circle cx="553.4" cy="956.9" r="2.4"/>
<circle cx="554.8" cy="957" r="2.4"/>
<circle cx="556.2" cy="957.1" r="2.4"/>
<circle cx="557.6" cy="957.2" r="2.4"/>
<circle cx="559.1" cy="957.3" r="2.4"/>
<circle cx="560.5" cy="957.4" r="2.4"/>
<circle cx="561.9" cy="957.4" r="2.4"/>
<circle cx="563.3" cy="957.4" r="2.4"/>
<circle cx="564.7" cy="957.3" r="2.4"/>
<circle cx="566.2" cy="957.2" r="2.4"/>
<circle cx="567.6" cy="957.3" r="2.4"/>
<circle cx="569" cy="957.4" r="2.4"/>
<circle cx="570.4" cy="957.2" r="2.4"/>
<circle cx="571.8" cy="957.3" r="2.4"/>
<circle cx="573.3" cy="957.3" r="2.4"/>
<circle cx="574.7" cy="957.4" r="2.4"/>
<circle cx="576.1" cy="957.4" r="2.4"/>
<circle cx="577.5" cy="957.3" r="2.4"/>
<circle cx="578.9" cy="957.3" r="2.4"/>
<circle cx="580.4" cy="957.3" r="2.4"/>
<circle cx="581.8" cy="957.5" r="2.4"/>
<circle cx="583.2" cy="957.4" r="2.4"/>
<circle cx="584.6" cy="957.3" r="2.4"/>
<circle cx="586" cy="957.3" r="2.4"/>
<circle cx="587.5" cy="957.4" r="2.4"/>
<circle cx="588.9" cy="957.3" r="2.4"/>
<circle cx="590.3" cy="957.3" r="2.4"/>
<circle cx="591.7" cy="957.4" r="2.4"/>
<circle cx="593.1" cy="957.4" r="2.4"/>
<circle cx="594.6" cy="957.4" r="2.4"/>
<circle cx="596" cy="957.4" r="2.4"/>
<circle cx="597.4" cy="957.4" r="2.4"/>
<circle cx="598.8" cy="957.5" r="2.4"/>
<circle cx="600.2" cy="957.5" r="2.4"/>
<circle cx="601.7" cy="957.3" r="2.4"/>
<circle cx="603.1" cy="957.3" r="2.4"/>
<circle cx="604.5" cy="957.4" r="2.4"/>
<circle cx="605.9" cy="957.4" r="2.4"/>
<circle cx="607.3" cy="957.4" r="2.4"/>
<circle cx="608.8" cy="957.4" r="2.4"/>
<circle cx="610.2" cy="957.4" r="2.4"/>
<circle cx="611.6" cy="957.4" r="2.4"/>
<circle cx="613" cy="957.5" r="2.4"/>
<circle cx="614.4" cy="957.6" r="2.4"/>
<circle cx="615.9" cy="957.6" r="2.4"/>
<circle cx="617.3" cy="957.4" r="2.4"/>
<circle cx="618.7" cy="957.4" r="2.4"/>
<circle cx="620.1" cy="957.4" r="2.4"/>
<circle cx="621.5" cy="957.4" r="2.4"/>
<circle cx="623" cy="957.5" r="2.4"/>
<circle cx="624.4" cy="957.6" r="2.4"/>
<circle cx="625.8" cy="957.5" r="2.4"/>
<circle cx="627.2" cy="957.5" r="2.4"/>
<circle cx="628.6" cy="957.5" r="2.4"/>
<circle cx="630.1" cy="957.5" r="2.4"/>
<circle cx="631.5" cy="957.5" r="2.4"/>
<circle cx="632.9" cy="957.5" r="2.4"/>
<circle cx="634.3" cy="957.5" r="2.4"/>
<circle cx="635.7" cy="957.4" r="2.4"/>
<circle cx="637.2" cy="957.5" r="2.4"/>
<circle cx="638.6" cy="957.6" r="2.4"/>
<circle cx="640" cy="957.6" r="2.4"/>
<circle cx="641.4" cy="957.6" r="2.4"/>
<circle cx="642.8" cy="957.6" r="2.4"/>
</g>
<g fill="#fff" fill-opacity="0.62" stroke="#cb7690" stroke-width="0.85">
<path d="M87.6 958L91.4 952.2L95.2 958Z"/>
<path d="M89 957.9L92.8 952.1L96.6 957.9Z"/>
<path d="M90.4 957.9L94.2 952.1L98 957.9Z"/>
<path d="M91.9 958L95.7 952.2L99.5 958Z"/>
<path d="M93.3 958L97.1 952.2L100.9 958Z"/>
<path d="M94.7 957.9L98.5 952.1L102.3 957.9Z"/>
<path d="M96.1 957.9L99.9 952.1L103.7 957.9Z"/>
<path d="M97.5 957.8L101.3 952L105.1 957.8Z"/>
<path d="M99 957.9L102.8 952.1L106.6 957.9Z"/>
<path d="M100.4 958.1L104.2 952.3L108 958.1Z"/>
<path d="M101.8 958L105.6 952.2L109.4 958Z"/>
<path d="M103.2 958L107 952.2L110.8 958Z"/>
<path d="M104.6 958L108.4 952.2L112.2 958Z"/>
<path d="M106.1 958L109.9 952.2L113.7 958Z"/>
<path d="M107.5 957.9L111.3 952.1L115.1 957.9Z"/>
<path d="M108.9 957.9L112.7 952.1L116.5 957.9Z"/>
<path d="M110.3 958.1L114.1 952.3L117.9 958.1Z"/>
<path d="M111.7 958.1L115.5 952.3L119.3 958.1Z"/>
<path d="M113.2 957.9L117 952.1L120.8 957.9Z"/>
<path d="M114.6 957.9L118.4 952.1L122.2 957.9Z"/>
<path d="M116 958L119.8 952.2L123.6 958Z"/>
<path d="M117.4 958.1L121.2 952.3L125 958.1Z"/>
<path d="M118.8 958.1L122.6 952.3L126.4 958.1Z"/>
<path d="M120.3 958.1L124.1 952.3L127.9 958.1Z"/>
<path d="M121.7 958.1L125.5 952.3L129.3 958.1Z"/>
<path d="M123.1 958L126.9 952.2L130.7 958Z"/>
<path d="M124.5 958.1L128.3 952.3L132.1 958.1Z"/>
<path d="M125.9 958.2L129.7 952.4L133.5 958.2Z"/>
<path d="M127.4 958.1L131.2 952.3L135 958.1Z"/>
<path d="M128.8 958.1L132.6 952.3L136.4 958.1Z"/>
<path d="M130.2 958.2L134 952.4L137.8 958.2Z"/>
<path d="M131.6 958.2L135.4 952.4L139.2 958.2Z"/>
<path d="M133 958.2L136.8 952.4L140.6 958.2Z"/>
<path d="M134.5 958.3L138.3 952.5L142.1 958.3Z"/>
<path d="M135.9 958.1L139.7 952.3L143.5 958.1Z"/>
<path d="M137.3 958L141.1 952.2L144.9 958Z"/>
<path d="M138.7 958L142.5 952.2L146.3 958Z"/>
<path d="M140.1 958.1L143.9 952.3L147.7 958.1Z"/>
<path d="M141.6 958.2L145.4 952.4L149.2 958.2Z"/>
<path d="M143 958.2L146.8 952.4L150.6 958.2Z"/>
<path d="M144.4 958.2L148.2 952.4L152 958.2Z"/>
<path d="M145.8 958.3L149.6 952.5L153.4 958.3Z"/>
<path d="M147.2 958.3L151 952.5L154.8 958.3Z"/>
<path d="M148.7 958.2L152.5 952.4L156.3 958.2Z"/>
<path d="M150.1 958.2L153.9 952.4L157.7 958.2Z"/>
<path d="M151.5 958.2L155.3 952.4L159.1 958.2Z"/>
<path d="M152.9 958.3L156.7 952.5L160.5 958.3Z"/>
<path d="M154.3 958.2L158.1 952.4L161.9 958.2Z"/>
<path d="M155.8 958.2L159.6 952.4L163.4 958.2Z"/>
<path d="M157.2 958.2L161 952.4L164.8 958.2Z"/>
<path d="M158.6 958.2L162.4 952.4L166.2 958.2Z"/>
<path d="M160 958.2L163.8 952.4L167.6 958.2Z"/>
<path d="M161.4 958.2L165.2 952.4L169 958.2Z"/>
<path d="M162.9 958.2L166.7 952.4L170.5 958.2Z"/>
<path d="M164.3 958.1L168.1 952.3L171.9 958.1Z"/>
<path d="M165.7 958.1L169.5 952.3L173.3 958.1Z"/>
<path d="M167.1 958.2L170.9 952.4L174.7 958.2Z"/>
<path d="M168.5 958.1L172.3 952.3L176.1 958.1Z"/>
<path d="M170 958.2L173.8 952.4L177.6 958.2Z"/>
<path d="M171.4 958.3L175.2 952.5L179 958.3Z"/>
<path d="M172.8 958.2L176.6 952.4L180.4 958.2Z"/>
<path d="M174.2 958.2L178 952.4L181.8 958.2Z"/>
<path d="M175.6 958.2L179.4 952.4L183.2 958.2Z"/>
<path d="M177.1 958.1L180.9 952.3L184.7 958.1Z"/>
<path d="M178.5 958.1L182.3 952.3L186.1 958.1Z"/>
<path d="M179.9 958.1L183.7 952.3L187.5 958.1Z"/>
<path d="M181.3 958.1L185.1 952.3L188.9 958.1Z"/>
<path d="M182.7 958.1L186.5 952.3L190.3 958.1Z"/>
<path d="M184.2 957.8L188 952L191.8 957.8Z"/>
<path d="M185.6 957.8L189.4 952L193.2 957.8Z"/>
<path d="M187 957.8L190.8 952L194.6 957.8Z"/>
<path d="M188.4 957.7L192.2 951.9L196 957.7Z"/>
<path d="M189.8 957.6L193.6 951.8L197.4 957.6Z"/>
<path d="M191.3 957.6L195.1 951.8L198.9 957.6Z"/>
<path d="M192.7 957.5L196.5 951.7L200.3 957.5Z"/>
<path d="M194.1 957.3L197.9 951.5L201.7 957.3Z"/>
<path d="M195.5 957.3L199.3 951.5L203.1 957.3Z"/>
<path d="M196.9 957.2L200.7 951.4L204.5 957.2Z"/>
<path d="M198.4 957.1L202.2 951.3L206 957.1Z"/>
<path d="M199.8 956.7L203.6 950.9L207.4 956.7Z"/>
<path d="M201.2 956.5L205 950.7L208.8 956.5Z"/>
<path d="M202.6 956.3L206.4 950.5L210.2 956.3Z"/>
<path d="M204 956.1L207.8 950.3L211.6 956.1Z"/>
<path d="M205.5 955.8L209.3 950L213.1 955.8Z"/>
<path d="M206.9 955.3L210.7 949.5L214.5 955.3Z"/>
<path d="M208.3 955L212.1 949.2L215.9 955Z"/>
<path d="M209.7 955L213.5 949.2L217.3 955Z"/>
<path d="M211.1 954.6L214.9 948.8L218.7 954.6Z"/>
<path d="M212.6 954.2L216.4 948.4L220.2 954.2Z"/>
<path d="M214 953.9L217.8 948.1L221.6 953.9Z"/>
<path d="M215.4 953.7L219.2 947.9L223 953.7Z"/>
<path d="M216.8 953.4L220.6 947.6L224.4 953.4Z"/>
<path d="M218.2 953.1L222 947.3L225.8 953.1Z"/>
<path d="M219.7 952.9L223.5 947.1L227.3 952.9Z"/>
<path d="M221.1 952.3L224.9 946.5L228.7 952.3Z"/>
<path d="M222.5 951.8L226.3 946L230.1 951.8Z"/>
<path d="M223.9 951.2L227.7 945.4L231.5 951.2Z"/>
<path d="M225.3 951L229.1 945.2L232.9 951Z"/>
<path d="M226.8 950.6L230.6 944.8L234.4 950.6Z"/>
<path d="M228.2 950.4L232 944.6L235.8 950.4Z"/>
<path d="M229.6 949.7L233.4 943.9L237.2 949.7Z"/>
<path d="M231 949.5L234.8 943.7L238.6 949.5Z"/>
<path d="M232.4 948.7L236.2 942.9L240 948.7Z"/>
<path d="M233.9 948.1L237.7 942.3L241.5 948.1Z"/>
<path d="M235.3 948L239.1 942.2L242.9 948Z"/>
<path d="M236.7 947.6L240.5 941.8L244.3 947.6Z"/>
<path d="M238.1 946.9L241.9 941.1L245.7 946.9Z"/>
<path d="M239.5 946.2L243.3 940.4L247.1 946.2Z"/>
<path d="M241 945.7L244.8 939.9L248.6 945.7Z"/>
<path d="M242.4 945.5L246.2 939.7L250 945.5Z"/>
<path d="M243.8 945.1L247.6 939.3L251.4 945.1Z"/>
<path d="M245.2 944.1L249 938.3L252.8 944.1Z"/>
<path d="M246.6 944L250.4 938.2L254.2 944Z"/>
<path d="M248.1 943.7L251.9 937.9L255.7 943.7Z"/>
<path d="M249.5 942.5L253.3 936.7L257.1 942.5Z"/>
<path d="M250.9 942.3L254.7 936.5L258.5 942.3Z"/>
<path d="M252.3 941.8L256.1 936L259.9 941.8Z"/>
<path d="M253.7 941L257.5 935.2L261.3 941Z"/>
<path d="M255.2 940L259 934.2L262.8 940Z"/>
<path d="M256.6 938.8L260.4 933L264.2 938.8Z"/>
<path d="M258 938.2L261.8 932.4L265.6 938.2Z"/>
<path d="M259.4 937.5L263.2 931.7L267 937.5Z"/>
<path d="M260.8 935.9L264.6 930.1L268.4 935.9Z"/>
<path d="M262.3 934.2L266.1 928.4L269.9 934.2Z"/>
<path d="M263.7 932.1L267.5 926.3L271.3 932.1Z"/>
<path d="M265.1 931L268.9 925.2L272.7 931Z"/>
<path d="M266.5 928.6L270.3 922.8L274.1 928.6Z"/>
<path d="M267.9 924.9L271.7 919.1L275.5 924.9Z"/>
<path d="M269.4 921.7L273.2 915.9L277 921.7Z"/>
<path d="M270.8 915.8L274.6 910L278.4 915.8Z"/>
<path d="M272.2 909.9L276 904.1L279.8 909.9Z"/>
<path d="M273.6 902.2L277.4 896.4L281.2 902.2Z"/>
<path d="M275 891.8L278.8 886L282.6 891.8Z"/>
<path d="M276.5 879.8L280.3 874L284.1 879.8Z"/>
<path d="M277.9 868.9L281.7 863.1L285.5 868.9Z"/>
<path d="M279.3 856.2L283.1 850.4L286.9 856.2Z"/>
<path d="M280.7 842.1L284.5 836.3L288.3 842.1Z"/>
<path d="M282.1 820.6L285.9 814.8L289.7 820.6Z"/>
<path d="M283.6 790.1L287.4 784.3L291.2 790.1Z"/>
<path d="M285 768.6L288.8 762.8L292.6 768.6Z"/>
<path d="M286.4 750L290.2 744.2L294 750Z"/>
<path d="M287.8 734.9L291.6 729.1L295.4 734.9Z"/>
<path d="M289.2 715.2L293 709.4L296.8 715.2Z"/>
<path d="M290.7 694L294.5 688.2L298.3 694Z"/>
<path d="M292.1 677.4L295.9 671.6L299.7 677.4Z"/>
<path d="M293.5 664.5L297.3 658.7L301.1 664.5Z"/>
<path d="M294.9 649.9L298.7 644.1L302.5 649.9Z"/>
<path d="M296.3 634.7L300.1 628.9L303.9 634.7Z"/>
<path d="M297.8 624.2L301.6 618.4L305.4 624.2Z"/>
<path d="M299.2 613.9L303 608.1L306.8 613.9Z"/>
<path d="M300.6 602.2L304.4 596.4L308.2 602.2Z"/>
<path d="M302 594L305.8 588.2L309.6 594Z"/>
<path d="M303.4 586.1L307.2 580.3L311 586.1Z"/>
<path d="M304.9 581L308.7 575.2L312.5 581Z"/>
<path d="M306.3 584.6L310.1 578.8L313.9 584.6Z"/>
<path d="M307.7 594.1L311.5 588.3L315.3 594.1Z"/>
<path d="M309.1 603.5L312.9 597.7L316.7 603.5Z"/>
<path d="M310.5 611.2L314.3 605.4L318.1 611.2Z"/>
<path d="M312 619.5L315.8 613.7L319.6 619.5Z"/>
<path d="M313.4 627.1L317.2 621.3L321 627.1Z"/>
<path d="M314.8 635.3L318.6 629.5L322.4 635.3Z"/>
<path d="M316.2 644.7L320 638.9L323.8 644.7Z"/>
<path d="M317.6 652.2L321.4 646.4L325.2 652.2Z"/>
<path d="M319.1 657L322.9 651.2L326.7 657Z"/>
<path d="M320.5 665.7L324.3 659.9L328.1 665.7Z"/>
<path d="M321.9 671.1L325.7 665.3L329.5 671.1Z"/>
<path d="M323.3 674.8L327.1 669L330.9 674.8Z"/>
<path d="M324.7 680.9L328.5 675.1L332.3 680.9Z"/>
<path d="M326.2 684.6L330 678.8L333.8 684.6Z"/>
<path d="M327.6 687.1L331.4 681.3L335.2 687.1Z"/>
<path d="M329 688.2L332.8 682.4L336.6 688.2Z"/>
<path d="M330.4 691.7L334.2 685.9L338 691.7Z"/>
<path d="M331.8 698.3L335.6 692.5L339.4 698.3Z"/>
<path d="M333.3 703.7L337.1 697.9L340.9 703.7Z"/>
<path d="M334.7 703L338.5 697.2L342.3 703Z"/>
<path d="M336.1 704.9L339.9 699.1L343.7 704.9Z"/>
<path d="M337.5 713L341.3 707.2L345.1 713Z"/>
<path d="M338.9 717.7L342.7 711.9L346.5 717.7Z"/>
<path d="M340.4 721.5L344.2 715.7L348 721.5Z"/>
<path d="M341.8 723.5L345.6 717.7L349.4 723.5Z"/>
<path d="M343.2 728.4L347 722.6L350.8 728.4Z"/>
<path d="M344.6 730L348.4 724.2L352.2 730Z"/>
<path d="M346 730L349.8 724.2L353.6 730Z"/>
<path d="M347.5 732.2L351.3 726.4L355.1 732.2Z"/>
<path d="M348.9 734.2L352.7 728.4L356.5 734.2Z"/>
<path d="M350.3 733.8L354.1 728L357.9 733.8Z"/>
<path d="M351.7 733.8L355.5 728L359.3 733.8Z"/>
<path d="M353.1 731L356.9 725.2L360.7 731Z"/>
<path d="M354.6 730.1L358.4 724.3L362.2 730.1Z"/>
<path d="M356 727.9L359.8 722.1L363.6 727.9Z"/>
<path d="M357.4 729.2L361.2 723.4L365 729.2Z"/>
<path d="M358.8 729.7L362.6 723.9L366.4 729.7Z"/>
<path d="M360.2 727.8L364 722L367.8 727.8Z"/>
<path d="M361.7 731.1L365.5 725.3L369.3 731.1Z"/>
<path d="M363.1 734.2L366.9 728.4L370.7 734.2Z"/>
<path d="M364.5 731.8L368.3 726L372.1 731.8Z"/>
<path d="M365.9 732L369.7 726.2L373.5 732Z"/>
<path d="M367.3 729L371.1 723.2L374.9 729Z"/>
<path d="M368.8 723.4L372.6 717.6L376.4 723.4Z"/>
<path d="M370.2 721.6L374 715.8L377.8 721.6Z"/>
<path d="M371.6 719.7L375.4 713.9L379.2 719.7Z"/>
<path d="M373 716.7L376.8 710.9L380.6 716.7Z"/>
<path d="M374.4 717.4L378.2 711.6L382 717.4Z"/>
<path d="M375.9 715L379.7 709.2L383.5 715Z"/>
<path d="M377.3 710.9L381.1 705.1L384.9 710.9Z"/>
<path d="M378.7 708.8L382.5 703L386.3 708.8Z"/>
<path d="M380.1 710.5L383.9 704.7L387.7 710.5Z"/>
<path d="M381.5 713.5L385.3 707.7L389.1 713.5Z"/>
<path d="M383 716.9L386.8 711.1L390.6 716.9Z"/>
<path d="M384.4 717.5L388.2 711.7L392 717.5Z"/>
<path d="M385.8 719.5L389.6 713.7L393.4 719.5Z"/>
<path d="M387.2 719.6L391 713.8L394.8 719.6Z"/>
<path d="M388.6 713.1L392.4 707.3L396.2 713.1Z"/>
<path d="M390.1 711.7L393.9 705.9L397.7 711.7Z"/>
<path d="M391.5 712.7L395.3 706.9L399.1 712.7Z"/>
<path d="M392.9 708.7L396.7 702.9L400.5 708.7Z"/>
<path d="M394.3 703.8L398.1 698L401.9 703.8Z"/>
<path d="M395.7 700.8L399.5 695L403.3 700.8Z"/>
<path d="M397.2 698.1L401 692.3L404.8 698.1Z"/>
<path d="M398.6 693.4L402.4 687.6L406.2 693.4Z"/>
<path d="M400 685.8L403.8 680L407.6 685.8Z"/>
<path d="M401.4 680.2L405.2 674.4L409 680.2Z"/>
<path d="M402.8 674.1L406.6 668.3L410.4 674.1Z"/>
<path d="M404.3 667L408.1 661.2L411.9 667Z"/>
<path d="M405.7 657.9L409.5 652.1L413.3 657.9Z"/>
<path d="M407.1 648.1L410.9 642.3L414.7 648.1Z"/>
<path d="M408.5 641.9L412.3 636.1L416.1 641.9Z"/>
<path d="M409.9 638.2L413.7 632.4L417.5 638.2Z"/>
<path d="M411.4 629.6L415.2 623.8L419 629.6Z"/>
<path d="M412.8 621.7L416.6 615.9L420.4 621.7Z"/>
<path d="M414.2 614.2L418 608.4L421.8 614.2Z"/>
<path d="M415.6 608.6L419.4 602.8L423.2 608.6Z"/>
<path d="M417 604.2L420.8 598.4L424.6 604.2Z"/>
<path d="M418.5 598.6L422.3 592.8L426.1 598.6Z"/>
<path d="M419.9 600.7L423.7 594.9L427.5 600.7Z"/>
<path d="M421.3 598.8L425.1 593L428.9 598.8Z"/>
<path d="M422.7 595.5L426.5 589.7L430.3 595.5Z"/>
<path d="M424.1 596.3L427.9 590.5L431.7 596.3Z"/>
<path d="M425.6 604.2L429.4 598.4L433.2 604.2Z"/>
<path d="M427 622L430.8 616.2L434.6 622Z"/>
<path d="M428.4 636L432.2 630.2L436 636Z"/>
<path d="M429.8 648.3L433.6 642.5L437.4 648.3Z"/>
<path d="M431.2 661.2L435 655.4L438.8 661.2Z"/>
<path d="M432.7 680.3L436.5 674.5L440.3 680.3Z"/>
<path d="M434.1 698.5L437.9 692.7L441.7 698.5Z"/>
<path d="M435.5 714.7L439.3 708.9L443.1 714.7Z"/>
<path d="M436.9 729.4L440.7 723.6L444.5 729.4Z"/>
<path d="M438.3 749.8L442.1 744L445.9 749.8Z"/>
<path d="M439.8 776L443.6 770.2L447.4 776Z"/>
<path d="M441.2 797.7L445 791.9L448.8 797.7Z"/>
<path d="M442.6 812.9L446.4 807.1L450.2 812.9Z"/>
<path d="M444 829.2L447.8 823.4L451.6 829.2Z"/>
<path d="M445.4 847.8L449.2 842L453 847.8Z"/>
<path d="M446.9 862.7L450.7 856.9L454.5 862.7Z"/>
<path d="M448.3 874.9L452.1 869.1L455.9 874.9Z"/>
<path d="M449.7 888.5L453.5 882.7L457.3 888.5Z"/>
<path d="M451.1 900.6L454.9 894.8L458.7 900.6Z"/>
<path d="M452.5 908.7L456.3 902.9L460.1 908.7Z"/>
<path d="M454 918.6L457.8 912.8L461.6 918.6Z"/>
<path d="M455.4 925.7L459.2 919.9L463 925.7Z"/>
<path d="M456.8 927.2L460.6 921.4L464.4 927.2Z"/>
<path d="M458.2 930.7L462 924.9L465.8 930.7Z"/>
<path d="M459.6 933.7L463.4 927.9L467.2 933.7Z"/>
<path d="M461.1 936.8L464.9 931L468.7 936.8Z"/>
<path d="M462.5 938.7L466.3 932.9L470.1 938.7Z"/>
<path d="M463.9 939.8L467.7 934L471.5 939.8Z"/>
<path d="M465.3 940.5L469.1 934.7L472.9 940.5Z"/>
<path d="M466.7 941.4L470.5 935.6L474.3 941.4Z"/>
<path d="M468.2 942.9L472 937.1L475.8 942.9Z"/>
<path d="M469.6 944L473.4 938.2L477.2 944Z"/>
<path d="M471 944.1L474.8 938.3L478.6 944.1Z"/>
<path d="M472.4 944.4L476.2 938.6L480 944.4Z"/>
<path d="M473.8 944.9L477.6 939.1L481.4 944.9Z"/>
<path d="M475.3 945.2L479.1 939.4L482.9 945.2Z"/>
<path d="M476.7 945.7L480.5 939.9L484.3 945.7Z"/>
<path d="M478.1 946.3L481.9 940.5L485.7 946.3Z"/>
<path d="M479.5 946.6L483.3 940.8L487.1 946.6Z"/>
<path d="M480.9 946.8L484.7 941L488.5 946.8Z"/>
<path d="M482.4 947.1L486.2 941.3L490 947.1Z"/>
<path d="M483.8 947.4L487.6 941.6L491.4 947.4Z"/>
<path d="M485.2 948L489 942.2L492.8 948Z"/>
<path d="M486.6 948.1L490.4 942.3L494.2 948.1Z"/>
<path d="M488 948.3L491.8 942.5L495.6 948.3Z"/>
<path d="M489.5 948.8L493.3 943L497.1 948.8Z"/>
<path d="M490.9 949.4L494.7 943.6L498.5 949.4Z"/>
<path d="M492.3 949.9L496.1 944.1L499.9 949.9Z"/>
<path d="M493.7 950.1L497.5 944.3L501.3 950.1Z"/>
<path d="M495.1 950.4L498.9 944.6L502.7 950.4Z"/>
<path d="M496.6 951.1L500.4 945.3L504.2 951.1Z"/>
<path d="M498 951.3L501.8 945.5L505.6 951.3Z"/>
<path d="M499.4 951.7L503.2 945.9L507 951.7Z"/>
<path d="M500.8 952L504.6 946.2L508.4 952Z"/>
<path d="M502.2 952.2L506 946.4L509.8 952.2Z"/>
<path d="M503.7 952.4L507.5 946.6L511.3 952.4Z"/>
<path d="M505.1 952.8L508.9 947L512.7 952.8Z"/>
<path d="M506.5 953.1L510.3 947.3L514.1 953.1Z"/>
<path d="M507.9 953.4L511.7 947.6L515.5 953.4Z"/>
<path d="M509.3 953.9L513.1 948.1L516.9 953.9Z"/>
<path d="M510.8 954.3L514.6 948.5L518.4 954.3Z"/>
<path d="M512.2 954.7L516 948.9L519.8 954.7Z"/>
<path d="M513.6 955L517.4 949.2L521.2 955Z"/>
<path d="M515 954.9L518.8 949.1L522.6 954.9Z"/>
<path d="M516.4 955.2L520.2 949.4L524 955.2Z"/>
<path d="M517.9 955.2L521.7 949.4L525.5 955.2Z"/>
<path d="M519.3 955.3L523.1 949.5L526.9 955.3Z"/>
<path d="M520.7 955.6L524.5 949.8L528.3 955.6Z"/>
<path d="M522.1 955.7L525.9 949.9L529.7 955.7Z"/>
<path d="M523.5 955.7L527.3 949.9L531.1 955.7Z"/>
<path d="M525 956L528.8 950.2L532.6 956Z"/>
<path d="M526.4 956.3L530.2 950.5L534 956.3Z"/>
<path d="M527.8 956.6L531.6 950.8L535.4 956.6Z"/>
<path d="M529.2 956.7L533 950.9L536.8 956.7Z"/>
<path d="M530.6 956.7L534.4 950.9L538.2 956.7Z"/>
<path d="M532.1 956.7L535.9 950.9L539.7 956.7Z"/>
<path d="M533.5 956.9L537.3 951.1L541.1 956.9Z"/>
<path d="M534.9 957.2L538.7 951.4L542.5 957.2Z"/>
<path d="M536.3 957.3L540.1 951.5L543.9 957.3Z"/>
<path d="M537.7 957.4L541.5 951.6L545.3 957.4Z"/>
<path d="M539.2 957.4L543 951.6L546.8 957.4Z"/>
<path d="M540.6 957.5L544.4 951.7L548.2 957.5Z"/>
<path d="M542 957.5L545.8 951.7L549.6 957.5Z"/>
<path d="M543.4 957.5L547.2 951.7L551 957.5Z"/>
<path d="M544.8 957.7L548.6 951.9L552.4 957.7Z"/>
<path d="M546.3 957.8L550.1 952L553.9 957.8Z"/>
<path d="M547.7 957.7L551.5 951.9L555.3 957.7Z"/>
<path d="M549.1 957.8L552.9 952L556.7 957.8Z"/>
<path d="M550.5 957.9L554.3 952.1L558.1 957.9Z"/>
<path d="M551.9 958L555.7 952.2L559.5 958Z"/>
<path d="M553.4 958.1L557.2 952.3L561 958.1Z"/>
<path d="M554.8 958.3L558.6 952.5L562.4 958.3Z"/>
<path d="M556.2 958.2L560 952.4L563.8 958.2Z"/>
<path d="M557.6 958.1L561.4 952.3L565.2 958.1Z"/>
<path d="M559 958.2L562.8 952.4L566.6 958.2Z"/>
<path d="M560.5 958.2L564.3 952.4L568.1 958.2Z"/>
<path d="M561.9 958.2L565.7 952.4L569.5 958.2Z"/>
<path d="M563.3 958.3L567.1 952.5L570.9 958.3Z"/>
<path d="M564.7 958.3L568.5 952.5L572.3 958.3Z"/>
<path d="M566.1 958.4L569.9 952.6L573.7 958.4Z"/>
<path d="M567.6 958.3L571.4 952.5L575.2 958.3Z"/>
<path d="M569 958.2L572.8 952.4L576.6 958.2Z"/>
<path d="M570.4 958.2L574.2 952.4L578 958.2Z"/>
<path d="M571.8 958.2L575.6 952.4L579.4 958.2Z"/>
<path d="M573.2 958.2L577 952.4L580.8 958.2Z"/>
<path d="M574.7 958.3L578.5 952.5L582.3 958.3Z"/>
<path d="M576.1 958.3L579.9 952.5L583.7 958.3Z"/>
<path d="M577.5 958.4L581.3 952.6L585.1 958.4Z"/>
<path d="M578.9 958.3L582.7 952.5L586.5 958.3Z"/>
<path d="M580.3 958.2L584.1 952.4L587.9 958.2Z"/>
<path d="M581.8 958.3L585.6 952.5L589.4 958.3Z"/>
<path d="M583.2 958.3L587 952.5L590.8 958.3Z"/>
<path d="M584.6 958.2L588.4 952.4L592.2 958.2Z"/>
<path d="M586 958.2L589.8 952.4L593.6 958.2Z"/>
<path d="M587.4 958.2L591.2 952.4L595 958.2Z"/>
<path d="M588.9 958.2L592.7 952.4L596.5 958.2Z"/>
<path d="M590.3 958.1L594.1 952.3L597.9 958.1Z"/>
<path d="M591.7 958.2L595.5 952.4L599.3 958.2Z"/>
<path d="M593.1 958.3L596.9 952.5L600.7 958.3Z"/>
<path d="M594.5 958.3L598.3 952.5L602.1 958.3Z"/>
<path d="M596 958.3L599.8 952.5L603.6 958.3Z"/>
<path d="M597.4 958.3L601.2 952.5L605 958.3Z"/>
<path d="M598.8 958.2L602.6 952.4L606.4 958.2Z"/>
<path d="M600.2 958.2L604 952.4L607.8 958.2Z"/>
<path d="M601.6 958.3L605.4 952.5L609.2 958.3Z"/>
<path d="M603.1 958.3L606.9 952.5L610.7 958.3Z"/>
<path d="M604.5 958.3L608.3 952.5L612.1 958.3Z"/>
<path d="M605.9 958.4L609.7 952.6L613.5 958.4Z"/>
<path d="M607.3 958.3L611.1 952.5L614.9 958.3Z"/>
<path d="M608.7 958.4L612.5 952.6L616.3 958.4Z"/>
<path d="M610.2 958.3L614 952.5L617.8 958.3Z"/>
<path d="M611.6 958.3L615.4 952.5L619.2 958.3Z"/>
<path d="M613 958.3L616.8 952.5L620.6 958.3Z"/>
<path d="M614.4 958.3L618.2 952.5L622 958.3Z"/>
<path d="M615.8 958.2L619.6 952.4L623.4 958.2Z"/>
<path d="M617.3 958.3L621.1 952.5L624.9 958.3Z"/>
<path d="M618.7 958.4L622.5 952.6L626.3 958.4Z"/>
<path d="M620.1 958.4L623.9 952.6L627.7 958.4Z"/>
<path d="M621.5 958.5L625.3 952.7L629.1 958.5Z"/>
<path d="M622.9 958.5L626.7 952.7L630.5 958.5Z"/>
<path d="M624.4 958.4L628.2 952.6L632 958.4Z"/>
<path d="M625.8 958.3L629.6 952.5L633.4 958.3Z"/>
<path d="M627.2 958.4L631 952.6L634.8 958.4Z"/>
<path d="M628.6 958.4L632.4 952.6L636.2 958.4Z"/>
<path d="M630 958.4L633.8 952.6L637.6 958.4Z"/>
<path d="M631.5 958.5L635.3 952.7L639.1 958.5Z"/>
<path d="M632.9 958.5L636.7 952.7L640.5 958.5Z"/>
<path d="M634.3 958.3L638.1 952.5L641.9 958.3Z"/>
<path d="M635.7 958.3L639.5 952.5L643.3 958.3Z"/>
<path d="M637.1 958.4L640.9 952.6L644.7 958.4Z"/>
<path d="M638.6 958.5L642.4 952.7L646.2 958.5Z"/>
</g>
<polyline points="91.4,955.5 92.8,955.4 94.2,955.4 95.7,955.5 97.1,955.5 98.5,955.4 99.9,955.4 101.3,955.3 102.8,955.4 104.2,955.6 105.6,955.5 107,955.5 108.4,955.5 109.9,955.5 111.3,955.4 112.7,955.4 114.1,955.6 115.5,955.6 117,955.4 118.4,955.4 119.8,955.5 121.2,955.6 122.6,955.6 124.1,955.6 125.5,955.6 126.9,955.5 128.3,955.6 129.7,955.7 131.2,955.6 132.6,955.6 134,955.7 135.4,955.7 136.8,955.7 138.3,955.8 139.7,955.6 141.1,955.5 142.5,955.5 143.9,955.6 145.4,955.7 146.8,955.7 148.2,955.7 149.6,955.8 151,955.8 152.5,955.7 153.9,955.7 155.3,955.7 156.7,955.8 158.1,955.7 159.6,955.7 161,955.7 162.4,955.7 163.8,955.7 165.2,955.7 166.7,955.7 168.1,955.6 169.5,955.6 170.9,955.7 172.3,955.6 173.8,955.7 175.2,955.8 176.6,955.7 178,955.7 179.4,955.7 180.9,955.6 182.3,955.6 183.7,955.6 185.1,955.6 186.5,955.6 188,955.3 189.4,955.3 190.8,955.3 192.2,955.2 193.6,955.1 195.1,955.1 196.5,955 197.9,954.8 199.3,954.8 200.7,954.7 202.2,954.6 203.6,954.2 205,954 206.4,953.8 207.8,953.6 209.3,953.3 210.7,952.8 212.1,952.5 213.5,952.5 214.9,952.1 216.4,951.7 217.8,951.4 219.2,951.2 220.6,950.9 222,950.6 223.5,950.4 224.9,949.8 226.3,949.3 227.7,948.7 229.1,948.5 230.6,948.1 232,947.9 233.4,947.2 234.8,947 236.2,946.2 237.7,945.6 239.1,945.5 240.5,945.1 241.9,944.4 243.3,943.7 244.8,943.2 246.2,943 247.6,942.6 249,941.6 250.4,941.5 251.9,941.2 253.3,940 254.7,939.8" fill="none" stroke="#a8385c" stroke-width="2.0" stroke-linejoin="round" opacity="0.5"/>
<polyline points="472,940.4 473.4,941.5 474.8,941.6 476.2,941.9 477.6,942.4 479.1,942.7 480.5,943.2 481.9,943.8 483.3,944.1 484.7,944.3 486.2,944.6 487.6,944.9 489,945.5 490.4,945.6 491.8,945.8 493.3,946.3 494.7,946.9 496.1,947.4 497.5,947.6 498.9,947.9 500.4,948.6 501.8,948.8 503.2,949.2 504.6,949.5 506,949.7 507.5,949.9 508.9,950.3 510.3,950.6 511.7,950.9 513.1,951.4 514.6,951.8 516,952.2 517.4,952.5 518.8,952.4 520.2,952.7 521.7,952.7 523.1,952.8 524.5,953.1 525.9,953.2 527.3,953.2 528.8,953.5 530.2,953.8 531.6,954.1 533,954.2 534.4,954.2 535.9,954.2 537.3,954.4 538.7,954.7 540.1,954.8 541.5,954.9 543,954.9 544.4,955 545.8,955 547.2,955 548.6,955.2 550.1,955.3 551.5,955.2 552.9,955.3 554.3,955.4 555.7,955.5 557.2,955.6 558.6,955.8 560,955.7 561.4,955.6 562.8,955.7 564.3,955.7 565.7,955.7 567.1,955.8 568.5,955.8 569.9,955.9 571.4,955.8 572.8,955.7 574.2,955.7 575.6,955.7 577,955.7 578.5,955.8 579.9,955.8 581.3,955.9 582.7,955.8 584.1,955.7 585.6,955.8 587,955.8 588.4,955.7 589.8,955.7 591.2,955.7 592.7,955.7 594.1,955.6 595.5,955.7 596.9,955.8 598.3,955.8 599.8,955.8 601.2,955.8 602.6,955.7 604,955.7 605.4,955.8 606.9,955.8 608.3,955.8 609.7,955.9 611.1,955.8 612.5,955.9 614,955.8 615.4,955.8 616.8,955.8 618.2,955.8 619.6,955.7 621.1,955.8 622.5,955.9 623.9,955.9 625.3,956 626.7,956 628.2,955.9 629.6,955.8 631,955.9 632.4,955.9 633.8,955.9 635.3,956 636.7,956 638.1,955.8 639.5,955.8 640.9,955.9 642.4,956" fill="none" stroke="#a8385c" stroke-width="2.0" stroke-linejoin="round" opacity="0.5"/>
</g>
<text x="508.6" y="575.2" font-size="15.2" font-weight="normal" text-anchor="start" fill="#1a1a1a" textLength="128.2" lengthAdjust="spacingAndGlyphs">Combustor length</text>
<path d="M531.8 589.7H569.6" stroke="#1a1a8f" stroke-width="2.1"/>
<rect x="549.1" y="587.9" width="3.6" height="3.6" fill="#fff" stroke="#3a3ab0" stroke-width="0.7"/>
<text x="577.8" y="595.4" font-size="16.0" font-weight="normal" text-anchor="start" fill="#1a1a1a" textLength="36" lengthAdjust="spacingAndGlyphs">1160</text>
<path d="M531.8 609.7H569.6" stroke="#fad0d9" stroke-width="2.1"/>
<rect x="549.1" y="607.9" width="3.6" height="3.6" fill="#fff" stroke="#f8c8d3" stroke-width="0.7"/>
<text x="577.8" y="615.4" font-size="16.0" font-weight="normal" text-anchor="start" fill="#1a1a1a" textLength="36" lengthAdjust="spacingAndGlyphs">1280</text>
<path d="M531.8 629.7H569.6" stroke="#9a2e55" stroke-width="2.1"/>
<rect x="549.1" y="627.9" width="3.6" height="3.6" fill="#fff" stroke="#b0486a" stroke-width="0.7"/>
<text x="577.8" y="635.4" font-size="16.0" font-weight="normal" text-anchor="start" fill="#1a1a1a" textLength="36" lengthAdjust="spacingAndGlyphs">1400</text>
<g font-weight="bold" font-size="17" fill="#1f1f1f">
<text x="79.0" y="563.3" text-anchor="end" textLength="42" lengthAdjust="spacingAndGlyphs">3000</text>
<text x="79.0" y="629.6" text-anchor="end" textLength="42" lengthAdjust="spacingAndGlyphs">2500</text>
<text x="79.0" y="696" text-anchor="end" textLength="42" lengthAdjust="spacingAndGlyphs">2000</text>
<text x="79.0" y="762.1" text-anchor="end" textLength="42" lengthAdjust="spacingAndGlyphs">1500</text>
<text x="79.0" y="828.4" text-anchor="end" textLength="42" lengthAdjust="spacingAndGlyphs">1000</text>
<text x="79.0" y="895.5" text-anchor="end" textLength="31.2" lengthAdjust="spacingAndGlyphs">500</text>
<text x="79.0" y="970" text-anchor="end" textLength="10.6" lengthAdjust="spacingAndGlyphs">0</text>
<text x="112" y="986.5" text-anchor="middle" textLength="25.8" lengthAdjust="spacingAndGlyphs">-60</text>
<text x="154.5" y="986.5" text-anchor="middle" textLength="25.8" lengthAdjust="spacingAndGlyphs">-50</text>
<text x="197" y="986.5" text-anchor="middle" textLength="25.8" lengthAdjust="spacingAndGlyphs">-40</text>
<text x="239.6" y="986.5" text-anchor="middle" textLength="25.8" lengthAdjust="spacingAndGlyphs">-30</text>
<text x="282.1" y="986.5" text-anchor="middle" textLength="25.8" lengthAdjust="spacingAndGlyphs">-20</text>
<text x="324.6" y="986.5" text-anchor="middle" textLength="25.8" lengthAdjust="spacingAndGlyphs">-10</text>
<text x="367.1" y="986.5" text-anchor="middle" textLength="10.6" lengthAdjust="spacingAndGlyphs">0</text>
<text x="409.6" y="986.5" text-anchor="middle" textLength="20.4" lengthAdjust="spacingAndGlyphs">10</text>
<text x="452.1" y="986.5" text-anchor="middle" textLength="20.4" lengthAdjust="spacingAndGlyphs">20</text>
<text x="494.6" y="986.5" text-anchor="middle" textLength="20.4" lengthAdjust="spacingAndGlyphs">30</text>
<text x="537.2" y="986.5" text-anchor="middle" textLength="20.4" lengthAdjust="spacingAndGlyphs">40</text>
<text x="579.7" y="986.5" text-anchor="middle" textLength="20.4" lengthAdjust="spacingAndGlyphs">50</text>
<text x="622.2" y="986.5" text-anchor="middle" textLength="20.4" lengthAdjust="spacingAndGlyphs">60</text>
</g>
<text x="274.6" y="1019" font-size="18.5" font-weight="normal" text-anchor="start" fill="#1a1a1a" textLength="187" lengthAdjust="spacingAndGlyphs">Radial position [mm]</text>
<text transform="translate(16.4 759.3) rotate(-90)" font-size="18.7" text-anchor="middle" fill="#1a1a1a" textLength="132.4" lengthAdjust="spacingAndGlyphs">Intensity [A.U.]</text>
<text x="0.3" y="545.5" font-size="21.8" font-weight="normal" text-anchor="start" fill="#1a1a1a" textLength="28.4" lengthAdjust="spacingAndGlyphs">(b)</text>
</svg></body></html>
